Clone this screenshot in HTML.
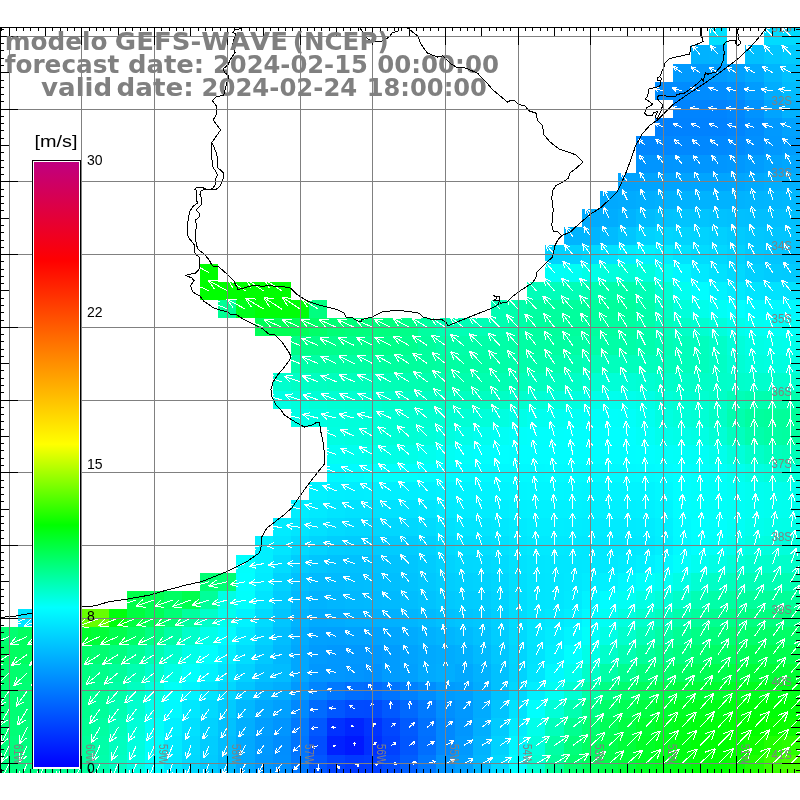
<!DOCTYPE html>
<html><head><meta charset="utf-8"><title>GEFS-WAVE wind forecast</title>
<style>html,body{margin:0;padding:0;background:#fff}svg{display:block}</style></head>
<body>
<svg width="800" height="800" viewBox="0 0 800 800">
<defs><filter id="ga" x="0" y="0" width="800" height="800" filterUnits="userSpaceOnUse"><feOffset dx="0" dy="0"/></filter></defs>
<rect x="0" y="0" width="800" height="800" fill="#fff"/>
<g shape-rendering="crispEdges">
<rect x="709" y="27" width="18" height="18" fill="#00e0ff"/>
<rect x="764" y="27" width="36" height="18" fill="#00dbff"/>
<rect x="691" y="45" width="18" height="19" fill="#00b2ff"/>
<rect x="709" y="45" width="18" height="19" fill="#00b3ff"/>
<rect x="745" y="45" width="19" height="19" fill="#00bfff"/>
<rect x="764" y="45" width="18" height="19" fill="#00c6ff"/>
<rect x="782" y="45" width="18" height="19" fill="#00cbff"/>
<rect x="673" y="64" width="36" height="18" fill="#009aff"/>
<rect x="709" y="64" width="18" height="18" fill="#009bff"/>
<rect x="727" y="64" width="18" height="18" fill="#00a0ff"/>
<rect x="745" y="64" width="19" height="18" fill="#00a9ff"/>
<rect x="764" y="64" width="18" height="18" fill="#00b6ff"/>
<rect x="782" y="64" width="18" height="18" fill="#00c1ff"/>
<rect x="655" y="82" width="54" height="18" fill="#008cff"/>
<rect x="709" y="82" width="18" height="18" fill="#008dff"/>
<rect x="727" y="82" width="18" height="18" fill="#0091ff"/>
<rect x="745" y="82" width="19" height="18" fill="#009cff"/>
<rect x="764" y="82" width="18" height="18" fill="#00adff"/>
<rect x="782" y="82" width="18" height="18" fill="#00bbff"/>
<rect x="673" y="100" width="54" height="18" fill="#0084ff"/>
<rect x="727" y="100" width="18" height="18" fill="#0088ff"/>
<rect x="745" y="100" width="19" height="18" fill="#0093ff"/>
<rect x="764" y="100" width="18" height="18" fill="#00a4ff"/>
<rect x="782" y="100" width="18" height="18" fill="#00b1ff"/>
<rect x="655" y="118" width="18" height="18" fill="#0081ff"/>
<rect x="673" y="118" width="54" height="18" fill="#0082ff"/>
<rect x="727" y="118" width="18" height="18" fill="#0085ff"/>
<rect x="745" y="118" width="19" height="18" fill="#008dff"/>
<rect x="764" y="118" width="18" height="18" fill="#0099ff"/>
<rect x="782" y="118" width="18" height="18" fill="#00a2ff"/>
<rect x="636" y="136" width="37" height="19" fill="#0087ff"/>
<rect x="673" y="136" width="36" height="19" fill="#0088ff"/>
<rect x="709" y="136" width="18" height="19" fill="#0089ff"/>
<rect x="727" y="136" width="18" height="19" fill="#008bff"/>
<rect x="745" y="136" width="19" height="19" fill="#0090ff"/>
<rect x="764" y="136" width="18" height="19" fill="#0098ff"/>
<rect x="782" y="136" width="18" height="19" fill="#009eff"/>
<rect x="636" y="155" width="37" height="18" fill="#0095ff"/>
<rect x="673" y="155" width="54" height="18" fill="#0096ff"/>
<rect x="727" y="155" width="18" height="18" fill="#0098ff"/>
<rect x="745" y="155" width="19" height="18" fill="#009dff"/>
<rect x="764" y="155" width="18" height="18" fill="#00a3ff"/>
<rect x="782" y="155" width="18" height="18" fill="#00a7ff"/>
<rect x="618" y="173" width="18" height="18" fill="#00a3ff"/>
<rect x="636" y="173" width="55" height="18" fill="#00a4ff"/>
<rect x="691" y="173" width="36" height="18" fill="#00a5ff"/>
<rect x="727" y="173" width="18" height="18" fill="#00a6ff"/>
<rect x="745" y="173" width="19" height="18" fill="#00aaff"/>
<rect x="764" y="173" width="18" height="18" fill="#00aeff"/>
<rect x="782" y="173" width="18" height="18" fill="#00b1ff"/>
<rect x="600" y="191" width="18" height="18" fill="#00a9ff"/>
<rect x="618" y="191" width="18" height="18" fill="#00abff"/>
<rect x="636" y="191" width="19" height="18" fill="#00aeff"/>
<rect x="655" y="191" width="18" height="18" fill="#00b1ff"/>
<rect x="673" y="191" width="18" height="18" fill="#00b2ff"/>
<rect x="691" y="191" width="54" height="18" fill="#00b3ff"/>
<rect x="745" y="191" width="19" height="18" fill="#00b5ff"/>
<rect x="764" y="191" width="18" height="18" fill="#00b6ff"/>
<rect x="782" y="191" width="18" height="18" fill="#00b8ff"/>
<rect x="582" y="209" width="18" height="18" fill="#00abff"/>
<rect x="600" y="209" width="18" height="18" fill="#00adff"/>
<rect x="618" y="209" width="18" height="18" fill="#00b3ff"/>
<rect x="636" y="209" width="19" height="18" fill="#00bcff"/>
<rect x="655" y="209" width="18" height="18" fill="#00c2ff"/>
<rect x="673" y="209" width="36" height="18" fill="#00c4ff"/>
<rect x="709" y="209" width="18" height="18" fill="#00c2ff"/>
<rect x="727" y="209" width="18" height="18" fill="#00c0ff"/>
<rect x="745" y="209" width="37" height="18" fill="#00bfff"/>
<rect x="782" y="209" width="18" height="18" fill="#00c0ff"/>
<rect x="564" y="227" width="18" height="18" fill="#00b4ff"/>
<rect x="582" y="227" width="18" height="18" fill="#00b5ff"/>
<rect x="600" y="227" width="18" height="18" fill="#00bbff"/>
<rect x="618" y="227" width="18" height="18" fill="#00c6ff"/>
<rect x="636" y="227" width="19" height="18" fill="#00d2ff"/>
<rect x="655" y="227" width="18" height="18" fill="#00d6ff"/>
<rect x="673" y="227" width="18" height="18" fill="#00d4ff"/>
<rect x="691" y="227" width="18" height="18" fill="#00d3ff"/>
<rect x="709" y="227" width="18" height="18" fill="#00d0ff"/>
<rect x="727" y="227" width="18" height="18" fill="#00cbff"/>
<rect x="745" y="227" width="19" height="18" fill="#00c7ff"/>
<rect x="764" y="227" width="36" height="18" fill="#00c5ff"/>
<rect x="545" y="245" width="37" height="19" fill="#00d2ff"/>
<rect x="582" y="245" width="18" height="19" fill="#00d9ff"/>
<rect x="600" y="245" width="18" height="19" fill="#00e2ff"/>
<rect x="618" y="245" width="18" height="19" fill="#00edff"/>
<rect x="636" y="245" width="19" height="19" fill="#00f2ff"/>
<rect x="655" y="245" width="18" height="19" fill="#00edff"/>
<rect x="673" y="245" width="18" height="19" fill="#00e3ff"/>
<rect x="691" y="245" width="18" height="19" fill="#00dcff"/>
<rect x="709" y="245" width="18" height="19" fill="#00d8ff"/>
<rect x="727" y="245" width="18" height="19" fill="#00d2ff"/>
<rect x="745" y="245" width="19" height="19" fill="#00c9ff"/>
<rect x="764" y="245" width="18" height="19" fill="#00c5ff"/>
<rect x="782" y="245" width="18" height="19" fill="#00c4ff"/>
<rect x="200" y="264" width="18" height="18" fill="#00ff00"/>
<rect x="545" y="264" width="19" height="18" fill="#00fff7"/>
<rect x="564" y="264" width="18" height="18" fill="#00fff4"/>
<rect x="582" y="264" width="18" height="18" fill="#00ffe8"/>
<rect x="600" y="264" width="18" height="18" fill="#00ffdd"/>
<rect x="618" y="264" width="18" height="18" fill="#00ffd7"/>
<rect x="636" y="264" width="19" height="18" fill="#00ffdd"/>
<rect x="655" y="264" width="18" height="18" fill="#00fff2"/>
<rect x="673" y="264" width="18" height="18" fill="#00f7ff"/>
<rect x="691" y="264" width="18" height="18" fill="#00e9ff"/>
<rect x="709" y="264" width="18" height="18" fill="#00e2ff"/>
<rect x="727" y="264" width="18" height="18" fill="#00daff"/>
<rect x="745" y="264" width="19" height="18" fill="#00d0ff"/>
<rect x="764" y="264" width="18" height="18" fill="#00ccff"/>
<rect x="782" y="264" width="18" height="18" fill="#00cbff"/>
<rect x="200" y="282" width="91" height="18" fill="#00ff00"/>
<rect x="527" y="282" width="18" height="18" fill="#00ffb9"/>
<rect x="545" y="282" width="19" height="18" fill="#00ffba"/>
<rect x="564" y="282" width="18" height="18" fill="#00ffb7"/>
<rect x="582" y="282" width="18" height="18" fill="#00ffb0"/>
<rect x="600" y="282" width="18" height="18" fill="#00ffaa"/>
<rect x="618" y="282" width="18" height="18" fill="#00ffa9"/>
<rect x="636" y="282" width="19" height="18" fill="#00ffb6"/>
<rect x="655" y="282" width="18" height="18" fill="#00ffd3"/>
<rect x="673" y="282" width="18" height="18" fill="#00fff0"/>
<rect x="691" y="282" width="18" height="18" fill="#00fdff"/>
<rect x="709" y="282" width="18" height="18" fill="#00f3ff"/>
<rect x="727" y="282" width="18" height="18" fill="#00ebff"/>
<rect x="745" y="282" width="19" height="18" fill="#00e5ff"/>
<rect x="764" y="282" width="18" height="18" fill="#00e3ff"/>
<rect x="782" y="282" width="18" height="18" fill="#00e2ff"/>
<rect x="218" y="300" width="18" height="18" fill="#00ff94"/>
<rect x="236" y="300" width="19" height="18" fill="#00ff1a"/>
<rect x="255" y="300" width="54" height="18" fill="#00ff08"/>
<rect x="309" y="300" width="18" height="18" fill="#00ff80"/>
<rect x="491" y="300" width="18" height="18" fill="#00ffb3"/>
<rect x="509" y="300" width="18" height="18" fill="#00ffab"/>
<rect x="527" y="300" width="18" height="18" fill="#00ffa2"/>
<rect x="545" y="300" width="19" height="18" fill="#00ff9e"/>
<rect x="564" y="300" width="54" height="18" fill="#00ff9d"/>
<rect x="618" y="300" width="18" height="18" fill="#00ff9e"/>
<rect x="636" y="300" width="19" height="18" fill="#00ffaa"/>
<rect x="655" y="300" width="18" height="18" fill="#00ffc4"/>
<rect x="673" y="300" width="18" height="18" fill="#00ffdb"/>
<rect x="691" y="300" width="18" height="18" fill="#00ffeb"/>
<rect x="709" y="300" width="18" height="18" fill="#00fff6"/>
<rect x="727" y="300" width="18" height="18" fill="#00ffff"/>
<rect x="745" y="300" width="19" height="18" fill="#00faff"/>
<rect x="764" y="300" width="36" height="18" fill="#00f9ff"/>
<rect x="255" y="318" width="18" height="18" fill="#00ff57"/>
<rect x="273" y="318" width="18" height="18" fill="#00ff54"/>
<rect x="291" y="318" width="18" height="18" fill="#00ff59"/>
<rect x="309" y="318" width="18" height="18" fill="#00ff68"/>
<rect x="327" y="318" width="18" height="18" fill="#00ff75"/>
<rect x="345" y="318" width="19" height="18" fill="#00ff7b"/>
<rect x="364" y="318" width="36" height="18" fill="#00ff7e"/>
<rect x="400" y="318" width="18" height="18" fill="#00ff89"/>
<rect x="418" y="318" width="18" height="18" fill="#00ffa1"/>
<rect x="436" y="318" width="19" height="18" fill="#00ffb2"/>
<rect x="455" y="318" width="36" height="18" fill="#00ffb6"/>
<rect x="491" y="318" width="18" height="18" fill="#00ffb1"/>
<rect x="509" y="318" width="18" height="18" fill="#00ffa9"/>
<rect x="527" y="318" width="18" height="18" fill="#00ffa0"/>
<rect x="545" y="318" width="19" height="18" fill="#00ff9c"/>
<rect x="564" y="318" width="18" height="18" fill="#00ff9d"/>
<rect x="582" y="318" width="18" height="18" fill="#00ff9f"/>
<rect x="600" y="318" width="18" height="18" fill="#00ffa0"/>
<rect x="618" y="318" width="18" height="18" fill="#00ffa1"/>
<rect x="636" y="318" width="19" height="18" fill="#00ffaa"/>
<rect x="655" y="318" width="18" height="18" fill="#00ffbc"/>
<rect x="673" y="318" width="18" height="18" fill="#00ffc8"/>
<rect x="691" y="318" width="18" height="18" fill="#00ffd1"/>
<rect x="709" y="318" width="18" height="18" fill="#00ffdc"/>
<rect x="727" y="318" width="18" height="18" fill="#00ffeb"/>
<rect x="745" y="318" width="19" height="18" fill="#00fff3"/>
<rect x="764" y="318" width="18" height="18" fill="#00fff6"/>
<rect x="782" y="318" width="18" height="18" fill="#00fff7"/>
<rect x="291" y="336" width="18" height="19" fill="#00ff87"/>
<rect x="309" y="336" width="18" height="19" fill="#00ff89"/>
<rect x="327" y="336" width="18" height="19" fill="#00ff8d"/>
<rect x="345" y="336" width="19" height="19" fill="#00ff8f"/>
<rect x="364" y="336" width="18" height="19" fill="#00ff8d"/>
<rect x="382" y="336" width="18" height="19" fill="#00ff8a"/>
<rect x="400" y="336" width="18" height="19" fill="#00ff8f"/>
<rect x="418" y="336" width="18" height="19" fill="#00ff9d"/>
<rect x="436" y="336" width="19" height="19" fill="#00ffa7"/>
<rect x="455" y="336" width="36" height="19" fill="#00ffa9"/>
<rect x="491" y="336" width="18" height="19" fill="#00ffa8"/>
<rect x="509" y="336" width="18" height="19" fill="#00ffa5"/>
<rect x="527" y="336" width="18" height="19" fill="#00ffa3"/>
<rect x="545" y="336" width="19" height="19" fill="#00ffa1"/>
<rect x="564" y="336" width="18" height="19" fill="#00ffa3"/>
<rect x="582" y="336" width="18" height="19" fill="#00ffa6"/>
<rect x="600" y="336" width="18" height="19" fill="#00ffa7"/>
<rect x="618" y="336" width="18" height="19" fill="#00ffa8"/>
<rect x="636" y="336" width="19" height="19" fill="#00ffad"/>
<rect x="655" y="336" width="18" height="19" fill="#00ffb5"/>
<rect x="673" y="336" width="18" height="19" fill="#00ffbb"/>
<rect x="691" y="336" width="18" height="19" fill="#00ffbe"/>
<rect x="709" y="336" width="18" height="19" fill="#00ffc8"/>
<rect x="727" y="336" width="18" height="19" fill="#00ffda"/>
<rect x="745" y="336" width="19" height="19" fill="#00ffe5"/>
<rect x="764" y="336" width="18" height="19" fill="#00ffe9"/>
<rect x="782" y="336" width="18" height="19" fill="#00ffeb"/>
<rect x="291" y="355" width="18" height="18" fill="#00ffa9"/>
<rect x="309" y="355" width="18" height="18" fill="#00ffa6"/>
<rect x="327" y="355" width="37" height="18" fill="#00ffa5"/>
<rect x="364" y="355" width="18" height="18" fill="#00ffa3"/>
<rect x="382" y="355" width="18" height="18" fill="#00ff9f"/>
<rect x="400" y="355" width="18" height="18" fill="#00ff9d"/>
<rect x="418" y="355" width="18" height="18" fill="#00ff9f"/>
<rect x="436" y="355" width="19" height="18" fill="#00ffa2"/>
<rect x="455" y="355" width="18" height="18" fill="#00ffa4"/>
<rect x="473" y="355" width="18" height="18" fill="#00ffa6"/>
<rect x="491" y="355" width="18" height="18" fill="#00ffa8"/>
<rect x="509" y="355" width="18" height="18" fill="#00ffab"/>
<rect x="527" y="355" width="18" height="18" fill="#00ffac"/>
<rect x="545" y="355" width="19" height="18" fill="#00ffad"/>
<rect x="564" y="355" width="18" height="18" fill="#00ffb1"/>
<rect x="582" y="355" width="18" height="18" fill="#00ffb8"/>
<rect x="600" y="355" width="55" height="18" fill="#00ffbd"/>
<rect x="655" y="355" width="18" height="18" fill="#00ffbc"/>
<rect x="673" y="355" width="18" height="18" fill="#00ffbb"/>
<rect x="691" y="355" width="18" height="18" fill="#00ffbd"/>
<rect x="709" y="355" width="18" height="18" fill="#00ffc5"/>
<rect x="727" y="355" width="18" height="18" fill="#00ffd4"/>
<rect x="745" y="355" width="19" height="18" fill="#00ffdd"/>
<rect x="764" y="355" width="18" height="18" fill="#00ffe0"/>
<rect x="782" y="355" width="18" height="18" fill="#00ffe1"/>
<rect x="273" y="373" width="18" height="18" fill="#00ffce"/>
<rect x="291" y="373" width="18" height="18" fill="#00ffc6"/>
<rect x="309" y="373" width="18" height="18" fill="#00ffc1"/>
<rect x="327" y="373" width="18" height="18" fill="#00ffbd"/>
<rect x="345" y="373" width="19" height="18" fill="#00ffbc"/>
<rect x="364" y="373" width="18" height="18" fill="#00ffbb"/>
<rect x="382" y="373" width="18" height="18" fill="#00ffb7"/>
<rect x="400" y="373" width="18" height="18" fill="#00ffb2"/>
<rect x="418" y="373" width="18" height="18" fill="#00ffaf"/>
<rect x="436" y="373" width="37" height="18" fill="#00ffae"/>
<rect x="473" y="373" width="18" height="18" fill="#00ffb0"/>
<rect x="491" y="373" width="18" height="18" fill="#00ffb3"/>
<rect x="509" y="373" width="18" height="18" fill="#00ffb9"/>
<rect x="527" y="373" width="18" height="18" fill="#00ffbe"/>
<rect x="545" y="373" width="19" height="18" fill="#00ffc1"/>
<rect x="564" y="373" width="18" height="18" fill="#00ffc7"/>
<rect x="582" y="373" width="18" height="18" fill="#00ffd1"/>
<rect x="600" y="373" width="36" height="18" fill="#00ffd7"/>
<rect x="636" y="373" width="19" height="18" fill="#00ffd3"/>
<rect x="655" y="373" width="18" height="18" fill="#00ffcc"/>
<rect x="673" y="373" width="18" height="18" fill="#00ffc9"/>
<rect x="691" y="373" width="18" height="18" fill="#00ffc8"/>
<rect x="709" y="373" width="18" height="18" fill="#00ffc9"/>
<rect x="727" y="373" width="18" height="18" fill="#00ffcb"/>
<rect x="745" y="373" width="55" height="18" fill="#00ffcd"/>
<rect x="273" y="391" width="18" height="18" fill="#00ffe4"/>
<rect x="291" y="391" width="18" height="18" fill="#00ffdc"/>
<rect x="309" y="391" width="18" height="18" fill="#00ffd6"/>
<rect x="327" y="391" width="18" height="18" fill="#00ffd3"/>
<rect x="345" y="391" width="19" height="18" fill="#00ffd1"/>
<rect x="364" y="391" width="18" height="18" fill="#00ffcf"/>
<rect x="382" y="391" width="18" height="18" fill="#00ffcb"/>
<rect x="400" y="391" width="18" height="18" fill="#00ffc7"/>
<rect x="418" y="391" width="18" height="18" fill="#00ffc4"/>
<rect x="436" y="391" width="37" height="18" fill="#00ffc1"/>
<rect x="473" y="391" width="18" height="18" fill="#00ffc2"/>
<rect x="491" y="391" width="18" height="18" fill="#00ffc6"/>
<rect x="509" y="391" width="18" height="18" fill="#00ffce"/>
<rect x="527" y="391" width="18" height="18" fill="#00ffd6"/>
<rect x="545" y="391" width="19" height="18" fill="#00ffda"/>
<rect x="564" y="391" width="18" height="18" fill="#00ffdf"/>
<rect x="582" y="391" width="18" height="18" fill="#00ffe8"/>
<rect x="600" y="391" width="18" height="18" fill="#00ffed"/>
<rect x="618" y="391" width="18" height="18" fill="#00ffec"/>
<rect x="636" y="391" width="19" height="18" fill="#00ffe6"/>
<rect x="655" y="391" width="18" height="18" fill="#00ffd9"/>
<rect x="673" y="391" width="18" height="18" fill="#00ffd3"/>
<rect x="691" y="391" width="18" height="18" fill="#00ffd0"/>
<rect x="709" y="391" width="18" height="18" fill="#00ffc8"/>
<rect x="727" y="391" width="18" height="18" fill="#00ffb8"/>
<rect x="745" y="391" width="19" height="18" fill="#00ffb0"/>
<rect x="764" y="391" width="36" height="18" fill="#00ffae"/>
<rect x="291" y="409" width="18" height="18" fill="#00ffe5"/>
<rect x="309" y="409" width="18" height="18" fill="#00ffe2"/>
<rect x="327" y="409" width="18" height="18" fill="#00ffde"/>
<rect x="345" y="409" width="19" height="18" fill="#00ffdb"/>
<rect x="364" y="409" width="18" height="18" fill="#00ffd8"/>
<rect x="382" y="409" width="18" height="18" fill="#00ffd3"/>
<rect x="400" y="409" width="36" height="18" fill="#00ffd0"/>
<rect x="436" y="409" width="19" height="18" fill="#00ffd2"/>
<rect x="455" y="409" width="18" height="18" fill="#00ffd5"/>
<rect x="473" y="409" width="18" height="18" fill="#00ffda"/>
<rect x="491" y="409" width="18" height="18" fill="#00ffe0"/>
<rect x="509" y="409" width="18" height="18" fill="#00ffe8"/>
<rect x="527" y="409" width="18" height="18" fill="#00ffef"/>
<rect x="545" y="409" width="19" height="18" fill="#00fff1"/>
<rect x="564" y="409" width="18" height="18" fill="#00fff4"/>
<rect x="582" y="409" width="18" height="18" fill="#00fff8"/>
<rect x="600" y="409" width="18" height="18" fill="#00fffa"/>
<rect x="618" y="409" width="18" height="18" fill="#00fff9"/>
<rect x="636" y="409" width="19" height="18" fill="#00fff0"/>
<rect x="655" y="409" width="18" height="18" fill="#00ffe1"/>
<rect x="673" y="409" width="18" height="18" fill="#00ffd9"/>
<rect x="691" y="409" width="18" height="18" fill="#00ffd5"/>
<rect x="709" y="409" width="18" height="18" fill="#00ffc7"/>
<rect x="727" y="409" width="18" height="18" fill="#00ffaf"/>
<rect x="745" y="409" width="19" height="18" fill="#00ff9f"/>
<rect x="764" y="409" width="18" height="18" fill="#00ff9b"/>
<rect x="782" y="409" width="18" height="18" fill="#00ff9a"/>
<rect x="327" y="427" width="18" height="18" fill="#00ffe2"/>
<rect x="345" y="427" width="19" height="18" fill="#00ffde"/>
<rect x="364" y="427" width="18" height="18" fill="#00ffda"/>
<rect x="382" y="427" width="18" height="18" fill="#00ffd6"/>
<rect x="400" y="427" width="18" height="18" fill="#00ffd5"/>
<rect x="418" y="427" width="18" height="18" fill="#00ffd9"/>
<rect x="436" y="427" width="19" height="18" fill="#00ffe0"/>
<rect x="455" y="427" width="18" height="18" fill="#00ffe7"/>
<rect x="473" y="427" width="18" height="18" fill="#00ffef"/>
<rect x="491" y="427" width="18" height="18" fill="#00fff5"/>
<rect x="509" y="427" width="18" height="18" fill="#00fffa"/>
<rect x="527" y="427" width="37" height="18" fill="#00fffc"/>
<rect x="564" y="427" width="18" height="18" fill="#00fffd"/>
<rect x="582" y="427" width="54" height="18" fill="#00fffe"/>
<rect x="636" y="427" width="19" height="18" fill="#00fff7"/>
<rect x="655" y="427" width="18" height="18" fill="#00ffec"/>
<rect x="673" y="427" width="18" height="18" fill="#00ffe8"/>
<rect x="691" y="427" width="18" height="18" fill="#00ffe4"/>
<rect x="709" y="427" width="18" height="18" fill="#00ffd6"/>
<rect x="727" y="427" width="18" height="18" fill="#00ffbf"/>
<rect x="745" y="427" width="19" height="18" fill="#00ffac"/>
<rect x="764" y="427" width="18" height="18" fill="#00ffa3"/>
<rect x="782" y="427" width="18" height="18" fill="#00ffa0"/>
<rect x="327" y="445" width="18" height="19" fill="#00fff3"/>
<rect x="345" y="445" width="19" height="19" fill="#00ffef"/>
<rect x="364" y="445" width="18" height="19" fill="#00ffe9"/>
<rect x="382" y="445" width="18" height="19" fill="#00ffe6"/>
<rect x="400" y="445" width="18" height="19" fill="#00ffe8"/>
<rect x="418" y="445" width="18" height="19" fill="#00ffee"/>
<rect x="436" y="445" width="19" height="19" fill="#00fff4"/>
<rect x="455" y="445" width="18" height="19" fill="#00fff9"/>
<rect x="473" y="445" width="18" height="19" fill="#00fffd"/>
<rect x="491" y="445" width="18" height="19" fill="#00ffff"/>
<rect x="509" y="445" width="127" height="19" fill="#00feff"/>
<rect x="636" y="445" width="19" height="19" fill="#00fffe"/>
<rect x="655" y="445" width="18" height="19" fill="#00fffa"/>
<rect x="673" y="445" width="18" height="19" fill="#00fff8"/>
<rect x="691" y="445" width="18" height="19" fill="#00fff6"/>
<rect x="709" y="445" width="18" height="19" fill="#00ffec"/>
<rect x="727" y="445" width="18" height="19" fill="#00ffdb"/>
<rect x="745" y="445" width="19" height="19" fill="#00ffca"/>
<rect x="764" y="445" width="18" height="19" fill="#00ffbe"/>
<rect x="782" y="445" width="18" height="19" fill="#00ffb9"/>
<rect x="327" y="464" width="18" height="18" fill="#00faff"/>
<rect x="345" y="464" width="19" height="18" fill="#00fcff"/>
<rect x="364" y="464" width="18" height="18" fill="#00fffe"/>
<rect x="382" y="464" width="18" height="18" fill="#00fffd"/>
<rect x="400" y="464" width="18" height="18" fill="#00fffe"/>
<rect x="418" y="464" width="18" height="18" fill="#00fdff"/>
<rect x="436" y="464" width="19" height="18" fill="#00fbff"/>
<rect x="455" y="464" width="90" height="18" fill="#00faff"/>
<rect x="545" y="464" width="19" height="18" fill="#00fbff"/>
<rect x="564" y="464" width="72" height="18" fill="#00faff"/>
<rect x="636" y="464" width="19" height="18" fill="#00fbff"/>
<rect x="655" y="464" width="18" height="18" fill="#00fdff"/>
<rect x="673" y="464" width="18" height="18" fill="#00ffff"/>
<rect x="691" y="464" width="18" height="18" fill="#00fffc"/>
<rect x="709" y="464" width="18" height="18" fill="#00fff8"/>
<rect x="727" y="464" width="18" height="18" fill="#00ffef"/>
<rect x="745" y="464" width="19" height="18" fill="#00ffe3"/>
<rect x="764" y="464" width="18" height="18" fill="#00ffdb"/>
<rect x="782" y="464" width="18" height="18" fill="#00ffd8"/>
<rect x="309" y="482" width="18" height="18" fill="#00f2ff"/>
<rect x="327" y="482" width="18" height="18" fill="#00efff"/>
<rect x="345" y="482" width="19" height="18" fill="#00eeff"/>
<rect x="364" y="482" width="54" height="18" fill="#00efff"/>
<rect x="418" y="482" width="18" height="18" fill="#00f0ff"/>
<rect x="436" y="482" width="19" height="18" fill="#00f2ff"/>
<rect x="455" y="482" width="36" height="18" fill="#00f4ff"/>
<rect x="491" y="482" width="18" height="18" fill="#00f5ff"/>
<rect x="509" y="482" width="18" height="18" fill="#00f6ff"/>
<rect x="527" y="482" width="37" height="18" fill="#00f7ff"/>
<rect x="564" y="482" width="18" height="18" fill="#00f6ff"/>
<rect x="582" y="482" width="73" height="18" fill="#00f5ff"/>
<rect x="655" y="482" width="18" height="18" fill="#00f9ff"/>
<rect x="673" y="482" width="18" height="18" fill="#00ffff"/>
<rect x="691" y="482" width="18" height="18" fill="#00fffb"/>
<rect x="709" y="482" width="18" height="18" fill="#00fff9"/>
<rect x="727" y="482" width="18" height="18" fill="#00fff5"/>
<rect x="745" y="482" width="19" height="18" fill="#00fff0"/>
<rect x="764" y="482" width="18" height="18" fill="#00ffed"/>
<rect x="782" y="482" width="18" height="18" fill="#00ffeb"/>
<rect x="291" y="500" width="18" height="18" fill="#00eeff"/>
<rect x="309" y="500" width="18" height="18" fill="#00eaff"/>
<rect x="327" y="500" width="18" height="18" fill="#00e5ff"/>
<rect x="345" y="500" width="73" height="18" fill="#00e2ff"/>
<rect x="418" y="500" width="18" height="18" fill="#00e5ff"/>
<rect x="436" y="500" width="19" height="18" fill="#00eaff"/>
<rect x="455" y="500" width="18" height="18" fill="#00ecff"/>
<rect x="473" y="500" width="18" height="18" fill="#00edff"/>
<rect x="491" y="500" width="18" height="18" fill="#00eeff"/>
<rect x="509" y="500" width="18" height="18" fill="#00f1ff"/>
<rect x="527" y="500" width="55" height="18" fill="#00f2ff"/>
<rect x="582" y="500" width="18" height="18" fill="#00f1ff"/>
<rect x="600" y="500" width="36" height="18" fill="#00f0ff"/>
<rect x="636" y="500" width="19" height="18" fill="#00f1ff"/>
<rect x="655" y="500" width="18" height="18" fill="#00f5ff"/>
<rect x="673" y="500" width="18" height="18" fill="#00feff"/>
<rect x="691" y="500" width="18" height="18" fill="#00fffb"/>
<rect x="709" y="500" width="18" height="18" fill="#00fff9"/>
<rect x="727" y="500" width="18" height="18" fill="#00fff6"/>
<rect x="745" y="500" width="19" height="18" fill="#00fff2"/>
<rect x="764" y="500" width="18" height="18" fill="#00ffef"/>
<rect x="782" y="500" width="18" height="18" fill="#00ffee"/>
<rect x="273" y="518" width="18" height="18" fill="#00ecff"/>
<rect x="291" y="518" width="18" height="18" fill="#00e6ff"/>
<rect x="309" y="518" width="18" height="18" fill="#00e1ff"/>
<rect x="327" y="518" width="18" height="18" fill="#00dbff"/>
<rect x="345" y="518" width="19" height="18" fill="#00d8ff"/>
<rect x="364" y="518" width="36" height="18" fill="#00d7ff"/>
<rect x="400" y="518" width="18" height="18" fill="#00d8ff"/>
<rect x="418" y="518" width="18" height="18" fill="#00dbff"/>
<rect x="436" y="518" width="19" height="18" fill="#00e1ff"/>
<rect x="455" y="518" width="36" height="18" fill="#00e5ff"/>
<rect x="491" y="518" width="18" height="18" fill="#00e8ff"/>
<rect x="509" y="518" width="18" height="18" fill="#00ebff"/>
<rect x="527" y="518" width="37" height="18" fill="#00eeff"/>
<rect x="564" y="518" width="18" height="18" fill="#00edff"/>
<rect x="582" y="518" width="18" height="18" fill="#00ecff"/>
<rect x="600" y="518" width="36" height="18" fill="#00ebff"/>
<rect x="636" y="518" width="19" height="18" fill="#00ecff"/>
<rect x="655" y="518" width="18" height="18" fill="#00f1ff"/>
<rect x="673" y="518" width="18" height="18" fill="#00fbff"/>
<rect x="691" y="518" width="18" height="18" fill="#00fffe"/>
<rect x="709" y="518" width="18" height="18" fill="#00fffc"/>
<rect x="727" y="518" width="18" height="18" fill="#00fff6"/>
<rect x="745" y="518" width="19" height="18" fill="#00ffed"/>
<rect x="764" y="518" width="18" height="18" fill="#00ffe8"/>
<rect x="782" y="518" width="18" height="18" fill="#00ffe7"/>
<rect x="255" y="536" width="18" height="19" fill="#00efff"/>
<rect x="273" y="536" width="18" height="19" fill="#00e6ff"/>
<rect x="291" y="536" width="18" height="19" fill="#00dbff"/>
<rect x="309" y="536" width="18" height="19" fill="#00d4ff"/>
<rect x="327" y="536" width="18" height="19" fill="#00ceff"/>
<rect x="345" y="536" width="55" height="19" fill="#00ccff"/>
<rect x="400" y="536" width="18" height="19" fill="#00cdff"/>
<rect x="418" y="536" width="18" height="19" fill="#00d2ff"/>
<rect x="436" y="536" width="19" height="19" fill="#00daff"/>
<rect x="455" y="536" width="18" height="19" fill="#00deff"/>
<rect x="473" y="536" width="18" height="19" fill="#00dfff"/>
<rect x="491" y="536" width="18" height="19" fill="#00e2ff"/>
<rect x="509" y="536" width="18" height="19" fill="#00e7ff"/>
<rect x="527" y="536" width="37" height="19" fill="#00eaff"/>
<rect x="564" y="536" width="18" height="19" fill="#00e9ff"/>
<rect x="582" y="536" width="54" height="19" fill="#00e8ff"/>
<rect x="636" y="536" width="19" height="19" fill="#00e9ff"/>
<rect x="655" y="536" width="18" height="19" fill="#00efff"/>
<rect x="673" y="536" width="18" height="19" fill="#00faff"/>
<rect x="691" y="536" width="18" height="19" fill="#00fffd"/>
<rect x="709" y="536" width="18" height="19" fill="#00fff8"/>
<rect x="727" y="536" width="18" height="19" fill="#00ffee"/>
<rect x="745" y="536" width="19" height="19" fill="#00ffe2"/>
<rect x="764" y="536" width="18" height="19" fill="#00ffdd"/>
<rect x="782" y="536" width="18" height="19" fill="#00ffdc"/>
<rect x="236" y="555" width="19" height="18" fill="#00fffd"/>
<rect x="255" y="555" width="18" height="18" fill="#00efff"/>
<rect x="273" y="555" width="18" height="18" fill="#00ddff"/>
<rect x="291" y="555" width="18" height="18" fill="#00cdff"/>
<rect x="309" y="555" width="18" height="18" fill="#00c6ff"/>
<rect x="327" y="555" width="18" height="18" fill="#00c2ff"/>
<rect x="345" y="555" width="19" height="18" fill="#00c1ff"/>
<rect x="364" y="555" width="18" height="18" fill="#00c2ff"/>
<rect x="382" y="555" width="18" height="18" fill="#00c3ff"/>
<rect x="400" y="555" width="18" height="18" fill="#00c6ff"/>
<rect x="418" y="555" width="18" height="18" fill="#00ccff"/>
<rect x="436" y="555" width="19" height="18" fill="#00d3ff"/>
<rect x="455" y="555" width="18" height="18" fill="#00d8ff"/>
<rect x="473" y="555" width="18" height="18" fill="#00d9ff"/>
<rect x="491" y="555" width="18" height="18" fill="#00dcff"/>
<rect x="509" y="555" width="18" height="18" fill="#00e3ff"/>
<rect x="527" y="555" width="18" height="18" fill="#00e6ff"/>
<rect x="545" y="555" width="37" height="18" fill="#00e7ff"/>
<rect x="582" y="555" width="18" height="18" fill="#00e8ff"/>
<rect x="600" y="555" width="18" height="18" fill="#00e9ff"/>
<rect x="618" y="555" width="18" height="18" fill="#00ecff"/>
<rect x="636" y="555" width="19" height="18" fill="#00f0ff"/>
<rect x="655" y="555" width="18" height="18" fill="#00f7ff"/>
<rect x="673" y="555" width="18" height="18" fill="#00fffb"/>
<rect x="691" y="555" width="18" height="18" fill="#00fff0"/>
<rect x="709" y="555" width="18" height="18" fill="#00ffe5"/>
<rect x="727" y="555" width="18" height="18" fill="#00ffd8"/>
<rect x="745" y="555" width="19" height="18" fill="#00ffce"/>
<rect x="764" y="555" width="18" height="18" fill="#00ffcb"/>
<rect x="782" y="555" width="18" height="18" fill="#00ffca"/>
<rect x="200" y="573" width="36" height="18" fill="#00ff73"/>
<rect x="236" y="573" width="19" height="18" fill="#00ffff"/>
<rect x="255" y="573" width="18" height="18" fill="#00ecff"/>
<rect x="273" y="573" width="18" height="18" fill="#00d3ff"/>
<rect x="291" y="573" width="18" height="18" fill="#00c1ff"/>
<rect x="309" y="573" width="36" height="18" fill="#00bbff"/>
<rect x="345" y="573" width="19" height="18" fill="#00bdff"/>
<rect x="364" y="573" width="18" height="18" fill="#00beff"/>
<rect x="382" y="573" width="18" height="18" fill="#00bfff"/>
<rect x="400" y="573" width="18" height="18" fill="#00c3ff"/>
<rect x="418" y="573" width="18" height="18" fill="#00c8ff"/>
<rect x="436" y="573" width="19" height="18" fill="#00ceff"/>
<rect x="455" y="573" width="18" height="18" fill="#00d1ff"/>
<rect x="473" y="573" width="18" height="18" fill="#00d3ff"/>
<rect x="491" y="573" width="18" height="18" fill="#00d7ff"/>
<rect x="509" y="573" width="18" height="18" fill="#00e0ff"/>
<rect x="527" y="573" width="18" height="18" fill="#00e5ff"/>
<rect x="545" y="573" width="19" height="18" fill="#00e6ff"/>
<rect x="564" y="573" width="18" height="18" fill="#00e8ff"/>
<rect x="582" y="573" width="18" height="18" fill="#00ecff"/>
<rect x="600" y="573" width="18" height="18" fill="#00f1ff"/>
<rect x="618" y="573" width="18" height="18" fill="#00f8ff"/>
<rect x="636" y="573" width="19" height="18" fill="#00fffb"/>
<rect x="655" y="573" width="18" height="18" fill="#00fff3"/>
<rect x="673" y="573" width="18" height="18" fill="#00ffe5"/>
<rect x="691" y="573" width="18" height="18" fill="#00ffd2"/>
<rect x="709" y="573" width="18" height="18" fill="#00ffc5"/>
<rect x="727" y="573" width="18" height="18" fill="#00ffbc"/>
<rect x="745" y="573" width="19" height="18" fill="#00ffb6"/>
<rect x="764" y="573" width="18" height="18" fill="#00ffb3"/>
<rect x="782" y="573" width="18" height="18" fill="#00ffb2"/>
<rect x="127" y="591" width="18" height="18" fill="#00ff49"/>
<rect x="145" y="591" width="19" height="18" fill="#00ff52"/>
<rect x="164" y="591" width="18" height="18" fill="#00ff62"/>
<rect x="182" y="591" width="18" height="18" fill="#00ff4d"/>
<rect x="200" y="591" width="18" height="18" fill="#00ff99"/>
<rect x="218" y="591" width="18" height="18" fill="#00ffe5"/>
<rect x="236" y="591" width="19" height="18" fill="#00fffc"/>
<rect x="255" y="591" width="18" height="18" fill="#00e5ff"/>
<rect x="273" y="591" width="18" height="18" fill="#00ccff"/>
<rect x="291" y="591" width="18" height="18" fill="#00baff"/>
<rect x="309" y="591" width="18" height="18" fill="#00b3ff"/>
<rect x="327" y="591" width="18" height="18" fill="#00b6ff"/>
<rect x="345" y="591" width="19" height="18" fill="#00b8ff"/>
<rect x="364" y="591" width="18" height="18" fill="#00b9ff"/>
<rect x="382" y="591" width="18" height="18" fill="#00baff"/>
<rect x="400" y="591" width="18" height="18" fill="#00beff"/>
<rect x="418" y="591" width="18" height="18" fill="#00c3ff"/>
<rect x="436" y="591" width="19" height="18" fill="#00c9ff"/>
<rect x="455" y="591" width="18" height="18" fill="#00ccff"/>
<rect x="473" y="591" width="18" height="18" fill="#00cdff"/>
<rect x="491" y="591" width="18" height="18" fill="#00d3ff"/>
<rect x="509" y="591" width="18" height="18" fill="#00deff"/>
<rect x="527" y="591" width="18" height="18" fill="#00e5ff"/>
<rect x="545" y="591" width="19" height="18" fill="#00e6ff"/>
<rect x="564" y="591" width="18" height="18" fill="#00eaff"/>
<rect x="582" y="591" width="18" height="18" fill="#00f3ff"/>
<rect x="600" y="591" width="18" height="18" fill="#00fdff"/>
<rect x="618" y="591" width="18" height="18" fill="#00fff4"/>
<rect x="636" y="591" width="19" height="18" fill="#00ffe5"/>
<rect x="655" y="591" width="18" height="18" fill="#00ffd9"/>
<rect x="673" y="591" width="18" height="18" fill="#00ffc8"/>
<rect x="691" y="591" width="18" height="18" fill="#00ffb4"/>
<rect x="709" y="591" width="18" height="18" fill="#00ffa8"/>
<rect x="727" y="591" width="18" height="18" fill="#00ffa1"/>
<rect x="745" y="591" width="19" height="18" fill="#00ff9c"/>
<rect x="764" y="591" width="18" height="18" fill="#00ff99"/>
<rect x="782" y="591" width="18" height="18" fill="#00ff98"/>
<rect x="18" y="609" width="18" height="18" fill="#00e6ff"/>
<rect x="36" y="609" width="19" height="18" fill="#33ff00"/>
<rect x="55" y="609" width="18" height="18" fill="#4cff00"/>
<rect x="73" y="609" width="36" height="18" fill="#66ff00"/>
<rect x="109" y="609" width="18" height="18" fill="#00ff0d"/>
<rect x="127" y="609" width="18" height="18" fill="#00ff40"/>
<rect x="145" y="609" width="19" height="18" fill="#00ff57"/>
<rect x="164" y="609" width="18" height="18" fill="#00ff75"/>
<rect x="182" y="609" width="18" height="18" fill="#00ff9e"/>
<rect x="200" y="609" width="18" height="18" fill="#00ffca"/>
<rect x="218" y="609" width="18" height="18" fill="#00ffef"/>
<rect x="236" y="609" width="19" height="18" fill="#00f3ff"/>
<rect x="255" y="609" width="18" height="18" fill="#00dbff"/>
<rect x="273" y="609" width="18" height="18" fill="#00c6ff"/>
<rect x="291" y="609" width="18" height="18" fill="#00b4ff"/>
<rect x="309" y="609" width="18" height="18" fill="#00abff"/>
<rect x="327" y="609" width="18" height="18" fill="#00acff"/>
<rect x="345" y="609" width="19" height="18" fill="#00afff"/>
<rect x="364" y="609" width="18" height="18" fill="#00b0ff"/>
<rect x="382" y="609" width="18" height="18" fill="#00b1ff"/>
<rect x="400" y="609" width="18" height="18" fill="#00b6ff"/>
<rect x="418" y="609" width="18" height="18" fill="#00bbff"/>
<rect x="436" y="609" width="19" height="18" fill="#00c1ff"/>
<rect x="455" y="609" width="18" height="18" fill="#00c5ff"/>
<rect x="473" y="609" width="18" height="18" fill="#00c8ff"/>
<rect x="491" y="609" width="18" height="18" fill="#00d0ff"/>
<rect x="509" y="609" width="18" height="18" fill="#00ddff"/>
<rect x="527" y="609" width="18" height="18" fill="#00e5ff"/>
<rect x="545" y="609" width="19" height="18" fill="#00e9ff"/>
<rect x="564" y="609" width="18" height="18" fill="#00efff"/>
<rect x="582" y="609" width="18" height="18" fill="#00faff"/>
<rect x="600" y="609" width="18" height="18" fill="#00fff5"/>
<rect x="618" y="609" width="18" height="18" fill="#00ffe0"/>
<rect x="636" y="609" width="19" height="18" fill="#00ffce"/>
<rect x="655" y="609" width="18" height="18" fill="#00ffbf"/>
<rect x="673" y="609" width="18" height="18" fill="#00ffac"/>
<rect x="691" y="609" width="18" height="18" fill="#00ff9c"/>
<rect x="709" y="609" width="18" height="18" fill="#00ff91"/>
<rect x="727" y="609" width="18" height="18" fill="#00ff88"/>
<rect x="745" y="609" width="19" height="18" fill="#00ff82"/>
<rect x="764" y="609" width="18" height="18" fill="#00ff7f"/>
<rect x="782" y="609" width="18" height="18" fill="#00ff7e"/>
<rect x="0" y="627" width="18" height="18" fill="#00ff70"/>
<rect x="18" y="627" width="18" height="18" fill="#00ff5f"/>
<rect x="36" y="627" width="19" height="18" fill="#00ff3e"/>
<rect x="55" y="627" width="36" height="18" fill="#00ff2d"/>
<rect x="91" y="627" width="18" height="18" fill="#00ff38"/>
<rect x="109" y="627" width="18" height="18" fill="#00ff4e"/>
<rect x="127" y="627" width="18" height="18" fill="#00ff67"/>
<rect x="145" y="627" width="19" height="18" fill="#00ff83"/>
<rect x="164" y="627" width="18" height="18" fill="#00ffa5"/>
<rect x="182" y="627" width="18" height="18" fill="#00ffca"/>
<rect x="200" y="627" width="18" height="18" fill="#00ffe9"/>
<rect x="218" y="627" width="18" height="18" fill="#00fdff"/>
<rect x="236" y="627" width="19" height="18" fill="#00e8ff"/>
<rect x="255" y="627" width="18" height="18" fill="#00d2ff"/>
<rect x="273" y="627" width="18" height="18" fill="#00beff"/>
<rect x="291" y="627" width="18" height="18" fill="#00acff"/>
<rect x="309" y="627" width="18" height="18" fill="#00a1ff"/>
<rect x="327" y="627" width="18" height="18" fill="#00a0ff"/>
<rect x="345" y="627" width="37" height="18" fill="#00a2ff"/>
<rect x="382" y="627" width="18" height="18" fill="#00a5ff"/>
<rect x="400" y="627" width="18" height="18" fill="#00abff"/>
<rect x="418" y="627" width="18" height="18" fill="#00b1ff"/>
<rect x="436" y="627" width="19" height="18" fill="#00b6ff"/>
<rect x="455" y="627" width="18" height="18" fill="#00bbff"/>
<rect x="473" y="627" width="18" height="18" fill="#00c2ff"/>
<rect x="491" y="627" width="18" height="18" fill="#00cdff"/>
<rect x="509" y="627" width="18" height="18" fill="#00daff"/>
<rect x="527" y="627" width="18" height="18" fill="#00e5ff"/>
<rect x="545" y="627" width="19" height="18" fill="#00ecff"/>
<rect x="564" y="627" width="18" height="18" fill="#00f5ff"/>
<rect x="582" y="627" width="18" height="18" fill="#00fffa"/>
<rect x="600" y="627" width="18" height="18" fill="#00ffe6"/>
<rect x="618" y="627" width="18" height="18" fill="#00ffcd"/>
<rect x="636" y="627" width="19" height="18" fill="#00ffb7"/>
<rect x="655" y="627" width="18" height="18" fill="#00ffa5"/>
<rect x="673" y="627" width="18" height="18" fill="#00ff94"/>
<rect x="691" y="627" width="18" height="18" fill="#00ff86"/>
<rect x="709" y="627" width="18" height="18" fill="#00ff7b"/>
<rect x="727" y="627" width="18" height="18" fill="#00ff72"/>
<rect x="745" y="627" width="19" height="18" fill="#00ff6b"/>
<rect x="764" y="627" width="18" height="18" fill="#00ff67"/>
<rect x="782" y="627" width="18" height="18" fill="#00ff65"/>
<rect x="0" y="645" width="18" height="19" fill="#00ff61"/>
<rect x="18" y="645" width="18" height="19" fill="#00ff60"/>
<rect x="36" y="645" width="19" height="19" fill="#00ff5f"/>
<rect x="55" y="645" width="18" height="19" fill="#00ff62"/>
<rect x="73" y="645" width="18" height="19" fill="#00ff68"/>
<rect x="91" y="645" width="18" height="19" fill="#00ff71"/>
<rect x="109" y="645" width="18" height="19" fill="#00ff80"/>
<rect x="127" y="645" width="18" height="19" fill="#00ff96"/>
<rect x="145" y="645" width="19" height="19" fill="#00ffb1"/>
<rect x="164" y="645" width="18" height="19" fill="#00ffcd"/>
<rect x="182" y="645" width="18" height="19" fill="#00ffe8"/>
<rect x="200" y="645" width="18" height="19" fill="#00fffd"/>
<rect x="218" y="645" width="18" height="19" fill="#00f0ff"/>
<rect x="236" y="645" width="19" height="19" fill="#00ddff"/>
<rect x="255" y="645" width="18" height="19" fill="#00c9ff"/>
<rect x="273" y="645" width="18" height="19" fill="#00b8ff"/>
<rect x="291" y="645" width="18" height="19" fill="#00a7ff"/>
<rect x="309" y="645" width="18" height="19" fill="#009bff"/>
<rect x="327" y="645" width="55" height="19" fill="#0098ff"/>
<rect x="382" y="645" width="18" height="19" fill="#009cff"/>
<rect x="400" y="645" width="18" height="19" fill="#00a3ff"/>
<rect x="418" y="645" width="18" height="19" fill="#00a9ff"/>
<rect x="436" y="645" width="19" height="19" fill="#00acff"/>
<rect x="455" y="645" width="18" height="19" fill="#00b0ff"/>
<rect x="473" y="645" width="18" height="19" fill="#00baff"/>
<rect x="491" y="645" width="18" height="19" fill="#00c7ff"/>
<rect x="509" y="645" width="18" height="19" fill="#00d5ff"/>
<rect x="527" y="645" width="18" height="19" fill="#00e3ff"/>
<rect x="545" y="645" width="19" height="19" fill="#00f0ff"/>
<rect x="564" y="645" width="18" height="19" fill="#00ffff"/>
<rect x="582" y="645" width="18" height="19" fill="#00ffe7"/>
<rect x="600" y="645" width="18" height="19" fill="#00ffcb"/>
<rect x="618" y="645" width="18" height="19" fill="#00ffb2"/>
<rect x="636" y="645" width="19" height="19" fill="#00ff9b"/>
<rect x="655" y="645" width="18" height="19" fill="#00ff8b"/>
<rect x="673" y="645" width="18" height="19" fill="#00ff7f"/>
<rect x="691" y="645" width="18" height="19" fill="#00ff6f"/>
<rect x="709" y="645" width="18" height="19" fill="#00ff64"/>
<rect x="727" y="645" width="18" height="19" fill="#00ff5c"/>
<rect x="745" y="645" width="19" height="19" fill="#00ff53"/>
<rect x="764" y="645" width="18" height="19" fill="#00ff4e"/>
<rect x="782" y="645" width="18" height="19" fill="#00ff4d"/>
<rect x="0" y="664" width="18" height="18" fill="#00ff6d"/>
<rect x="18" y="664" width="18" height="18" fill="#00ff6f"/>
<rect x="36" y="664" width="19" height="18" fill="#00ff74"/>
<rect x="55" y="664" width="18" height="18" fill="#00ff7a"/>
<rect x="73" y="664" width="18" height="18" fill="#00ff81"/>
<rect x="91" y="664" width="18" height="18" fill="#00ff8a"/>
<rect x="109" y="664" width="18" height="18" fill="#00ff9a"/>
<rect x="127" y="664" width="18" height="18" fill="#00ffb2"/>
<rect x="145" y="664" width="19" height="18" fill="#00ffcc"/>
<rect x="164" y="664" width="18" height="18" fill="#00ffe6"/>
<rect x="182" y="664" width="18" height="18" fill="#00fffb"/>
<rect x="200" y="664" width="18" height="18" fill="#00f3ff"/>
<rect x="218" y="664" width="18" height="18" fill="#00e3ff"/>
<rect x="236" y="664" width="19" height="18" fill="#00d1ff"/>
<rect x="255" y="664" width="18" height="18" fill="#00c0ff"/>
<rect x="273" y="664" width="18" height="18" fill="#00bcff"/>
<rect x="291" y="664" width="18" height="18" fill="#00a7ff"/>
<rect x="309" y="664" width="36" height="18" fill="#0097ff"/>
<rect x="345" y="664" width="19" height="18" fill="#0095ff"/>
<rect x="364" y="664" width="18" height="18" fill="#0092ff"/>
<rect x="382" y="664" width="18" height="18" fill="#009cff"/>
<rect x="400" y="664" width="18" height="18" fill="#00a0ff"/>
<rect x="418" y="664" width="18" height="18" fill="#00aaff"/>
<rect x="436" y="664" width="19" height="18" fill="#00aeff"/>
<rect x="455" y="664" width="18" height="18" fill="#00a8ff"/>
<rect x="473" y="664" width="18" height="18" fill="#00b2ff"/>
<rect x="491" y="664" width="18" height="18" fill="#00c1ff"/>
<rect x="509" y="664" width="18" height="18" fill="#00d3ff"/>
<rect x="527" y="664" width="18" height="18" fill="#00e5ff"/>
<rect x="545" y="664" width="19" height="18" fill="#00f9ff"/>
<rect x="564" y="664" width="18" height="18" fill="#00ffed"/>
<rect x="582" y="664" width="18" height="18" fill="#00ffc9"/>
<rect x="600" y="664" width="18" height="18" fill="#00ffa7"/>
<rect x="618" y="664" width="18" height="18" fill="#00ff90"/>
<rect x="636" y="664" width="19" height="18" fill="#00ff7b"/>
<rect x="655" y="664" width="18" height="18" fill="#00ff6e"/>
<rect x="673" y="664" width="18" height="18" fill="#00ff62"/>
<rect x="691" y="664" width="18" height="18" fill="#00ff54"/>
<rect x="709" y="664" width="18" height="18" fill="#00ff4b"/>
<rect x="727" y="664" width="18" height="18" fill="#00ff42"/>
<rect x="745" y="664" width="19" height="18" fill="#00ff38"/>
<rect x="764" y="664" width="18" height="18" fill="#00ff34"/>
<rect x="782" y="664" width="18" height="18" fill="#00ff33"/>
<rect x="0" y="682" width="18" height="18" fill="#00ff72"/>
<rect x="18" y="682" width="18" height="18" fill="#00ff74"/>
<rect x="36" y="682" width="19" height="18" fill="#00ff7a"/>
<rect x="55" y="682" width="18" height="18" fill="#00ff81"/>
<rect x="73" y="682" width="18" height="18" fill="#00ff89"/>
<rect x="91" y="682" width="18" height="18" fill="#00ff94"/>
<rect x="109" y="682" width="18" height="18" fill="#00ffa7"/>
<rect x="127" y="682" width="18" height="18" fill="#00ffc1"/>
<rect x="145" y="682" width="19" height="18" fill="#00ffde"/>
<rect x="164" y="682" width="18" height="18" fill="#00fff7"/>
<rect x="182" y="682" width="18" height="18" fill="#00f4ff"/>
<rect x="200" y="682" width="18" height="18" fill="#00e6ff"/>
<rect x="218" y="682" width="18" height="18" fill="#00d7ff"/>
<rect x="236" y="682" width="19" height="18" fill="#00c5ff"/>
<rect x="255" y="682" width="18" height="18" fill="#00b5ff"/>
<rect x="273" y="682" width="18" height="18" fill="#00aeff"/>
<rect x="291" y="682" width="18" height="18" fill="#0099ff"/>
<rect x="309" y="682" width="18" height="18" fill="#0085ff"/>
<rect x="327" y="682" width="18" height="18" fill="#0078ff"/>
<rect x="345" y="682" width="19" height="18" fill="#006eff"/>
<rect x="364" y="682" width="18" height="18" fill="#006bff"/>
<rect x="382" y="682" width="18" height="18" fill="#0074ff"/>
<rect x="400" y="682" width="18" height="18" fill="#0081ff"/>
<rect x="418" y="682" width="18" height="18" fill="#008dff"/>
<rect x="436" y="682" width="19" height="18" fill="#009bff"/>
<rect x="455" y="682" width="18" height="18" fill="#009fff"/>
<rect x="473" y="682" width="18" height="18" fill="#00adff"/>
<rect x="491" y="682" width="18" height="18" fill="#00c1ff"/>
<rect x="509" y="682" width="18" height="18" fill="#00d8ff"/>
<rect x="527" y="682" width="18" height="18" fill="#00efff"/>
<rect x="545" y="682" width="19" height="18" fill="#00fff4"/>
<rect x="564" y="682" width="18" height="18" fill="#00ffd2"/>
<rect x="582" y="682" width="18" height="18" fill="#00ffa7"/>
<rect x="600" y="682" width="18" height="18" fill="#00ff84"/>
<rect x="618" y="682" width="18" height="18" fill="#00ff6e"/>
<rect x="636" y="682" width="19" height="18" fill="#00ff5b"/>
<rect x="655" y="682" width="18" height="18" fill="#00ff4d"/>
<rect x="673" y="682" width="18" height="18" fill="#00ff40"/>
<rect x="691" y="682" width="18" height="18" fill="#00ff37"/>
<rect x="709" y="682" width="18" height="18" fill="#00ff2f"/>
<rect x="727" y="682" width="18" height="18" fill="#00ff25"/>
<rect x="745" y="682" width="19" height="18" fill="#00ff1d"/>
<rect x="764" y="682" width="18" height="18" fill="#00ff1b"/>
<rect x="782" y="682" width="18" height="18" fill="#00ff1a"/>
<rect x="0" y="700" width="18" height="18" fill="#00ff74"/>
<rect x="18" y="700" width="18" height="18" fill="#00ff76"/>
<rect x="36" y="700" width="19" height="18" fill="#00ff7c"/>
<rect x="55" y="700" width="18" height="18" fill="#00ff85"/>
<rect x="73" y="700" width="18" height="18" fill="#00ff8e"/>
<rect x="91" y="700" width="18" height="18" fill="#00ff9b"/>
<rect x="109" y="700" width="18" height="18" fill="#00ffb1"/>
<rect x="127" y="700" width="18" height="18" fill="#00ffce"/>
<rect x="145" y="700" width="19" height="18" fill="#00ffec"/>
<rect x="164" y="700" width="18" height="18" fill="#00f9ff"/>
<rect x="182" y="700" width="18" height="18" fill="#00e8ff"/>
<rect x="200" y="700" width="18" height="18" fill="#00daff"/>
<rect x="218" y="700" width="18" height="18" fill="#00cbff"/>
<rect x="236" y="700" width="19" height="18" fill="#00b8ff"/>
<rect x="255" y="700" width="18" height="18" fill="#00a8ff"/>
<rect x="273" y="700" width="18" height="18" fill="#00a0ff"/>
<rect x="291" y="700" width="18" height="18" fill="#0089ff"/>
<rect x="309" y="700" width="18" height="18" fill="#006bff"/>
<rect x="327" y="700" width="18" height="18" fill="#0057ff"/>
<rect x="345" y="700" width="19" height="18" fill="#004bff"/>
<rect x="364" y="700" width="18" height="18" fill="#004aff"/>
<rect x="382" y="700" width="18" height="18" fill="#0059ff"/>
<rect x="400" y="700" width="18" height="18" fill="#0069ff"/>
<rect x="418" y="700" width="18" height="18" fill="#007aff"/>
<rect x="436" y="700" width="19" height="18" fill="#008fff"/>
<rect x="455" y="700" width="18" height="18" fill="#0098ff"/>
<rect x="473" y="700" width="18" height="18" fill="#00abff"/>
<rect x="491" y="700" width="18" height="18" fill="#00c4ff"/>
<rect x="509" y="700" width="18" height="18" fill="#00e2ff"/>
<rect x="527" y="700" width="18" height="18" fill="#00fffd"/>
<rect x="545" y="700" width="19" height="18" fill="#00ffd8"/>
<rect x="564" y="700" width="18" height="18" fill="#00ffb0"/>
<rect x="582" y="700" width="18" height="18" fill="#00ff88"/>
<rect x="600" y="700" width="18" height="18" fill="#00ff69"/>
<rect x="618" y="700" width="18" height="18" fill="#00ff55"/>
<rect x="636" y="700" width="19" height="18" fill="#00ff41"/>
<rect x="655" y="700" width="18" height="18" fill="#00ff32"/>
<rect x="673" y="700" width="18" height="18" fill="#00ff26"/>
<rect x="691" y="700" width="18" height="18" fill="#00ff1e"/>
<rect x="709" y="700" width="18" height="18" fill="#00ff18"/>
<rect x="727" y="700" width="18" height="18" fill="#00ff0e"/>
<rect x="745" y="700" width="19" height="18" fill="#00ff09"/>
<rect x="764" y="700" width="36" height="18" fill="#00ff07"/>
<rect x="0" y="718" width="18" height="18" fill="#00ff77"/>
<rect x="18" y="718" width="18" height="18" fill="#00ff79"/>
<rect x="36" y="718" width="19" height="18" fill="#00ff80"/>
<rect x="55" y="718" width="18" height="18" fill="#00ff89"/>
<rect x="73" y="718" width="18" height="18" fill="#00ff93"/>
<rect x="91" y="718" width="18" height="18" fill="#00ffa2"/>
<rect x="109" y="718" width="18" height="18" fill="#00ffb9"/>
<rect x="127" y="718" width="18" height="18" fill="#00ffd8"/>
<rect x="145" y="718" width="19" height="18" fill="#00fff7"/>
<rect x="164" y="718" width="18" height="18" fill="#00f0ff"/>
<rect x="182" y="718" width="18" height="18" fill="#00e0ff"/>
<rect x="200" y="718" width="18" height="18" fill="#00d2ff"/>
<rect x="218" y="718" width="18" height="18" fill="#00c2ff"/>
<rect x="236" y="718" width="19" height="18" fill="#00afff"/>
<rect x="255" y="718" width="18" height="18" fill="#009eff"/>
<rect x="273" y="718" width="18" height="18" fill="#0095ff"/>
<rect x="291" y="718" width="18" height="18" fill="#007aff"/>
<rect x="309" y="718" width="18" height="18" fill="#0058ff"/>
<rect x="327" y="718" width="18" height="18" fill="#0031ff"/>
<rect x="345" y="718" width="19" height="18" fill="#0025ff"/>
<rect x="364" y="718" width="18" height="18" fill="#0034ff"/>
<rect x="382" y="718" width="18" height="18" fill="#0047ff"/>
<rect x="400" y="718" width="18" height="18" fill="#005aff"/>
<rect x="418" y="718" width="18" height="18" fill="#0071ff"/>
<rect x="436" y="718" width="19" height="18" fill="#0088ff"/>
<rect x="455" y="718" width="18" height="18" fill="#0096ff"/>
<rect x="473" y="718" width="18" height="18" fill="#00aeff"/>
<rect x="491" y="718" width="18" height="18" fill="#00cbff"/>
<rect x="509" y="718" width="18" height="18" fill="#00ecff"/>
<rect x="527" y="718" width="18" height="18" fill="#00ffea"/>
<rect x="545" y="718" width="19" height="18" fill="#00ffbb"/>
<rect x="564" y="718" width="18" height="18" fill="#00ff90"/>
<rect x="582" y="718" width="18" height="18" fill="#00ff71"/>
<rect x="600" y="718" width="18" height="18" fill="#00ff58"/>
<rect x="618" y="718" width="18" height="18" fill="#00ff44"/>
<rect x="636" y="718" width="19" height="18" fill="#00ff31"/>
<rect x="655" y="718" width="18" height="18" fill="#00ff23"/>
<rect x="673" y="718" width="18" height="18" fill="#00ff18"/>
<rect x="691" y="718" width="18" height="18" fill="#00ff10"/>
<rect x="709" y="718" width="18" height="18" fill="#00ff0b"/>
<rect x="727" y="718" width="18" height="18" fill="#00ff04"/>
<rect x="745" y="718" width="19" height="18" fill="#02ff00"/>
<rect x="764" y="718" width="18" height="18" fill="#08ff00"/>
<rect x="782" y="718" width="18" height="18" fill="#0bff00"/>
<rect x="0" y="736" width="18" height="19" fill="#00ff7c"/>
<rect x="18" y="736" width="18" height="19" fill="#00ff7f"/>
<rect x="36" y="736" width="19" height="19" fill="#00ff86"/>
<rect x="55" y="736" width="18" height="19" fill="#00ff8f"/>
<rect x="73" y="736" width="18" height="19" fill="#00ff99"/>
<rect x="91" y="736" width="18" height="19" fill="#00ffa8"/>
<rect x="109" y="736" width="18" height="19" fill="#00ffbf"/>
<rect x="127" y="736" width="18" height="19" fill="#00ffde"/>
<rect x="145" y="736" width="19" height="19" fill="#00fffc"/>
<rect x="164" y="736" width="18" height="19" fill="#00ebff"/>
<rect x="182" y="736" width="18" height="19" fill="#00dbff"/>
<rect x="200" y="736" width="18" height="19" fill="#00cdff"/>
<rect x="218" y="736" width="18" height="19" fill="#00bdff"/>
<rect x="236" y="736" width="19" height="19" fill="#00a9ff"/>
<rect x="255" y="736" width="18" height="19" fill="#0099ff"/>
<rect x="273" y="736" width="18" height="19" fill="#008eff"/>
<rect x="291" y="736" width="18" height="19" fill="#0075ff"/>
<rect x="309" y="736" width="18" height="19" fill="#004eff"/>
<rect x="327" y="736" width="18" height="19" fill="#0021ff"/>
<rect x="345" y="736" width="19" height="19" fill="#0018ff"/>
<rect x="364" y="736" width="18" height="19" fill="#002fff"/>
<rect x="382" y="736" width="18" height="19" fill="#0041ff"/>
<rect x="400" y="736" width="18" height="19" fill="#0056ff"/>
<rect x="418" y="736" width="18" height="19" fill="#006eff"/>
<rect x="436" y="736" width="19" height="19" fill="#0088ff"/>
<rect x="455" y="736" width="18" height="19" fill="#0099ff"/>
<rect x="473" y="736" width="18" height="19" fill="#00b3ff"/>
<rect x="491" y="736" width="18" height="19" fill="#00d2ff"/>
<rect x="509" y="736" width="18" height="19" fill="#00f6ff"/>
<rect x="527" y="736" width="18" height="19" fill="#00ffdc"/>
<rect x="545" y="736" width="19" height="19" fill="#00ffa5"/>
<rect x="564" y="736" width="18" height="19" fill="#00ff7b"/>
<rect x="582" y="736" width="18" height="19" fill="#00ff62"/>
<rect x="600" y="736" width="18" height="19" fill="#00ff4d"/>
<rect x="618" y="736" width="18" height="19" fill="#00ff3b"/>
<rect x="636" y="736" width="19" height="19" fill="#00ff28"/>
<rect x="655" y="736" width="18" height="19" fill="#00ff1c"/>
<rect x="673" y="736" width="18" height="19" fill="#00ff13"/>
<rect x="691" y="736" width="18" height="19" fill="#00ff09"/>
<rect x="709" y="736" width="18" height="19" fill="#00ff03"/>
<rect x="727" y="736" width="18" height="19" fill="#02ff00"/>
<rect x="745" y="736" width="19" height="19" fill="#0fff00"/>
<rect x="764" y="736" width="18" height="19" fill="#20ff00"/>
<rect x="782" y="736" width="18" height="19" fill="#28ff00"/>
<rect x="0" y="755" width="18" height="18" fill="#00ff7f"/>
<rect x="18" y="755" width="18" height="18" fill="#00ff82"/>
<rect x="36" y="755" width="19" height="18" fill="#00ff89"/>
<rect x="55" y="755" width="18" height="18" fill="#00ff92"/>
<rect x="73" y="755" width="18" height="18" fill="#00ff9c"/>
<rect x="91" y="755" width="18" height="18" fill="#00ffab"/>
<rect x="109" y="755" width="18" height="18" fill="#00ffc3"/>
<rect x="127" y="755" width="18" height="18" fill="#00ffe2"/>
<rect x="145" y="755" width="19" height="18" fill="#00ffff"/>
<rect x="164" y="755" width="18" height="18" fill="#00e9ff"/>
<rect x="182" y="755" width="18" height="18" fill="#00d9ff"/>
<rect x="200" y="755" width="18" height="18" fill="#00cbff"/>
<rect x="218" y="755" width="18" height="18" fill="#00bbff"/>
<rect x="236" y="755" width="19" height="18" fill="#00a8ff"/>
<rect x="255" y="755" width="18" height="18" fill="#0097ff"/>
<rect x="273" y="755" width="18" height="18" fill="#008fff"/>
<rect x="291" y="755" width="18" height="18" fill="#0078ff"/>
<rect x="309" y="755" width="18" height="18" fill="#0057ff"/>
<rect x="327" y="755" width="18" height="18" fill="#0042ff"/>
<rect x="345" y="755" width="19" height="18" fill="#0039ff"/>
<rect x="364" y="755" width="18" height="18" fill="#003cff"/>
<rect x="382" y="755" width="18" height="18" fill="#004bff"/>
<rect x="400" y="755" width="18" height="18" fill="#005eff"/>
<rect x="418" y="755" width="18" height="18" fill="#0077ff"/>
<rect x="436" y="755" width="19" height="18" fill="#0093ff"/>
<rect x="455" y="755" width="18" height="18" fill="#009eff"/>
<rect x="473" y="755" width="18" height="18" fill="#00b7ff"/>
<rect x="491" y="755" width="18" height="18" fill="#00d8ff"/>
<rect x="509" y="755" width="18" height="18" fill="#00fdff"/>
<rect x="527" y="755" width="18" height="18" fill="#00ffd2"/>
<rect x="545" y="755" width="19" height="18" fill="#00ff9a"/>
<rect x="564" y="755" width="18" height="18" fill="#00ff70"/>
<rect x="582" y="755" width="18" height="18" fill="#00ff5c"/>
<rect x="600" y="755" width="18" height="18" fill="#00ff49"/>
<rect x="618" y="755" width="18" height="18" fill="#00ff37"/>
<rect x="636" y="755" width="19" height="18" fill="#00ff25"/>
<rect x="655" y="755" width="18" height="18" fill="#00ff1a"/>
<rect x="673" y="755" width="18" height="18" fill="#00ff13"/>
<rect x="691" y="755" width="18" height="18" fill="#00ff07"/>
<rect x="709" y="755" width="18" height="18" fill="#00ff01"/>
<rect x="727" y="755" width="18" height="18" fill="#07ff00"/>
<rect x="745" y="755" width="19" height="18" fill="#1dff00"/>
<rect x="764" y="755" width="18" height="18" fill="#39ff00"/>
<rect x="782" y="755" width="18" height="18" fill="#47ff00"/>
</g>
<path d="M718.2 36.4L709.1 25.6M709.1 25.6L715.5 28.6M709.1 25.6L711.0 32.4M772.7 36.4L763.2 26.4M763.2 26.4L769.6 28.9M763.2 26.4L765.4 32.9M790.9 36.4L781.1 26.6M781.1 26.6L787.6 28.9M781.1 26.6L783.5 33.1M700.0 54.5L692.3 45.4M692.3 45.4L697.7 47.9M692.3 45.4L693.9 51.2M718.2 54.5L710.3 45.5M710.3 45.5L715.8 47.9M710.3 45.5L711.9 51.2M754.5 54.5L746.0 45.3M746.0 45.3L751.8 47.7M746.0 45.3L747.9 51.3M772.7 54.5L763.8 45.3M763.8 45.3L769.8 47.6M763.8 45.3L765.9 51.4M790.9 54.5L781.6 45.3M781.6 45.3L787.8 47.5M781.6 45.3L783.9 51.4M681.8 72.7L672.9 66.5M672.9 66.5L678.3 67.5M672.9 66.5L675.7 71.2M700.0 72.7L690.9 66.8M690.9 66.8L696.3 67.6M690.9 66.8L693.8 71.4M718.2 72.7L708.9 67.0M708.9 67.0L714.3 67.6M708.9 67.0L711.9 71.6M736.4 72.7L726.7 67.2M726.7 67.2L732.3 67.7M726.7 67.2L729.9 71.7M754.5 72.7L744.5 66.9M744.5 66.9L750.3 67.4M744.5 66.9L747.8 71.7M772.7 72.7L762.2 66.6M762.2 66.6L768.2 67.2M762.2 66.6L765.7 71.6M790.9 72.7L779.9 66.4M779.9 66.4L786.3 67.0M779.9 66.4L783.6 71.6M663.6 90.9L653.8 88.3M653.8 88.3L658.8 87.4M653.8 88.3L657.7 91.5M681.8 90.9L672.1 88.0M672.1 88.0L677.1 87.3M672.1 88.0L675.9 91.4M700.0 90.9L690.3 87.7M690.3 87.7L695.4 87.1M690.3 87.7L694.0 91.2M718.2 90.9L708.6 87.4M708.6 87.4L713.7 87.0M708.6 87.4L712.2 91.0M736.4 90.9L726.3 88.2M726.3 88.2L731.4 87.3M726.3 88.2L730.3 91.6M754.5 90.9L743.8 89.0M743.8 89.0L749.1 87.6M743.8 89.0L748.3 92.1M772.7 90.9L761.1 89.1M761.1 89.1L766.8 87.4M761.1 89.1L766.0 92.4M790.9 90.9L778.6 89.2M778.6 89.2L784.6 87.4M778.6 89.2L783.8 92.6M681.8 109.1L672.2 107.7M672.2 107.7L676.8 106.3M672.2 107.7L676.3 110.4M700.0 109.1L690.3 107.8M690.3 107.8L695.0 106.4M690.3 107.8L694.5 110.4M718.2 109.1L708.5 107.9M708.5 107.9L713.1 106.4M708.5 107.9L712.6 110.5M736.4 109.1L726.5 108.0M726.5 108.0L731.2 106.4M726.5 108.0L730.7 110.6M754.5 109.1L744.1 108.0M744.1 108.0L749.1 106.3M744.1 108.0L748.6 110.7M772.7 109.1L761.5 108.0M761.5 108.0L766.8 106.1M761.5 108.0L766.3 110.9M790.9 109.1L779.0 108.0M779.0 108.0L784.6 106.0M779.0 108.0L784.2 111.0M663.6 127.3L654.9 123.2M654.9 123.2L659.7 123.2M654.9 123.2L658.0 126.9M681.8 127.3L673.0 123.5M673.0 123.5L677.8 123.3M673.0 123.5L676.2 127.1M700.0 127.3L691.0 123.7M691.0 123.7L695.9 123.4M691.0 123.7L694.3 127.2M718.2 127.3L709.1 124.0M709.1 124.0L713.9 123.5M709.1 124.0L712.5 127.4M736.4 127.3L727.0 124.3M727.0 124.3L731.9 123.7M727.0 124.3L730.6 127.6M754.5 127.3L744.7 124.6M744.7 124.6L749.7 123.7M744.7 124.6L748.6 127.9M772.7 127.3L762.4 124.0M762.4 124.0L767.8 123.3M762.4 124.0L766.4 127.7M790.9 127.3L780.3 123.4M780.3 123.4L785.9 122.9M780.3 123.4L784.3 127.4M645.5 145.5L637.9 139.1M637.9 139.1L642.7 140.4M637.9 139.1L640.0 143.6M663.6 145.5L655.9 139.3M655.9 139.3L660.7 140.4M655.9 139.3L658.1 143.7M681.8 145.5L673.8 139.5M673.8 139.5L678.7 140.5M673.8 139.5L676.2 143.9M700.0 145.5L691.8 139.7M691.8 139.7L696.7 140.6M691.8 139.7L694.3 144.1M718.2 145.5L710.0 139.7M710.0 139.7L714.9 140.6M710.0 139.7L712.5 144.0M736.4 145.5L728.1 139.7M728.1 139.7L733.1 140.5M728.1 139.7L730.6 144.0M754.5 145.5L746.1 139.5M746.1 139.5L751.2 140.4M746.1 139.5L748.7 144.0M772.7 145.5L764.2 138.9M764.2 138.9L769.5 140.1M764.2 138.9L766.7 143.7M790.9 145.5L782.5 138.4M782.5 138.4L787.8 139.8M782.5 138.4L784.8 143.4M645.5 163.6L639.4 154.9M639.4 154.9L644.0 157.6M639.4 154.9L640.3 160.2M663.6 163.6L657.3 155.1M657.3 155.1L662.0 157.6M657.3 155.1L658.4 160.3M681.8 163.6L675.2 155.3M675.2 155.3L680.0 157.7M675.2 155.3L676.5 160.5M700.0 163.6L693.2 155.5M693.2 155.5L698.0 157.7M693.2 155.5L694.5 160.6M718.2 163.6L711.6 155.3M711.6 155.3L716.3 157.7M711.6 155.3L712.8 160.5M736.4 163.6L729.9 155.0M729.9 155.0L734.7 157.6M729.9 155.0L731.0 160.3M754.5 163.6L748.3 154.7M748.3 154.7L753.0 157.4M748.3 154.7L749.2 160.1M772.7 163.6L766.7 154.1M766.7 154.1L771.4 157.2M766.7 154.1L767.4 159.7M790.9 163.6L785.2 153.7M785.2 153.7L789.9 157.0M785.2 153.7L785.7 159.4M627.3 181.8L621.6 172.0M621.6 172.0L626.3 175.3M621.6 172.0L622.1 177.7M645.5 181.8L639.9 172.0M639.9 172.0L644.5 175.3M639.9 172.0L640.3 177.6M663.6 181.8L658.1 171.9M658.1 171.9L662.7 175.2M658.1 171.9L658.5 177.6M681.8 181.8L676.4 171.8M676.4 171.8L681.0 175.2M676.4 171.8L676.7 177.5M700.0 181.8L694.7 171.8M694.7 171.8L699.2 175.2M694.7 171.8L695.0 177.5M718.2 181.8L713.2 171.6M713.2 171.6L717.6 175.2M713.2 171.6L713.3 177.3M736.4 181.8L731.7 171.4M731.7 171.4L736.0 175.1M731.7 171.4L731.6 177.1M754.5 181.8L750.2 171.1M750.2 171.1L754.4 175.0M750.2 171.1L749.9 176.9M772.7 181.8L768.5 170.8M768.5 170.8L772.7 174.9M768.5 170.8L768.1 176.7M790.9 181.8L786.8 170.6M786.8 170.6L791.0 174.8M786.8 170.6L786.3 176.5M609.1 200.0L603.7 189.8M603.7 189.8L608.3 193.3M603.7 189.8L604.0 195.6M627.3 200.0L622.1 189.6M622.1 189.6L626.6 193.2M622.1 189.6L622.2 195.4M645.5 200.0L640.5 189.3M640.5 189.3L645.0 193.1M640.5 189.3L640.5 195.2M663.6 200.0L658.9 189.0M658.9 189.0L663.4 193.0M658.9 189.0L658.7 195.0M681.8 200.0L677.4 188.8M677.4 188.8L681.8 193.0M677.4 188.8L677.0 194.8M700.0 200.0L695.9 188.7M695.9 188.7L700.1 193.0M695.9 188.7L695.4 194.7M718.2 200.0L714.4 188.6M714.4 188.6L718.5 193.0M714.4 188.6L713.7 194.6M736.4 200.0L732.9 188.5M732.9 188.5L736.9 193.0M732.9 188.5L732.0 194.4M754.5 200.0L751.4 188.3M751.4 188.3L755.3 192.9M751.4 188.3L750.4 194.3M772.7 200.0L769.6 188.2M769.6 188.2L773.5 192.9M769.6 188.2L768.5 194.2M790.9 200.0L787.7 188.2M787.7 188.2L791.7 192.9M787.7 188.2L786.7 194.2M590.9 218.2L585.4 207.9M585.4 207.9L590.1 211.4M585.4 207.9L585.7 213.7M609.1 218.2L603.9 207.6M603.9 207.6L608.5 211.3M603.9 207.6L604.0 213.5M627.3 218.2L622.4 207.2M622.4 207.2L626.9 211.1M622.4 207.2L622.3 213.2M645.5 218.2L640.8 206.6M640.8 206.6L645.3 210.9M640.8 206.6L640.5 212.9M663.6 218.2L659.3 206.3M659.3 206.3L663.8 210.7M659.3 206.3L658.7 212.6M681.8 218.2L677.7 206.1M677.7 206.1L682.1 210.7M677.7 206.1L677.0 212.4M700.0 218.2L696.2 206.0M696.2 206.0L700.5 210.7M696.2 206.0L695.3 212.3M718.2 218.2L714.6 206.0M714.6 206.0L718.8 210.7M714.6 206.0L713.7 212.3M736.4 218.2L733.1 206.0M733.1 206.0L737.2 210.8M733.1 206.0L732.0 212.2M754.5 218.2L751.3 206.0M751.3 206.0L755.3 210.8M751.3 206.0L750.2 212.2M772.7 218.2L769.5 206.0M769.5 206.0L773.5 210.8M769.5 206.0L768.4 212.2M790.9 218.2L787.6 206.0M787.6 206.0L791.7 210.8M787.6 206.0L786.5 212.2M572.7 236.4L565.6 226.6M565.6 226.6L570.9 229.5M565.6 226.6L566.8 232.5M590.9 236.4L583.8 226.6M583.8 226.6L589.1 229.5M583.8 226.6L584.9 232.5M609.1 236.4L602.3 226.0M602.3 226.0L607.5 229.3M602.3 226.0L603.2 232.2M627.3 236.4L620.6 225.3M620.6 225.3L626.0 228.9M620.6 225.3L621.3 231.7M645.5 236.4L639.0 224.6M639.0 224.6L644.4 228.6M639.0 224.6L639.5 231.3M663.6 236.4L657.7 224.1M657.7 224.1L663.0 228.4M657.7 224.1L657.8 230.9M681.8 236.4L676.1 224.1M676.1 224.1L681.3 228.4M676.1 224.1L676.1 230.8M700.0 236.4L694.6 224.0M694.6 224.0L699.7 228.5M694.6 224.0L694.5 230.7M718.2 236.4L713.1 224.0M713.1 224.0L718.0 228.5M713.1 224.0L712.8 230.7M736.4 236.4L731.7 224.1M731.7 224.1L736.4 228.7M731.7 224.1L731.2 230.7M754.5 236.4L749.7 224.4M749.7 224.4L754.4 228.8M749.7 224.4L749.4 230.8M772.7 236.4L767.7 224.5M767.7 224.5L772.5 228.8M767.7 224.5L767.5 231.0M790.9 236.4L785.7 224.6M785.7 224.6L790.5 228.8M785.7 224.6L785.6 231.1M554.5 254.5L545.7 244.4M545.7 244.4L551.9 247.1M545.7 244.4L547.6 250.9M572.7 254.5L564.2 244.2M564.2 244.2L570.2 247.1M564.2 244.2L565.9 250.7M590.9 254.5L582.4 243.7M582.4 243.7L588.6 246.8M582.4 243.7L584.0 250.4M609.1 254.5L600.8 243.1M600.8 243.1L607.0 246.5M600.8 243.1L602.1 250.0M627.3 254.5L619.2 242.4M619.2 242.4L625.4 246.2M619.2 242.4L620.3 249.6M645.5 254.5L637.8 241.9M637.8 241.9L643.9 246.0M637.8 241.9L638.6 249.2M663.6 254.5L656.6 241.8M656.6 241.8L662.5 246.1M656.6 241.8L657.1 249.1M681.8 254.5L675.1 242.0M675.1 242.0L680.8 246.3M675.1 242.0L675.5 249.1M700.0 254.5L693.6 242.2M693.6 242.2L699.1 246.5M693.6 242.2L693.9 249.2M718.2 254.5L712.0 242.3M712.0 242.3L717.4 246.6M712.0 242.3L712.2 249.2M736.4 254.5L730.5 242.5M730.5 242.5L735.7 246.7M730.5 242.5L730.6 249.2M754.5 254.5L748.6 242.9M748.6 242.9L753.8 246.9M748.6 242.9L748.9 249.4M772.7 254.5L766.7 243.2M766.7 243.2L771.8 247.1M766.7 243.2L767.0 249.6M790.9 254.5L784.7 243.3M784.7 243.3L789.9 247.1M784.7 243.3L785.1 249.7M209.1 272.7L190.0 262.2M190.0 262.2L200.9 262.9M190.0 262.2L196.4 271.0M554.5 272.7L544.3 261.0M544.3 261.0L551.4 264.2M544.3 261.0L546.5 268.5M572.7 272.7L562.6 260.8M562.6 260.8L569.7 264.1M562.6 260.8L564.7 268.4M590.9 272.7L580.7 260.5M580.7 260.5L587.9 263.9M580.7 260.5L582.7 268.2M609.1 272.7L599.1 259.9M599.1 259.9L606.3 263.6M599.1 259.9L600.9 267.8M627.3 272.7L617.7 259.5M617.7 259.5L624.8 263.5M617.7 259.5L619.2 267.5M645.5 272.7L636.4 259.3M636.4 259.3L643.3 263.5M636.4 259.3L637.7 267.3M663.6 272.7L655.3 259.4M655.3 259.4L661.9 263.7M655.3 259.4L656.3 267.2M681.8 272.7L673.9 259.9M673.9 259.9L680.2 264.1M673.9 259.9L674.8 267.4M700.0 272.7L692.5 260.4M692.5 260.4L698.5 264.4M692.5 260.4L693.3 267.6M718.2 272.7L710.9 260.7M710.9 260.7L716.7 264.6M710.9 260.7L711.6 267.7M736.4 272.7L729.3 260.9M729.3 260.9L735.0 264.8M729.3 260.9L730.0 267.8M754.5 272.7L747.5 261.4M747.5 261.4L753.1 265.0M747.5 261.4L748.3 268.0M772.7 272.7L765.6 261.7M765.6 261.7L771.1 265.2M765.6 261.7L766.5 268.2M790.9 272.7L783.6 261.8M783.6 261.8L789.2 265.2M783.6 261.8L784.6 268.3M209.1 290.9L189.2 282.0M189.2 282.0L200.1 281.9M189.2 282.0L196.3 290.3M227.3 290.9L208.2 280.3M208.2 280.3L219.1 281.1M208.2 280.3L214.6 289.2M245.5 290.9L227.4 278.7M227.4 278.7L238.1 280.4M227.4 278.7L233.0 288.1M263.6 290.9L245.6 278.7M245.6 278.7L256.3 280.4M245.6 278.7L251.2 288.1M281.8 290.9L263.7 278.7M263.7 278.7L274.5 280.4M263.7 278.7L269.4 288.1M536.4 290.9L525.1 278.0M525.1 278.0L533.0 281.5M525.1 278.0L527.5 286.2M554.5 290.9L543.3 278.0M543.3 278.0L551.1 281.5M543.3 278.0L545.7 286.2M572.7 290.9L561.5 277.9M561.5 277.9L569.3 281.4M561.5 277.9L563.8 286.2M590.9 290.9L579.5 277.8M579.5 277.8L587.5 281.3M579.5 277.8L581.9 286.2M609.1 290.9L598.0 277.4M598.0 277.4L605.9 281.2M598.0 277.4L600.2 285.8M627.3 290.9L616.6 277.0M616.6 277.0L624.4 281.1M616.6 277.0L618.5 285.6M645.5 290.9L635.4 276.9M635.4 276.9L642.9 281.1M635.4 276.9L637.0 285.4M663.6 290.9L654.4 277.3M654.4 277.3L661.5 281.5M654.4 277.3L655.7 285.4M681.8 290.9L672.9 277.9M672.9 277.9L679.7 281.9M672.9 277.9L674.2 285.7M700.0 290.9L691.2 278.4M691.2 278.4L697.9 282.2M691.2 278.4L692.6 285.9M718.2 290.9L709.5 278.8M709.5 278.8L716.0 282.5M709.5 278.8L710.9 286.1M736.4 290.9L727.8 279.2M727.8 279.2L734.2 282.7M727.8 279.2L729.2 286.3M754.5 290.9L745.8 279.6M745.8 279.6L752.2 282.9M745.8 279.6L747.4 286.6M772.7 290.9L763.8 280.0M763.8 280.0L770.1 283.0M763.8 280.0L765.5 286.8M790.9 290.9L781.6 280.2M781.6 280.2L788.1 283.1M781.6 280.2L783.6 287.0M227.3 309.1L210.8 301.7M210.8 301.7L219.8 301.6M210.8 301.7L216.7 308.6M245.5 309.1L226.7 299.3M226.7 299.3L237.3 299.8M226.7 299.3L233.1 307.7M263.6 309.1L245.1 298.0M245.1 298.0L255.9 299.1M245.1 298.0L251.2 306.9M281.8 309.1L263.6 297.5M263.6 297.5L274.3 298.9M263.6 297.5L269.4 306.6M300.0 309.1L282.1 297.0M282.1 297.0L292.8 298.7M282.1 297.0L287.7 306.3M318.2 309.1L302.3 299.4M302.3 299.4L311.6 300.4M302.3 299.4L307.5 307.1M500.0 309.1L488.0 296.7M488.0 296.7L496.1 299.8M488.0 296.7L490.8 304.8M518.2 309.1L506.2 296.4M506.2 296.4L514.3 299.6M506.2 296.4L508.9 304.7M536.4 309.1L524.4 296.0M524.4 296.0L532.6 299.4M524.4 296.0L527.1 304.5M554.5 309.1L542.7 295.8M542.7 295.8L550.9 299.3M542.7 295.8L545.3 304.3M572.7 309.1L561.0 295.6M561.0 295.6L569.2 299.3M561.0 295.6L563.5 304.2M590.9 309.1L579.7 295.2M579.7 295.2L587.7 299.1M579.7 295.2L581.8 303.9M609.1 309.1L598.4 294.8M598.4 294.8L606.2 299.0M598.4 294.8L600.2 303.6M627.3 309.1L617.1 294.5M617.1 294.5L624.8 299.0M617.1 294.5L618.6 303.3M645.5 309.1L635.9 294.4M635.9 294.4L643.3 299.0M635.9 294.4L637.1 303.1M663.6 309.1L655.0 294.6M655.0 294.6L661.9 299.4M655.0 294.6L655.8 303.0M681.8 309.1L673.6 295.1M673.6 295.1L680.3 299.7M673.6 295.1L674.3 303.2M700.0 309.1L692.1 295.4M692.1 295.4L698.6 299.9M692.1 295.4L692.8 303.3M718.2 309.1L710.5 295.5M710.5 295.5L716.9 300.0M710.5 295.5L711.1 303.3M736.4 309.1L728.9 295.7M728.9 295.7L735.1 300.2M728.9 295.7L729.5 303.3M754.5 309.1L747.0 295.9M747.0 295.9L753.2 300.3M747.0 295.9L747.7 303.5M772.7 309.1L765.1 296.1M765.1 296.1L771.3 300.4M765.1 296.1L765.8 303.6M790.9 309.1L783.1 296.2M783.1 296.2L789.4 300.4M783.1 296.2L783.9 303.7M263.6 327.3L245.7 319.3M245.7 319.3L255.5 319.1M245.7 319.3L252.2 326.7M281.8 327.3L263.9 319.3M263.9 319.3L273.7 319.1M263.9 319.3L270.3 326.7M300.0 327.3L282.1 319.3M282.1 319.3L291.9 319.2M282.1 319.3L288.6 326.7M318.2 327.3L300.7 319.5M300.7 319.5L310.3 319.3M300.7 319.5L307.0 326.7M336.4 327.3L319.1 319.6M319.1 319.6L328.6 319.4M319.1 319.6L325.3 326.7M354.5 327.3L337.5 319.7M337.5 319.7L346.8 319.5M337.5 319.7L343.6 326.7M372.7 327.3L355.7 319.7M355.7 319.7L365.0 319.5M355.7 319.7L361.8 326.7M390.9 327.3L374.2 319.1M374.2 319.1L383.5 319.3M374.2 319.1L380.0 326.3M409.1 327.3L393.0 318.5M393.0 318.5L402.2 319.1M393.0 318.5L398.4 325.9M427.3 327.3L412.1 318.1M412.1 318.1L420.9 319.0M412.1 318.1L417.0 325.4M445.5 327.3L431.1 317.6M431.1 317.6L439.7 319.0M431.1 317.6L435.6 325.0M463.6 327.3L450.0 316.8M450.0 316.8L458.4 318.7M450.0 316.8L454.0 324.5M481.8 327.3L468.8 316.1M468.8 316.1L477.0 318.4M468.8 316.1L472.3 323.9M500.0 327.3L487.5 315.2M487.5 315.2L495.7 318.1M487.5 315.2L490.6 323.3M518.2 327.3L506.2 314.5M506.2 314.5L514.3 317.8M506.2 314.5L508.9 322.8M536.4 327.3L524.8 313.8M524.8 313.8L532.9 317.5M524.8 313.8L527.2 322.4M554.5 327.3L543.6 313.2M543.6 313.2L551.5 317.3M543.6 313.2L545.6 321.9M572.7 327.3L562.0 313.0M562.0 313.0L569.9 317.2M562.0 313.0L563.8 321.8M590.9 327.3L580.5 312.9M580.5 312.9L588.2 317.2M580.5 312.9L582.2 321.6M609.1 327.3L599.2 312.5M599.2 312.5L606.8 317.1M599.2 312.5L600.6 321.3M627.3 327.3L618.0 312.2M618.0 312.2L625.4 317.1M618.0 312.2L619.0 321.0M645.5 327.3L636.9 312.0M636.9 312.0L644.0 317.1M636.9 312.0L637.6 320.7M663.6 327.3L655.9 312.1M655.9 312.1L662.6 317.3M655.9 312.1L656.2 320.6M681.8 327.3L674.5 312.2M674.5 312.2L681.0 317.5M674.5 312.2L674.7 320.6M700.0 327.3L693.2 312.2M693.2 312.2L699.4 317.6M693.2 312.2L693.1 320.5M718.2 327.3L711.8 312.3M711.8 312.3L717.8 317.8M711.8 312.3L711.5 320.5M736.4 327.3L730.4 312.6M730.4 312.6L736.2 318.0M730.4 312.6L730.0 320.5M754.5 327.3L748.8 312.7M748.8 312.7L754.5 318.1M748.8 312.7L748.3 320.5M772.7 327.3L767.1 312.8M767.1 312.8L772.7 318.1M767.1 312.8L766.6 320.5M790.9 327.3L785.3 312.7M785.3 312.7L790.9 318.1M785.3 312.7L784.8 320.5M300.0 345.5L283.1 338.3M283.1 338.3L292.3 337.9M283.1 338.3L289.2 345.1M318.2 345.5L301.4 338.1M301.4 338.1L310.6 337.9M301.4 338.1L307.4 345.0M336.4 345.5L319.8 337.9M319.8 337.9L328.9 337.8M319.8 337.9L325.7 344.8M354.5 345.5L338.1 337.7M338.1 337.7L347.2 337.7M338.1 337.7L343.9 344.7M372.7 345.5L356.4 337.4M356.4 337.4L365.5 337.6M356.4 337.4L362.1 344.5M390.9 345.5L374.6 337.1M374.6 337.1L383.7 337.5M374.6 337.1L380.2 344.4M409.1 345.5L393.3 336.4M393.3 336.4L402.4 337.2M393.3 336.4L398.6 343.8M427.3 345.5L412.3 335.7M412.3 335.7L421.1 337.0M412.3 335.7L417.0 343.3M445.5 345.5L431.2 335.1M431.2 335.1L439.9 336.8M431.2 335.1L435.5 342.8M463.6 345.5L450.1 334.4M450.1 334.4L458.6 336.5M450.1 334.4L453.9 342.2M481.8 345.5L468.9 333.6M468.9 333.6L477.3 336.2M468.9 333.6L472.3 341.7M500.0 345.5L487.8 332.8M487.8 332.8L496.0 336.0M487.8 332.8L490.7 341.1M518.2 345.5L506.5 332.2M506.5 332.2L514.6 335.8M506.5 332.2L509.0 340.7M536.4 345.5L525.3 331.6M525.3 331.6L533.2 335.6M525.3 331.6L527.4 340.2M554.5 345.5L544.1 331.1M544.1 331.1L551.9 335.4M544.1 331.1L545.8 339.8M572.7 345.5L562.6 331.0M562.6 331.0L570.2 335.4M562.6 331.0L564.1 339.7M590.9 345.5L581.1 330.9M581.1 330.9L588.6 335.4M581.1 330.9L582.4 339.6M609.1 345.5L599.9 330.5M599.9 330.5L607.2 335.3M599.9 330.5L600.9 339.2M627.3 345.5L618.8 330.1M618.8 330.1L625.9 335.3M618.8 330.1L619.4 338.9M645.5 345.5L637.7 329.9M637.7 329.9L644.5 335.3M637.7 329.9L637.9 338.6M663.6 345.5L656.6 329.7M656.6 329.7L663.1 335.4M656.6 329.7L656.5 338.3M681.8 345.5L675.4 329.6M675.4 329.6L681.7 335.4M675.4 329.6L675.0 338.1M700.0 345.5L694.2 329.5M694.2 329.5L700.2 335.5M694.2 329.5L693.4 337.9M718.2 345.5L713.0 329.5M713.0 329.5L718.7 335.7M713.0 329.5L712.0 337.8M736.4 345.5L731.9 329.8M731.9 329.8L737.2 335.9M731.9 329.8L730.6 337.8M754.5 345.5L750.6 329.9M750.6 329.9L755.7 336.1M750.6 329.9L749.1 337.8M772.7 345.5L769.2 329.9M769.2 329.9L774.1 336.2M769.2 329.9L767.5 337.7M790.9 345.5L787.9 329.9M787.9 329.9L792.5 336.3M787.9 329.9L786.0 337.6M300.0 363.6L283.7 357.1M283.7 357.1L292.5 356.6M283.7 357.1L289.7 363.5M318.2 363.6L302.0 356.7M302.0 356.7L310.8 356.4M302.0 356.7L307.9 363.2M336.4 363.6L320.4 356.2M320.4 356.2L329.2 356.2M320.4 356.2L326.1 363.0M354.5 363.6L338.7 355.8M338.7 355.8L347.5 356.0M338.7 355.8L344.2 362.7M372.7 363.6L357.1 355.4M357.1 355.4L365.9 355.8M357.1 355.4L362.4 362.5M390.9 363.6L375.4 355.0M375.4 355.0L384.2 355.6M375.4 355.0L380.6 362.2M409.1 363.6L394.0 354.1M394.0 354.1L402.9 355.2M394.0 354.1L398.8 361.6M427.3 363.6L412.8 353.3M412.8 353.3L421.6 354.9M412.8 353.3L417.2 361.0M445.5 363.6L431.7 352.5M431.7 352.5L440.3 354.6M431.7 352.5L435.6 360.5M463.6 363.6L450.6 351.7M450.6 351.7L459.0 354.4M450.6 351.7L454.0 359.9M481.8 363.6L469.5 351.1M469.5 351.1L477.8 354.2M469.5 351.1L472.4 359.4M500.0 363.6L488.5 350.4M488.5 350.4L496.5 354.0M488.5 350.4L490.9 358.8M518.2 363.6L507.3 350.0M507.3 350.0L515.1 353.9M507.3 350.0L509.3 358.5M536.4 363.6L526.0 349.6M526.0 349.6L533.7 353.8M526.0 349.6L527.7 358.1M554.5 363.6L544.8 349.2M544.8 349.2L552.3 353.7M544.8 349.2L546.2 357.8M572.7 363.6L563.4 349.0M563.4 349.0L570.7 353.7M563.4 349.0L564.5 357.6M590.9 363.6L582.1 348.9M582.1 348.9L589.2 353.7M582.1 348.9L583.0 357.5M609.1 363.6L601.0 348.7M601.0 348.7L607.8 353.7M601.0 348.7L601.5 357.2M627.3 363.6L619.8 348.3M619.8 348.3L626.4 353.7M619.8 348.3L620.0 356.8M645.5 363.6L638.7 348.0M638.7 348.0L645.0 353.7M638.7 348.0L638.4 356.5M663.6 363.6L657.5 347.7M657.5 347.7L663.7 353.6M657.5 347.7L656.9 356.2M681.8 363.6L676.3 347.5M676.3 347.5L682.2 353.6M676.3 347.5L675.4 356.0M700.0 363.6L695.0 347.3M695.0 347.3L700.7 353.7M695.0 347.3L693.8 355.8M718.2 363.6L713.8 347.4M713.8 347.4L719.2 353.8M713.8 347.4L712.4 355.7M736.4 363.6L732.7 347.6M732.7 347.6L737.7 354.1M732.7 347.6L731.0 355.7M754.5 363.6L751.3 347.8M751.3 347.8L756.1 354.3M751.3 347.8L749.4 355.6M772.7 363.6L769.8 347.8M769.8 347.8L774.5 354.3M769.8 347.8L767.8 355.6M790.9 363.6L788.4 347.7M788.4 347.7L792.9 354.4M788.4 347.7L786.2 355.5M281.8 381.8L266.1 376.7M266.1 376.7L274.3 375.7M266.1 376.7L272.1 382.3M300.0 381.8L284.2 376.2M284.2 376.2L292.5 375.4M284.2 376.2L290.2 382.1M318.2 381.8L302.4 375.8M302.4 375.8L310.8 375.2M302.4 375.8L308.3 381.8M336.4 381.8L320.6 375.3M320.6 375.3L329.1 374.9M320.6 375.3L326.4 381.6M354.5 381.8L339.0 374.9M339.0 374.9L347.5 374.7M339.0 374.9L344.6 381.3M372.7 381.8L357.3 374.5M357.3 374.5L365.9 374.5M357.3 374.5L362.7 381.1M390.9 381.8L375.6 374.0M375.6 374.0L384.2 374.3M375.6 374.0L380.9 380.8M409.1 381.8L394.4 372.7M394.4 372.7L403.0 373.7M394.4 372.7L399.1 379.9M427.3 381.8L413.4 371.4M413.4 371.4L421.9 373.2M413.4 371.4L417.5 379.0M445.5 381.8L432.5 370.2M432.5 370.2L440.8 372.7M432.5 370.2L435.9 378.2M463.6 381.8L451.5 369.4M451.5 369.4L459.6 372.4M451.5 369.4L454.4 377.6M481.8 381.8L470.5 368.7M470.5 368.7L478.4 372.2M470.5 368.7L472.8 377.0M500.0 381.8L489.6 368.0M489.6 368.0L497.2 372.1M489.6 368.0L491.4 376.5M518.2 381.8L508.4 367.7M508.4 367.7L515.8 372.1M508.4 367.7L509.9 376.2M536.4 381.8L527.3 367.5M527.3 367.5L534.4 372.0M527.3 367.5L528.4 375.9M554.5 381.8L546.1 367.2M546.1 367.2L553.0 372.0M546.1 367.2L546.8 375.6M572.7 381.8L564.6 367.2M564.6 367.2L571.4 372.1M564.6 367.2L565.2 375.5M590.9 381.8L583.2 367.2M583.2 367.2L589.8 372.2M583.2 367.2L583.6 375.5M609.1 381.8L602.0 367.0M602.0 367.0L608.4 372.3M602.0 367.0L602.1 375.2M627.3 381.8L620.9 366.8M620.9 366.8L627.0 372.2M620.9 366.8L620.6 374.9M645.5 381.8L639.7 366.4M639.7 366.4L645.6 372.2M639.7 366.4L639.0 374.6M663.6 381.8L658.5 366.0M658.5 366.0L664.2 372.1M658.5 366.0L657.5 374.3M681.8 381.8L677.2 365.7M677.2 365.7L682.7 372.1M677.2 365.7L675.9 374.0M700.0 381.8L696.0 365.6M696.0 365.6L701.2 372.1M696.0 365.6L694.4 373.8M718.2 381.8L714.7 365.5M714.7 365.5L719.7 372.1M714.7 365.5L712.8 373.6M736.4 381.8L733.5 365.4M733.5 365.4L738.2 372.2M733.5 365.4L731.3 373.5M754.5 381.8L751.9 365.4M751.9 365.4L756.6 372.3M751.9 365.4L749.7 373.4M772.7 381.8L770.4 365.4M770.4 365.4L774.9 372.3M770.4 365.4L768.0 373.3M790.9 381.8L788.9 365.3M788.9 365.3L793.3 372.4M788.9 365.3L786.3 373.2M281.8 400.0L266.5 395.3M266.5 395.3L274.4 394.2M266.5 395.3L272.4 400.7M300.0 400.0L284.6 394.8M284.6 394.8L292.7 393.9M284.6 394.8L290.5 400.4M318.2 400.0L302.8 394.4M302.8 394.4L310.9 393.7M302.8 394.4L308.6 400.2M336.4 400.0L321.0 394.0M321.0 394.0L329.3 393.5M321.0 394.0L326.7 399.9M354.5 400.0L339.3 393.5M339.3 393.5L347.6 393.3M339.3 393.5L344.9 399.7M372.7 400.0L357.7 393.1M357.7 393.1L365.9 393.1M357.7 393.1L363.0 399.4M390.9 400.0L375.9 392.7M375.9 392.7L384.3 392.8M375.9 392.7L381.2 399.2M409.1 400.0L394.9 391.1M394.9 391.1L403.2 392.1M394.9 391.1L399.4 398.1M427.3 400.0L414.0 389.6M414.0 389.6L422.2 391.5M414.0 389.6L417.8 397.1M445.5 400.0L433.3 388.3M433.3 388.3L441.3 391.0M433.3 388.3L436.3 396.1M463.6 400.0L452.3 387.4M452.3 387.4L460.1 390.7M452.3 387.4L454.8 395.5M481.8 400.0L471.4 386.7M471.4 386.7L478.9 390.5M471.4 386.7L473.3 394.9M500.0 400.0L490.6 386.1M490.6 386.1L497.8 390.4M490.6 386.1L491.9 394.4M518.2 400.0L509.6 385.8M509.6 385.8L516.5 390.4M509.6 385.8L510.5 394.1M536.4 400.0L528.5 385.6M528.5 385.6L535.1 390.5M528.5 385.6L529.0 393.8M554.5 400.0L547.4 385.4M547.4 385.4L553.7 390.5M547.4 385.4L547.6 393.5M572.7 400.0L565.6 385.5M565.6 385.5L571.9 390.6M565.6 385.5L565.8 393.6M590.9 400.0L583.9 385.7M583.9 385.7L590.1 390.7M583.9 385.7L584.1 393.6M609.1 400.0L603.0 385.4M603.0 385.4L608.9 390.7M603.0 385.4L602.7 393.3M627.3 400.0L622.1 385.0M622.1 385.0L627.6 390.7M622.1 385.0L621.3 392.9M645.5 400.0L641.2 384.6M641.2 384.6L646.4 390.7M641.2 384.6L639.9 392.5M663.6 400.0L660.2 384.1M660.2 384.1L665.2 390.6M660.2 384.1L658.4 392.0M681.8 400.0L679.0 383.8M679.0 383.8L683.7 390.5M679.0 383.8L676.8 391.7M700.0 400.0L697.7 383.6M697.7 383.6L702.2 390.6M697.7 383.6L695.3 391.5M718.2 400.0L716.4 383.3M716.4 383.3L720.7 390.5M716.4 383.3L713.7 391.3M736.4 400.0L735.2 382.9M735.2 382.9L739.3 390.4M735.2 382.9L732.1 390.9M754.5 400.0L753.5 382.7M753.5 382.7L757.7 390.3M753.5 382.7L750.3 390.7M772.7 400.0L771.9 382.6M771.9 382.6L776.0 390.3M771.9 382.6L768.6 390.7M790.9 400.0L790.3 382.6M790.3 382.6L794.3 390.4M790.3 382.6L786.9 390.6M300.0 418.2L284.5 414.3M284.5 414.3L292.3 412.8M284.5 414.3L290.7 419.3M318.2 418.2L302.6 414.2M302.6 414.2L310.5 412.7M302.6 414.2L308.8 419.3M336.4 418.2L320.7 414.0M320.7 414.0L328.7 412.6M320.7 414.0L326.9 419.2M354.5 418.2L338.9 413.8M338.9 413.8L346.9 412.5M338.9 413.8L345.1 419.1M372.7 418.2L357.0 413.7M357.0 413.7L365.1 412.4M357.0 413.7L363.2 419.0M390.9 418.2L376.1 411.0M376.1 411.0L384.3 411.1M376.1 411.0L381.3 417.4M409.1 418.2L395.2 409.3M395.2 409.3L403.4 410.4M395.2 409.3L399.6 416.2M427.3 418.2L414.5 407.7M414.5 407.7L422.5 409.7M414.5 407.7L418.1 415.2M445.5 418.2L434.0 406.3M434.0 406.3L441.7 409.3M434.0 406.3L436.7 414.1M463.6 418.2L453.2 405.5M453.2 405.5L460.6 409.1M453.2 405.5L455.2 413.5M481.8 418.2L472.4 404.9M472.4 404.9L479.5 408.9M472.4 404.9L473.9 412.9M500.0 418.2L491.7 404.3M491.7 404.3L498.4 408.9M491.7 404.3L492.5 412.4M518.2 418.2L510.5 404.2M510.5 404.2L517.0 408.9M510.5 404.2L511.1 412.2M536.4 418.2L529.4 404.1M529.4 404.1L535.5 409.0M529.4 404.1L529.6 411.9M554.5 418.2L548.2 403.8M548.2 403.8L554.1 409.0M548.2 403.8L548.0 411.7M572.7 418.2L566.5 403.8M566.5 403.8L572.3 409.0M566.5 403.8L566.3 411.7M590.9 418.2L584.8 403.9M584.8 403.9L590.6 409.1M584.8 403.9L584.6 411.6M609.1 418.2L603.8 403.6M603.8 403.6L609.3 409.1M603.8 403.6L603.1 411.3M627.3 418.2L622.7 403.4M622.7 403.4L627.9 409.1M622.7 403.4L621.7 411.0M645.5 418.2L641.7 402.9M641.7 402.9L646.6 409.0M641.7 402.9L640.2 410.6M663.6 418.2L660.6 402.4M660.6 402.4L665.3 408.9M660.6 402.4L658.6 410.2M681.8 418.2L679.3 402.1M679.3 402.1L683.8 408.8M679.3 402.1L677.0 409.9M700.0 418.2L698.0 401.9M698.0 401.9L702.3 408.9M698.0 401.9L695.5 409.7M718.2 418.2L716.7 401.5M716.7 401.5L720.9 408.7M716.7 401.5L713.9 409.4M736.4 418.2L735.5 400.8M735.5 400.8L739.5 408.5M735.5 400.8L732.2 408.9M754.5 418.2L753.7 400.4M753.7 400.4L757.8 408.3M753.7 400.4L750.3 408.7M772.7 418.2L772.0 400.3M772.0 400.3L776.1 408.3M772.0 400.3L768.6 408.6M790.9 418.2L790.3 400.3M790.3 400.3L794.3 408.3M790.3 400.3L786.8 408.5M336.4 436.4L321.4 430.6M321.4 430.6L329.4 430.0M321.4 430.6L326.9 436.4M354.5 436.4L340.0 429.3M340.0 429.3L348.1 429.4M340.0 429.3L345.1 435.6M372.7 436.4L358.8 428.0M358.8 428.0L366.9 428.8M358.8 428.0L363.3 434.7M390.9 436.4L377.6 426.7M377.6 426.7L385.7 428.3M377.6 426.7L381.6 433.9M409.1 436.4L396.7 425.6M396.7 425.6L404.6 427.9M396.7 425.6L400.0 433.1M427.3 436.4L415.9 424.6M415.9 424.6L423.6 427.6M415.9 424.6L418.6 432.3M445.5 436.4L435.3 423.8M435.3 423.8L442.6 427.4M435.3 423.8L437.3 431.7M463.6 436.4L454.5 423.3M454.5 423.3L461.4 427.3M454.5 423.3L455.9 431.1M481.8 436.4L473.8 422.8M473.8 422.8L480.3 427.3M473.8 422.8L474.6 430.6M500.0 436.4L493.1 422.4M493.1 422.4L499.2 427.3M493.1 422.4L493.3 430.2M518.2 436.4L512.4 422.0M512.4 422.0L518.0 427.3M512.4 422.0L512.0 429.7M536.4 436.4L531.3 421.8M531.3 421.8L536.6 427.3M531.3 421.8L530.5 429.5M554.5 436.4L550.1 421.6M550.1 421.6L555.2 427.4M550.1 421.6L549.0 429.2M572.7 436.4L569.0 421.4M569.0 421.4L573.8 427.4M569.0 421.4L567.5 429.0M590.9 436.4L588.5 421.2M588.5 421.2L592.8 427.5M588.5 421.2L586.4 428.6M609.1 436.4L607.1 421.1M607.1 421.1L611.2 427.6M607.1 421.1L604.8 428.5M627.3 436.4L625.7 421.1M625.7 421.1L629.6 427.7M625.7 421.1L623.2 428.3M645.5 436.4L644.2 420.9M644.2 420.9L648.1 427.6M644.2 420.9L641.5 428.1M663.6 436.4L662.8 420.6M662.8 420.6L666.5 427.6M662.8 420.6L659.8 427.9M681.8 436.4L681.1 420.5M681.1 420.5L684.8 427.5M681.1 420.5L678.0 427.8M700.0 436.4L699.3 420.4M699.3 420.4L703.0 427.5M699.3 420.4L696.2 427.8M718.2 436.4L717.5 420.0M717.5 420.0L721.3 427.3M717.5 420.0L714.4 427.5M736.4 436.4L735.8 419.4M735.8 419.4L739.6 427.0M735.8 419.4L732.5 427.2M754.5 436.4L753.9 418.9M753.9 418.9L757.9 426.7M753.9 418.9L750.5 427.0M772.7 436.4L772.1 418.7M772.1 418.7L776.1 426.6M772.1 418.7L768.7 426.8M790.9 436.4L790.3 418.6M790.3 418.6L794.3 426.5M790.3 418.6L786.8 426.8M336.4 454.5L321.6 449.4M321.6 449.4L329.3 448.6M321.6 449.4L327.2 454.9M354.5 454.5L340.1 448.1M340.1 448.1L348.0 448.0M340.1 448.1L345.3 454.1M372.7 454.5L358.8 446.8M358.8 446.8L366.7 447.4M358.8 446.8L363.5 453.3M390.9 454.5L377.8 445.4M377.8 445.4L385.7 446.8M377.8 445.4L381.8 452.3M409.1 454.5L397.0 444.2M397.0 444.2L404.7 446.3M397.0 444.2L400.3 451.4M427.3 454.5L416.4 443.1M416.4 443.1L423.7 446.0M416.4 443.1L418.9 450.6M445.5 454.5L435.8 442.2M435.8 442.2L442.8 445.8M435.8 442.2L437.6 449.8M463.6 454.5L455.2 441.5M455.2 441.5L461.8 445.6M455.2 441.5L456.3 449.2M481.8 454.5L474.7 440.9M474.7 440.9L480.8 445.6M474.7 440.9L475.0 448.6M500.0 454.5L494.2 440.3M494.2 440.3L499.8 445.5M494.2 440.3L493.8 448.0M518.2 454.5L513.7 439.9M513.7 439.9L518.8 445.6M513.7 439.9L512.6 447.5M536.4 454.5L532.5 439.7M532.5 439.7L537.4 445.6M532.5 439.7L531.1 447.3M554.5 454.5L551.3 439.6M551.3 439.6L555.9 445.7M551.3 439.6L549.6 447.1M572.7 454.5L570.1 439.5M570.1 439.5L574.5 445.7M570.1 439.5L568.1 446.9M590.9 454.5L588.7 439.4M588.7 439.4L592.9 445.8M588.7 439.4L586.5 446.7M609.1 454.5L607.3 439.3M607.3 439.3L611.3 445.9M607.3 439.3L604.9 446.6M627.3 454.5L625.9 439.3M625.9 439.3L629.7 445.9M625.9 439.3L623.3 446.5M645.5 454.5L644.5 439.2M644.5 439.2L648.2 445.9M644.5 439.2L641.7 446.3M663.6 454.5L663.1 439.1M663.1 439.1L666.6 446.0M663.1 439.1L660.1 446.2M681.8 454.5L681.3 439.0M681.3 439.0L684.8 446.0M681.3 439.0L678.3 446.2M700.0 454.5L699.5 439.0M699.5 439.0L703.0 445.9M699.5 439.0L696.5 446.1M718.2 454.5L717.7 438.7M717.7 438.7L721.3 445.8M717.7 438.7L714.6 446.0M736.4 454.5L736.0 438.3M736.0 438.3L739.6 445.6M736.0 438.3L732.7 445.7M754.5 454.5L754.2 437.9M754.2 437.9L757.9 445.3M754.2 437.9L750.8 445.5M772.7 454.5L772.4 437.6M772.4 437.6L776.1 445.2M772.4 437.6L769.0 445.3M790.9 454.5L790.6 437.4M790.6 437.4L794.4 445.1M790.6 437.4L787.1 445.2M336.4 472.7L322.3 467.1M322.3 467.1L329.9 466.7M322.3 467.1L327.5 472.6M354.5 472.7L340.8 466.0M340.8 466.0L348.5 466.2M340.8 466.0L345.6 472.0M372.7 472.7L359.4 465.0M359.4 465.0L367.1 465.7M359.4 465.0L363.8 471.3M390.9 472.7L378.4 463.7M378.4 463.7L386.0 465.2M378.4 463.7L382.2 470.4M409.1 472.7L397.6 462.5M397.6 462.5L404.9 464.7M397.6 462.5L400.6 469.6M427.3 472.7L416.9 461.5M416.9 461.5L424.0 464.4M416.9 461.5L419.2 468.8M445.5 472.7L436.3 460.6M436.3 460.6L443.0 464.2M436.3 460.6L437.9 468.0M463.6 472.7L455.8 459.8M455.8 459.8L462.1 464.0M455.8 459.8L456.6 467.3M481.8 472.7L475.3 459.1M475.3 459.1L481.1 463.9M475.3 459.1L475.4 466.6M500.0 472.7L494.9 458.5M494.9 458.5L500.2 463.9M494.9 458.5L494.2 466.0M518.2 472.7L514.5 458.0M514.5 458.0L519.3 463.9M514.5 458.0L513.1 465.5M536.4 472.7L533.2 457.9M533.2 457.9L537.8 463.9M533.2 457.9L531.5 465.3M554.5 472.7L551.9 457.8M551.9 457.8L556.3 464.0M551.9 457.8L549.9 465.1M572.7 472.7L570.6 457.7M570.6 457.7L574.7 464.1M570.6 457.7L568.4 465.0M590.9 472.7L589.2 457.7M589.2 457.7L593.1 464.1M589.2 457.7L586.8 464.9M609.1 472.7L607.7 457.6M607.7 457.6L611.5 464.2M607.7 457.6L605.2 464.8M627.3 472.7L626.3 457.6M626.3 457.6L629.9 464.2M626.3 457.6L623.5 464.7M645.5 472.7L644.8 457.6M644.8 457.6L648.3 464.3M644.8 457.6L641.9 464.6M663.6 472.7L663.4 457.5M663.4 457.5L666.7 464.3M663.4 457.5L660.3 464.4M681.8 472.7L681.6 457.4M681.6 457.4L684.9 464.3M681.6 457.4L678.4 464.4M700.0 472.7L699.8 457.3M699.8 457.3L703.2 464.3M699.8 457.3L696.6 464.3M718.2 472.7L718.0 457.2M718.0 457.2L721.4 464.2M718.0 457.2L714.8 464.3M736.4 472.7L736.2 457.0M736.2 457.0L739.6 464.1M736.2 457.0L733.0 464.1M754.5 472.7L754.5 456.7M754.5 456.7L757.9 463.9M754.5 456.7L751.1 464.0M772.7 472.7L772.7 456.5M772.7 456.5L776.1 463.8M772.7 456.5L769.3 463.8M790.9 472.7L790.9 456.4M790.9 456.4L794.4 463.8M790.9 456.4L787.5 463.8M318.2 490.9L304.2 486.1M304.2 486.1L311.5 485.3M304.2 486.1L309.5 491.2M336.4 490.9L322.8 485.2M322.8 485.2L330.2 484.9M322.8 485.2L327.8 490.6M354.5 490.9L341.5 484.3M341.5 484.3L348.8 484.5M341.5 484.3L346.0 490.0M372.7 490.9L360.1 483.3M360.1 483.3L367.4 484.1M360.1 483.3L364.2 489.4M390.9 490.9L379.1 482.1M379.1 482.1L386.3 483.6M379.1 482.1L382.6 488.6M409.1 490.9L398.3 481.0M398.3 481.0L405.3 483.2M398.3 481.0L401.1 487.8M427.3 490.9L417.5 479.9M417.5 479.9L424.2 482.8M417.5 479.9L419.6 487.0M445.5 490.9L436.7 478.9M436.7 478.9L443.2 482.5M436.7 478.9L438.2 486.2M463.6 490.9L456.2 478.0M456.2 478.0L462.3 482.3M456.2 478.0L456.8 485.4M481.8 490.9L475.8 477.3M475.8 477.3L481.4 482.2M475.8 477.3L475.6 484.7M500.0 490.9L495.4 476.7M495.4 476.7L500.5 482.2M495.4 476.7L494.5 484.1M518.2 490.9L515.1 476.3M515.1 476.3L519.6 482.2M515.1 476.3L513.4 483.6M536.4 490.9L533.7 476.1M533.7 476.1L538.0 482.3M533.7 476.1L531.8 483.4M554.5 490.9L552.3 476.1M552.3 476.1L556.4 482.3M552.3 476.1L550.2 483.3M572.7 490.9L570.9 476.0M570.9 476.0L574.9 482.4M570.9 476.0L568.6 483.2M590.9 490.9L589.5 476.0M589.5 476.0L593.3 482.5M589.5 476.0L587.0 483.1M609.1 490.9L608.0 476.0M608.0 476.0L611.6 482.5M608.0 476.0L605.3 483.0M627.3 490.9L626.5 476.0M626.5 476.0L630.0 482.6M626.5 476.0L623.7 482.9M645.5 490.9L645.1 476.0M645.1 476.0L648.4 482.7M645.1 476.0L642.1 482.8M663.6 490.9L663.6 475.8M663.6 475.8L666.8 482.7M663.6 475.8L660.4 482.7M681.8 490.9L681.8 475.6M681.8 475.6L685.1 482.5M681.8 475.6L678.6 482.5M700.0 490.9L700.0 475.5M700.0 475.5L703.3 482.5M700.0 475.5L696.7 482.5M718.2 490.9L718.2 475.4M718.2 475.4L721.5 482.4M718.2 475.4L714.9 482.4M736.4 490.9L736.4 475.3M736.4 475.3L739.7 482.4M736.4 475.3L733.1 482.4M754.5 490.9L754.5 475.2M754.5 475.2L757.9 482.3M754.5 475.2L751.2 482.3M772.7 490.9L772.7 475.1M772.7 475.1L776.1 482.3M772.7 475.1L769.4 482.3M790.9 490.9L790.9 475.1M790.9 475.1L794.3 482.2M790.9 475.1L787.6 482.2M300.0 509.1L285.8 505.5M285.8 505.5L293.0 504.2M285.8 505.5L291.5 510.2M318.2 509.1L304.4 504.5M304.4 504.5L311.6 503.7M304.4 504.5L309.7 509.5M336.4 509.1L323.2 503.5M323.2 503.5L330.4 503.3M323.2 503.5L328.0 508.8M354.5 509.1L342.0 502.6M342.0 502.6L349.1 502.9M342.0 502.6L346.3 508.2M372.7 509.1L360.7 501.6M360.7 501.6L367.8 502.5M360.7 501.6L364.6 507.5M390.9 509.1L379.8 500.4M379.8 500.4L386.7 502.0M379.8 500.4L383.0 506.7M409.1 509.1L398.9 499.3M398.9 499.3L405.6 501.6M398.9 499.3L401.4 505.9M427.3 509.1L418.1 498.2M418.1 498.2L424.6 501.2M418.1 498.2L420.0 505.1M445.5 509.1L437.4 497.1M437.4 497.1L443.6 500.8M437.4 497.1L438.5 504.2M463.6 509.1L456.9 496.2M456.9 496.2L462.7 500.6M456.9 496.2L457.2 503.4M481.8 509.1L476.6 495.5M476.6 495.5L481.8 500.5M476.6 495.5L476.1 502.7M500.0 509.1L496.3 494.9M496.3 494.9L501.0 500.6M496.3 494.9L495.0 502.1M518.2 509.1L516.1 494.5M516.1 494.5L520.1 500.7M516.1 494.5L514.0 501.5M536.4 509.1L534.7 494.4M534.7 494.4L538.6 500.7M534.7 494.4L532.4 501.4M554.5 509.1L553.3 494.3M553.3 494.3L557.0 500.8M553.3 494.3L550.8 501.3M572.7 509.1L572.0 494.3M572.0 494.3L575.4 500.8M572.0 494.3L569.2 501.2M590.9 509.1L590.4 494.3M590.4 494.3L593.7 500.9M590.4 494.3L587.5 501.1M609.1 509.1L608.8 494.3M608.8 494.3L612.1 501.0M608.8 494.3L605.8 501.1M627.3 509.1L627.3 494.3M627.3 494.3L630.4 501.0M627.3 494.3L624.2 501.0M645.5 509.1L645.7 494.3M645.7 494.3L648.7 501.1M645.7 494.3L642.5 501.0M663.6 509.1L664.2 494.1M664.2 494.1L667.1 501.0M664.2 494.1L660.8 500.8M681.8 509.1L682.5 493.8M682.5 493.8L685.4 500.9M682.5 493.8L678.9 500.6M700.0 509.1L700.8 493.7M700.8 493.7L703.7 500.8M700.8 493.7L697.2 500.5M718.2 509.1L719.1 493.6M719.1 493.6L721.9 500.8M719.1 493.6L715.4 500.4M736.4 509.1L737.4 493.6M737.4 493.6L740.2 500.8M737.4 493.6L733.6 500.4M754.5 509.1L755.7 493.4M755.7 493.4L758.5 500.8M755.7 493.4L751.9 500.3M772.7 509.1L774.0 493.4M774.0 493.4L776.7 500.8M774.0 493.4L770.1 500.2M790.9 509.1L792.3 493.4M792.3 493.4L795.0 500.8M792.3 493.4L788.3 500.2M281.8 527.3L267.3 526.3M267.3 526.3L274.1 523.7M267.3 526.3L273.7 529.8M300.0 527.3L285.8 525.3M285.8 525.3L292.7 523.2M285.8 525.3L291.8 529.2M318.2 527.3L304.4 524.3M304.4 524.3L311.3 522.8M304.4 524.3L310.0 528.6M336.4 527.3L323.1 523.5M323.1 523.5L329.9 522.4M323.1 523.5L328.3 528.0M354.5 527.3L342.1 521.6M342.1 521.6L348.9 521.5M342.1 521.6L346.5 526.8M372.7 527.3L361.3 519.8M361.3 519.8L368.0 520.8M361.3 519.8L364.9 525.6M390.9 527.3L380.3 518.7M380.3 518.7L386.9 520.3M380.3 518.7L383.3 524.8M409.1 527.3L399.4 517.6M399.4 517.6L405.8 519.9M399.4 517.6L401.7 524.0M427.3 527.3L418.6 516.5M418.6 516.5L424.8 519.6M418.6 516.5L420.2 523.2M445.5 527.3L437.8 515.4M437.8 515.4L443.8 519.2M437.8 515.4L438.8 522.4M463.6 527.3L457.3 514.5M457.3 514.5L462.9 519.0M457.3 514.5L457.5 521.6M481.8 527.3L477.1 513.8M477.1 513.8L482.1 518.9M477.1 513.8L476.4 520.9M500.0 527.3L496.8 513.3M496.8 513.3L501.2 518.9M496.8 513.3L495.3 520.3M518.2 527.3L516.7 512.8M516.7 512.8L520.4 519.0M516.7 512.8L514.3 519.7M536.4 527.3L535.3 512.7M535.3 512.7L538.8 519.1M535.3 512.7L532.7 519.5M554.5 527.3L553.9 512.7M553.9 512.7L557.3 519.1M553.9 512.7L551.1 519.4M572.7 527.3L572.5 512.7M572.5 512.7L575.7 519.2M572.5 512.7L569.5 519.3M590.9 527.3L591.0 512.7M591.0 512.7L594.0 519.3M591.0 512.7L587.9 519.3M609.1 527.3L609.4 512.7M609.4 512.7L612.4 519.4M609.4 512.7L606.2 519.3M627.3 527.3L627.9 512.8M627.9 512.8L630.7 519.5M627.9 512.8L624.6 519.2M645.5 527.3L646.4 512.7M646.4 512.7L649.1 519.5M646.4 512.7L642.9 519.1M663.6 527.3L664.9 512.5M664.9 512.5L667.5 519.5M664.9 512.5L661.2 518.9M681.8 527.3L683.3 512.2M683.3 512.2L685.8 519.3M683.3 512.2L679.5 518.7M700.0 527.3L701.7 512.0M701.7 512.0L704.2 519.3M701.7 512.0L697.7 518.5M718.2 527.3L720.1 512.0M720.1 512.0L722.5 519.3M720.1 512.0L716.0 518.5M736.4 527.3L738.5 511.8M738.5 511.8L740.8 519.3M738.5 511.8L734.3 518.4M754.5 527.3L756.9 511.6M756.9 511.6L759.1 519.2M756.9 511.6L752.5 518.2M772.7 527.3L775.3 511.5M775.3 511.5L777.5 519.2M775.3 511.5L770.8 518.1M790.9 527.3L793.7 511.6M793.7 511.6L795.7 519.3M793.7 511.6L789.1 518.1M263.6 545.5L249.0 547.0M249.0 547.0L255.3 543.2M249.0 547.0L256.0 549.4M281.8 545.5L267.5 546.0M267.5 546.0L273.9 542.7M267.5 546.0L274.1 548.7M300.0 545.5L286.2 545.0M286.2 545.0L292.5 542.3M286.2 545.0L292.3 548.1M318.2 545.5L304.8 543.6M304.8 543.6L311.3 541.6M304.8 543.6L310.5 547.3M336.4 545.5L323.5 542.2M323.5 542.2L330.0 541.0M323.5 542.2L328.6 546.4M354.5 545.5L342.5 540.1M342.5 540.1L349.1 540.0M342.5 540.1L346.8 545.1M372.7 545.5L361.8 538.1M361.8 538.1L368.3 539.1M361.8 538.1L365.2 543.7M390.9 545.5L380.8 537.0M380.8 537.0L387.2 538.7M380.8 537.0L383.6 543.0M409.1 545.5L399.9 535.9M399.9 535.9L406.1 538.3M399.9 535.9L402.1 542.2M427.3 545.5L419.0 534.9M419.0 534.9L425.0 537.9M419.0 534.9L420.5 541.4M445.5 545.5L438.2 533.8M438.2 533.8L443.9 537.5M438.2 533.8L439.0 540.6M463.6 545.5L457.7 532.8M457.7 532.8L463.0 537.3M457.7 532.8L457.7 539.8M481.8 545.5L477.4 532.2M477.4 532.2L482.2 537.3M477.4 532.2L476.6 539.1M500.0 545.5L497.1 531.6M497.1 531.6L501.3 537.3M497.1 531.6L495.5 538.5M518.2 545.5L516.9 531.2M516.9 531.2L520.5 537.4M516.9 531.2L514.5 537.9M536.4 545.5L535.5 531.0M535.5 531.0L539.0 537.4M535.5 531.0L532.9 537.7M554.5 545.5L554.1 531.0M554.1 531.0L557.4 537.5M554.1 531.0L551.3 537.6M572.7 545.5L572.7 531.0M572.7 531.0L575.8 537.6M572.7 531.0L569.7 537.6M590.9 545.5L592.2 531.1M592.2 531.1L594.6 537.9M592.2 531.1L588.6 537.3M609.1 545.5L610.5 531.1M610.5 531.1L612.9 537.9M610.5 531.1L606.9 537.3M627.3 545.5L628.9 531.2M628.9 531.2L631.2 538.0M628.9 531.2L625.1 537.3M645.5 545.5L647.3 531.1M647.3 531.1L649.5 538.0M647.3 531.1L643.4 537.2M663.6 545.5L665.7 530.9M665.7 530.9L667.8 537.9M665.7 530.9L661.7 537.1M681.8 545.5L684.2 530.5M684.2 530.5L686.3 537.8M684.2 530.5L680.0 536.8M700.0 545.5L702.7 530.3M702.7 530.3L704.7 537.7M702.7 530.3L698.3 536.6M718.2 545.5L721.1 530.2M721.1 530.2L723.0 537.7M721.1 530.2L716.6 536.5M736.4 545.5L739.6 530.0M739.6 530.0L741.4 537.7M739.6 530.0L734.9 536.3M754.5 545.5L758.2 529.8M758.2 529.8L759.8 537.6M758.2 529.8L753.2 536.1M772.7 545.5L776.7 529.7M776.7 529.7L778.2 537.7M776.7 529.7L771.5 536.0M790.9 545.5L795.1 529.8M795.1 529.8L796.5 537.8M795.1 529.8L789.9 536.0M245.5 563.6L230.6 567.9M230.6 567.9L236.5 562.8M230.6 567.9L238.2 569.1M263.6 563.6L249.2 566.4M249.2 566.4L255.2 562.1M249.2 566.4L256.3 568.2M281.8 563.6L268.0 565.1M268.0 565.1L273.9 561.5M268.0 565.1L274.6 567.4M300.0 563.6L286.8 563.6M286.8 563.6L292.8 560.8M286.8 563.6L292.8 566.4M318.2 563.6L305.4 562.3M305.4 562.3L311.5 560.2M305.4 562.3L310.9 565.6M336.4 563.6L323.9 560.9M323.9 560.9L330.2 559.5M323.9 560.9L329.0 564.8M354.5 563.6L342.6 559.5M342.6 559.5L348.9 558.8M342.6 559.5L347.1 563.9M372.7 563.6L361.9 556.9M361.9 556.9L368.3 557.7M361.9 556.9L365.4 562.2M390.9 563.6L381.0 555.6M381.0 555.6L387.2 557.1M381.0 555.6L383.8 561.3M409.1 563.6L400.1 554.4M400.1 554.4L406.2 556.7M400.1 554.4L402.2 560.5M427.3 563.6L419.4 553.1M419.4 553.1L425.2 556.2M419.4 553.1L420.7 559.6M445.5 563.6L438.7 551.9M438.7 551.9L444.2 555.8M438.7 551.9L439.3 558.7M463.6 563.6L458.2 551.1M458.2 551.1L463.3 555.6M458.2 551.1L458.0 557.9M481.8 563.6L477.9 550.5M477.9 550.5L482.5 555.6M477.9 550.5L476.9 557.3M500.0 563.6L497.6 550.0M497.6 550.0L501.6 555.7M497.6 550.0L495.8 556.7M518.2 563.6L517.4 549.5M517.4 549.5L520.8 555.7M517.4 549.5L514.8 556.1M536.4 563.6L535.9 549.3M535.9 549.3L539.2 555.7M535.9 549.3L533.1 555.9M554.5 563.6L554.5 549.3M554.5 549.3L557.5 555.8M554.5 549.3L551.5 555.8M572.7 563.6L573.0 549.3M573.0 549.3L575.9 555.8M573.0 549.3L569.8 555.7M590.9 563.6L592.9 549.4M592.9 549.4L595.0 556.3M592.9 549.4L589.0 555.4M609.1 563.6L611.4 549.4M611.4 549.4L613.4 556.3M611.4 549.4L607.3 555.4M627.3 563.6L629.9 549.3M629.9 549.3L631.7 556.4M629.9 549.3L625.7 555.3M645.5 563.6L648.5 549.2M648.5 549.2L650.1 556.4M648.5 549.2L644.0 555.1M663.6 563.6L667.0 549.0M667.0 549.0L668.6 556.4M667.0 549.0L662.4 554.9M681.8 563.6L685.6 548.7M685.6 548.7L687.0 556.2M685.6 548.7L680.7 554.7M700.0 563.6L704.1 548.4M704.1 548.4L705.4 556.2M704.1 548.4L699.0 554.5M718.2 563.6L722.6 548.3M722.6 548.3L723.8 556.2M722.6 548.3L717.3 554.3M736.4 563.6L741.1 548.0M741.1 548.0L742.3 556.1M741.1 548.0L735.7 554.1M754.5 563.6L759.7 547.9M759.7 547.9L760.7 556.1M759.7 547.9L754.0 553.9M772.7 563.6L778.2 547.9M778.2 547.9L779.0 556.2M778.2 547.9L772.4 553.9M790.9 563.6L796.6 548.0M796.6 548.0L797.3 556.3M796.6 548.0L790.7 553.9M209.1 581.8L190.8 586.7M190.8 586.7L198.1 580.6M190.8 586.7L200.1 588.3M227.3 581.8L208.8 585.9M208.8 585.9L216.3 580.2M208.8 585.9L218.0 588.0M245.5 581.8L230.3 584.5M230.3 584.5L236.6 580.1M230.3 584.5L237.7 586.5M263.6 581.8L249.1 583.1M249.1 583.1L255.4 579.4M249.1 583.1L256.0 585.6M281.8 581.8L268.3 581.8M268.3 581.8L274.4 579.0M268.3 581.8L274.4 584.7M300.0 581.8L287.4 580.7M287.4 580.7L293.3 578.5M287.4 580.7L292.9 583.9M318.2 581.8L306.2 578.6M306.2 578.6L312.3 577.5M306.2 578.6L311.0 582.6M336.4 581.8L324.7 577.6M324.7 577.6L330.9 577.0M324.7 577.6L329.1 582.0M354.5 581.8L343.2 576.5M343.2 576.5L349.5 576.5M343.2 576.5L347.2 581.3M372.7 581.8L362.9 574.1M362.9 574.1L369.0 575.5M362.9 574.1L365.7 579.7M390.9 581.8L381.8 573.1M381.8 573.1L387.8 575.1M381.8 573.1L384.1 578.9M409.1 581.8L400.9 572.0M400.9 572.0L406.7 574.7M400.9 572.0L402.5 578.2M427.3 581.8L420.6 570.7M420.6 570.7L426.0 574.3M420.6 570.7L421.3 577.1M445.5 581.8L440.5 569.5M440.5 569.5L445.3 574.0M440.5 569.5L440.1 576.1M463.6 581.8L460.8 568.7M460.8 568.7L464.9 574.1M460.8 568.7L459.3 575.2M481.8 581.8L481.3 568.4M481.3 568.4L484.4 574.4M481.3 568.4L478.7 574.6M500.0 581.8L499.8 568.2M499.8 568.2L502.8 574.3M499.8 568.2L497.0 574.4M518.2 581.8L518.2 567.8M518.2 567.8L521.2 574.1M518.2 567.8L515.2 574.1M536.4 581.8L537.2 567.6M537.2 567.6L539.8 574.2M537.2 567.6L533.8 573.9M554.5 581.8L556.2 567.6M556.2 567.6L558.5 574.4M556.2 567.6L552.5 573.7M572.7 581.8L575.2 567.7M575.2 567.7L577.1 574.6M575.2 567.7L571.1 573.5M590.9 581.8L594.4 567.7M594.4 567.7L595.8 574.8M594.4 567.7L589.9 573.3M609.1 581.8L613.0 567.6M613.0 567.6L614.2 574.9M613.0 567.6L608.2 573.2M627.3 581.8L631.6 567.4M631.6 567.4L632.7 574.8M631.6 567.4L626.6 573.0M645.5 581.8L650.2 567.1M650.2 567.1L651.1 574.8M650.2 567.1L644.9 572.8M663.6 581.8L668.7 567.0M668.7 567.0L669.6 574.8M668.7 567.0L663.3 572.6M681.8 581.8L687.4 566.8M687.4 566.8L688.0 574.8M687.4 566.8L681.7 572.4M700.0 581.8L706.0 566.5M706.0 566.5L706.5 574.7M706.0 566.5L700.1 572.2M718.2 581.8L724.7 566.3M724.7 566.3L725.0 574.7M724.7 566.3L718.5 572.0M736.4 581.8L743.3 566.2M743.3 566.2L743.4 574.8M743.3 566.2L736.9 571.8M754.5 581.8L761.8 566.2M761.8 566.2L761.8 574.8M761.8 566.2L755.2 571.8M772.7 581.8L780.3 566.3M780.3 566.3L780.1 574.9M780.3 566.3L773.6 571.7M790.9 581.8L798.8 566.4M798.8 566.4L798.5 575.1M798.8 566.4L791.9 571.7M136.4 600.0L117.3 605.8M117.3 605.8L124.7 599.2M117.3 605.8L127.2 607.2M154.5 600.0L135.8 606.1M135.8 606.1L143.0 599.4M135.8 606.1L145.6 607.3M172.7 600.0L154.5 606.3M154.5 606.3L161.4 599.6M154.5 606.3L164.1 607.3M190.9 600.0L172.2 606.8M172.2 606.8L179.3 599.8M172.2 606.8L182.1 607.7M209.1 600.0L192.0 605.4M192.0 605.4L198.6 599.3M192.0 605.4L200.9 606.6M227.3 600.0L211.8 604.1M211.8 604.1L217.9 599.0M211.8 604.1L219.7 605.5M245.5 600.0L230.3 603.1M230.3 603.1L236.5 598.5M230.3 603.1L237.8 604.9M263.6 600.0L249.5 602.0M249.5 602.0L255.5 598.1M249.5 602.0L256.3 604.1M281.8 600.0L268.7 600.7M268.7 600.7L274.5 597.6M268.7 600.7L274.8 603.2M300.0 600.0L287.7 599.6M287.7 599.6L293.3 597.2M287.7 599.6L293.2 602.4M318.2 600.0L306.3 597.9M306.3 597.9L312.1 596.4M306.3 597.9L311.3 601.4M336.4 600.0L324.8 596.2M324.8 596.2L330.8 595.5M324.8 596.2L329.2 600.4M354.5 600.0L343.4 594.8M343.4 594.8L349.6 594.8M343.4 594.8L347.4 599.5M372.7 600.0L362.7 592.9M362.7 592.9L368.7 594.0M362.7 592.9L365.7 598.3M390.9 600.0L381.8 591.6M381.8 591.6L387.7 593.5M381.8 591.6L384.2 597.4M409.1 600.0L401.0 590.4M401.0 590.4L406.7 593.0M401.0 590.4L402.7 596.4M427.3 600.0L420.9 588.9M420.9 588.9L426.1 592.6M420.9 588.9L421.4 595.3M445.5 600.0L441.0 587.8M441.0 587.8L445.6 592.4M441.0 587.8L440.4 594.2M463.6 600.0L461.2 587.1M461.2 587.1L465.1 592.4M461.2 587.1L459.6 593.4M481.8 600.0L481.6 586.8M481.6 586.8L484.5 592.7M481.6 586.8L478.9 592.8M500.0 600.0L500.1 586.5M500.1 586.5L502.9 592.6M500.1 586.5L497.2 592.6M518.2 600.0L518.7 586.0M518.7 586.0L521.4 592.5M518.7 586.0L515.5 592.3M536.4 600.0L537.9 585.8M537.9 585.8L540.2 592.6M537.9 585.8L534.2 591.9M554.5 600.0L557.0 585.9M557.0 585.9L558.9 592.8M557.0 585.9L552.9 591.8M572.7 600.0L576.2 585.9M576.2 585.9L577.6 593.0M576.2 585.9L571.7 591.6M590.9 600.0L595.5 585.9M595.5 585.9L596.4 593.2M595.5 585.9L590.4 591.3M609.1 600.0L614.2 585.6M614.2 585.6L614.9 593.2M614.2 585.6L608.8 591.1M627.3 600.0L632.9 585.4M632.9 585.4L633.4 593.2M632.9 585.4L627.3 590.8M645.5 600.0L651.6 585.2M651.6 585.2L651.9 593.2M651.6 585.2L645.7 590.6M663.6 600.0L670.3 585.1M670.3 585.1L670.4 593.3M670.3 585.1L664.1 590.5M681.8 600.0L689.0 584.9M689.0 584.9L688.9 593.2M689.0 584.9L682.5 590.2M700.0 600.0L707.7 584.6M707.7 584.6L707.5 593.2M707.7 584.6L700.9 589.9M718.2 600.0L726.4 584.5M726.4 584.5L725.9 593.2M726.4 584.5L719.4 589.8M736.4 600.0L745.0 584.5M745.0 584.5L744.3 593.3M745.0 584.5L737.8 589.7M754.5 600.0L763.5 584.5M763.5 584.5L762.7 593.4M763.5 584.5L756.2 589.7M772.7 600.0L782.0 584.6M782.0 584.6L781.0 593.5M782.0 584.6L774.5 589.6M790.9 600.0L800.4 584.8M800.4 584.8L799.3 593.7M800.4 584.8L792.9 589.7M27.3 618.2L13.9 623.1M13.9 623.1L18.9 618.0M13.9 623.1L21.0 623.7M45.5 618.2L23.9 626.0M23.9 626.0L32.0 617.9M23.9 626.0L35.3 627.0M63.6 618.2L41.5 626.2M41.5 626.2L49.9 617.9M41.5 626.2L53.3 627.2M81.8 618.2L59.2 626.4M59.2 626.4L67.7 617.9M59.2 626.4L71.2 627.5M100.0 618.2L77.4 626.4M77.4 626.4L85.9 617.9M77.4 626.4L89.4 627.5M118.2 618.2L98.1 625.9M98.1 625.9L105.6 618.2M98.1 625.9L108.8 626.6M136.4 618.2L117.7 625.7M117.7 625.7L124.5 618.4M117.7 625.7L127.7 626.3M154.5 618.2L136.5 625.8M136.5 625.8L143.1 618.6M136.5 625.8L146.3 626.2M172.7 618.2L155.5 625.8M155.5 625.8L161.7 618.7M155.5 625.8L164.9 626.0M190.9 618.2L174.8 625.7M174.8 625.7L180.5 618.9M174.8 625.7L183.7 625.7M209.1 618.2L193.7 624.6M193.7 624.6L199.3 618.4M193.7 624.6L202.0 624.9M227.3 618.2L212.5 623.6M212.5 623.6L218.0 618.0M212.5 623.6L220.3 624.3M245.5 618.2L231.1 622.0M231.1 622.0L236.8 617.3M231.1 622.0L238.4 623.3M263.6 618.2L250.0 620.6M250.0 620.6L255.7 616.6M250.0 620.6L256.7 622.4M281.8 618.2L269.0 619.3M269.0 619.3L274.6 616.1M269.0 619.3L275.0 621.5M300.0 618.2L287.9 617.8M287.9 617.8L293.5 615.4M287.9 617.8L293.3 620.5M318.2 618.2L306.7 616.6M306.7 616.6L312.2 614.9M306.7 616.6L311.5 619.7M336.4 618.2L325.0 615.1M325.0 615.1L330.8 614.1M325.0 615.1L329.5 618.9M354.5 618.2L343.8 613.2M343.8 613.2L349.7 613.2M343.8 613.2L347.6 617.7M372.7 618.2L363.0 611.4M363.0 611.4L368.8 612.4M363.0 611.4L366.0 616.5M390.9 618.2L382.1 610.1M382.1 610.1L387.8 611.9M382.1 610.1L384.4 615.6M409.1 618.2L401.3 608.9M401.3 608.9L406.8 611.4M401.3 608.9L402.9 614.7M427.3 618.2L421.3 607.3M421.3 607.3L426.3 611.0M421.3 607.3L421.7 613.5M445.5 618.2L441.5 606.1M441.5 606.1L445.9 610.8M441.5 606.1L440.8 612.4M463.6 618.2L461.6 605.5M461.6 605.5L465.2 610.8M461.6 605.5L459.9 611.7M481.8 618.2L481.8 605.2M481.8 605.2L484.6 611.1M481.8 605.2L479.1 611.1M500.0 618.2L500.6 604.8M500.6 604.8L503.1 611.0M500.6 604.8L497.5 610.8M518.2 618.2L519.4 604.3M519.4 604.3L521.8 610.9M519.4 604.3L515.9 610.3M536.4 618.2L538.7 604.1M538.7 604.1L540.6 611.0M538.7 604.1L534.7 610.0M554.5 618.2L558.0 604.2M558.0 604.2L559.4 611.2M558.0 604.2L553.4 609.8M572.7 618.2L577.3 604.2M577.3 604.2L578.2 611.5M577.3 604.2L572.3 609.6M590.9 618.2L597.1 604.4M597.1 604.4L597.2 611.9M597.1 604.4L591.4 609.3M609.1 618.2L615.7 604.1M615.7 604.1L615.7 611.9M615.7 604.1L609.7 609.1M627.3 618.2L634.5 603.7M634.5 603.7L634.3 611.8M634.5 603.7L628.2 608.8M645.5 618.2L653.2 603.5M653.2 603.5L652.8 611.8M653.2 603.5L646.6 608.5M663.6 618.2L671.9 603.3M671.9 603.3L671.3 611.8M671.9 603.3L665.0 608.3M681.8 618.2L690.6 603.1M690.6 603.1L689.8 611.8M690.6 603.1L683.4 608.1M700.0 618.2L709.3 603.0M709.3 603.0L708.3 611.8M709.3 603.0L701.9 607.9M718.2 618.2L728.0 602.9M728.0 602.9L726.8 611.9M728.0 602.9L720.3 607.8M736.4 618.2L746.6 603.0M746.6 603.0L745.2 612.0M746.6 603.0L738.8 607.7M754.5 618.2L765.2 603.0M765.2 603.0L763.6 612.1M765.2 603.0L757.1 607.6M772.7 618.2L783.7 603.1M783.7 603.1L781.9 612.3M783.7 603.1L775.5 607.7M790.9 618.2L802.1 603.3M802.1 603.3L800.2 612.4M802.1 603.3L793.9 607.7M9.1 636.4L-8.1 644.4M-8.1 644.4L-2.0 637.1M-8.1 644.4L1.4 644.4M27.3 636.4L9.7 644.6M9.7 644.6L15.9 637.1M9.7 644.6L19.4 644.6M45.5 636.4L27.1 644.9M27.1 644.9L33.6 637.2M27.1 644.9L37.2 644.9M63.6 636.4L44.9 645.1M44.9 645.1L51.5 637.2M44.9 645.1L55.2 645.1M81.8 636.4L63.1 645.1M63.1 645.1L69.7 637.2M63.1 645.1L73.4 645.1M100.0 636.4L81.5 645.0M81.5 645.0L88.1 637.2M81.5 645.0L91.7 645.0M118.2 636.4L100.2 644.7M100.2 644.7L106.6 637.1M100.2 644.7L110.1 644.7M136.4 636.4L119.0 644.5M119.0 644.5L125.1 637.1M119.0 644.5L128.6 644.5M154.5 636.4L137.8 644.2M137.8 644.2L143.7 637.1M137.8 644.2L147.0 644.2M172.7 636.4L157.1 644.5M157.1 644.5L162.5 637.5M157.1 644.5L165.9 644.1M190.9 636.4L176.5 644.7M176.5 644.7L181.2 637.9M176.5 644.7L184.8 644.0M209.1 636.4L195.0 643.7M195.0 643.7L199.8 637.4M195.0 643.7L202.9 643.4M227.3 636.4L213.4 642.8M213.4 642.8L218.3 637.0M213.4 642.8L221.1 642.8M245.5 636.4L231.9 641.3M231.9 641.3L237.0 636.2M231.9 641.3L239.1 641.9M263.6 636.4L250.6 639.8M250.6 639.8L255.8 635.5M250.6 639.8L257.3 641.0M281.8 636.4L269.4 638.0M269.4 638.0L274.7 634.6M269.4 638.0L275.4 639.9M300.0 636.4L288.3 636.4M288.3 636.4L293.6 633.9M288.3 636.4L293.6 638.8M318.2 636.4L307.2 634.4M307.2 634.4L312.6 633.0M307.2 634.4L311.7 637.6M336.4 636.4L325.9 632.5M325.9 632.5L331.4 632.1M325.9 632.5L329.8 636.5M354.5 636.4L344.8 630.8M344.8 630.8L350.4 631.2M344.8 630.8L348.0 635.3M372.7 636.4L363.9 629.4M363.9 629.4L369.3 630.7M363.9 629.4L366.4 634.4M390.9 636.4L383.1 628.1M383.1 628.1L388.4 630.2M383.1 628.1L384.9 633.5M409.1 636.4L402.4 626.8M402.4 626.8L407.5 629.7M402.4 626.8L403.4 632.6M427.3 636.4L422.5 625.4M422.5 625.4L427.0 629.4M422.5 625.4L422.4 631.4M445.5 636.4L442.9 624.4M442.9 624.4L446.6 629.3M442.9 624.4L441.6 630.4M463.6 636.4L462.8 624.0M462.8 624.0L465.8 629.4M462.8 624.0L460.5 629.8M481.8 636.4L482.7 623.7M482.7 623.7L485.0 629.6M482.7 623.7L479.6 629.2M500.0 636.4L501.8 623.3M501.8 623.3L503.8 629.6M501.8 623.3L498.2 628.8M518.2 636.4L521.0 622.9M521.0 622.9L522.6 629.6M521.0 622.9L516.9 628.4M536.4 636.4L540.4 622.7M540.4 622.7L541.4 629.7M540.4 622.7L535.7 628.0M554.5 636.4L559.7 622.7M559.7 622.7L560.2 630.0M559.7 622.7L554.5 627.8M572.7 636.4L579.0 622.8M579.0 622.8L579.0 630.3M579.0 622.8L573.3 627.6M590.9 636.4L597.0 622.1M597.0 622.1L597.2 629.9M597.0 622.1L591.2 627.3M609.1 636.4L615.7 621.8M615.7 621.8L615.8 629.8M615.7 621.8L609.6 627.0M627.3 636.4L634.4 621.4M634.4 621.4L634.4 629.7M634.4 621.4L628.0 626.6M645.5 636.4L653.2 621.0M653.2 621.0L652.9 629.6M653.2 621.0L646.4 626.3M663.6 636.4L671.9 620.8M671.9 620.8L671.5 629.6M671.9 620.8L664.9 626.1M681.8 636.4L690.6 620.6M690.6 620.6L690.0 629.6M690.6 620.6L683.3 625.9M700.0 636.4L709.3 620.5M709.3 620.5L708.5 629.7M709.3 620.5L701.8 625.7M718.2 636.4L728.0 620.5M728.0 620.5L726.9 629.7M728.0 620.5L720.2 625.6M736.4 636.4L746.7 620.5M746.7 620.5L745.4 629.9M746.7 620.5L738.6 625.5M754.5 636.4L765.3 620.6M765.3 620.6L763.8 630.0M765.3 620.6L757.1 625.5M772.7 636.4L783.9 620.8M783.9 620.8L782.1 630.2M783.9 620.8L775.6 625.5M790.9 636.4L802.5 621.0M802.5 621.0L800.5 630.4M802.5 621.0L794.0 625.5M9.1 654.5L-6.8 665.6M-6.8 665.6L-1.9 657.3M-6.8 665.6L2.8 664.0M27.3 654.5L11.3 665.5M11.3 665.5L16.2 657.2M11.3 665.5L20.8 663.9M45.5 654.5L29.3 665.3M29.3 665.3L34.4 657.0M29.3 665.3L38.9 663.9M63.6 654.5L47.5 665.1M47.5 665.1L52.6 656.9M47.5 665.1L57.0 663.7M81.8 654.5L65.7 664.9M65.7 664.9L70.8 656.8M65.7 664.9L75.2 663.6M100.0 654.5L83.9 664.6M83.9 664.6L89.1 656.6M83.9 664.6L93.3 663.4M118.2 654.5L102.4 664.4M102.4 664.4L107.5 656.6M102.4 664.4L111.7 663.2M136.4 654.5L121.1 664.1M121.1 664.1L126.0 656.5M121.1 664.1L130.0 663.0M154.5 654.5L139.8 663.7M139.8 663.7L144.6 656.5M139.8 663.7L148.4 662.7M172.7 654.5L158.9 663.7M158.9 663.7L163.2 656.6M158.9 663.7L167.1 662.5M190.9 654.5L177.9 663.7M177.9 663.7L181.8 656.8M177.9 663.7L185.7 662.3M209.1 654.5L196.1 662.8M196.1 662.8L200.2 656.3M196.1 662.8L203.7 661.8M227.3 654.5L214.5 661.9M214.5 661.9L218.7 655.9M214.5 661.9L221.9 661.3M245.5 654.5L232.8 660.4M232.8 660.4L237.3 655.1M232.8 660.4L239.8 660.4M263.6 654.5L251.4 659.0M251.4 659.0L256.0 654.4M251.4 659.0L257.9 659.6M281.8 654.5L269.8 657.2M269.8 657.2L274.7 653.5M269.8 657.2L275.8 658.5M300.0 654.5L288.6 655.5M288.6 655.5L293.5 652.7M288.6 655.5L294.0 657.5M318.2 654.5L307.3 653.6M307.3 653.6L312.5 651.7M307.3 653.6L312.1 656.3M336.4 654.5L326.3 650.9M326.3 650.9L331.6 650.4M326.3 650.9L330.1 654.7M354.5 654.5L345.8 648.4M345.8 648.4L351.0 649.3M345.8 648.4L348.4 653.0M372.7 654.5L365.1 646.9M365.1 646.9L370.2 648.8M365.1 646.9L367.0 652.0M390.9 654.5L384.2 645.9M384.2 645.9L389.1 648.4M384.2 645.9L385.4 651.2M409.1 654.5L403.5 644.8M403.5 644.8L408.1 648.0M403.5 644.8L403.9 650.4M427.3 654.5L423.8 643.5M423.8 643.5L427.7 647.8M423.8 643.5L423.0 649.3M445.5 654.5L444.4 642.9M444.4 642.9L447.4 647.9M444.4 642.9L442.4 648.4M463.6 654.5L464.2 642.6M464.2 642.6L466.4 648.1M464.2 642.6L461.4 647.9M481.8 654.5L484.0 642.4M484.0 642.4L485.6 648.3M484.0 642.4L480.4 647.4M500.0 654.5L503.6 642.1M503.6 642.1L504.6 648.5M503.6 642.1L499.3 647.0M518.2 654.5L523.3 642.0M523.3 642.0L523.6 648.7M523.3 642.0L518.3 646.6M536.4 654.5L542.4 641.8M542.4 641.8L542.4 648.8M542.4 641.8L537.0 646.3M554.5 654.5L561.6 641.6M561.6 641.6L561.1 649.0M561.6 641.6L555.7 646.0M572.7 654.5L580.9 641.5M580.9 641.5L579.9 649.1M580.9 641.5L574.4 645.7M590.9 654.5L598.2 640.3M598.2 640.3L597.9 648.3M598.2 640.3L591.9 645.2M609.1 654.5L616.9 639.8M616.9 639.8L616.5 648.1M616.9 639.8L610.3 644.8M627.3 654.5L635.7 639.4M635.7 639.4L635.1 648.0M635.7 639.4L628.7 644.5M645.5 654.5L654.4 639.1M654.4 639.1L653.6 648.0M654.4 639.1L647.1 644.2M663.6 654.5L673.1 638.9M673.1 638.9L672.1 648.0M673.1 638.9L665.5 644.0M681.8 654.5L691.7 638.8M691.7 638.8L690.5 648.0M691.7 638.8L683.9 643.8M700.0 654.5L710.3 638.6M710.3 638.6L709.0 648.0M710.3 638.6L702.3 643.7M718.2 654.5L729.0 638.6M729.0 638.6L727.4 648.1M729.0 638.6L720.7 643.5M736.4 654.5L747.5 638.6M747.5 638.6L745.8 648.2M747.5 638.6L739.1 643.5M754.5 654.5L766.2 638.7M766.2 638.7L764.3 648.3M766.2 638.7L757.6 643.4M772.7 654.5L784.8 638.8M784.8 638.8L782.7 648.5M784.8 638.8L776.0 643.4M790.9 654.5L803.4 639.1M803.4 639.1L801.0 648.7M803.4 639.1L794.5 643.5M9.1 672.7L-4.4 686.2M-4.4 686.2L-1.1 677.2M-4.4 686.2L4.6 682.9M27.3 672.7L13.6 685.9M13.6 685.9L17.0 677.1M13.6 685.9L22.6 682.8M45.5 672.7L31.6 685.6M31.6 685.6L35.2 676.9M31.6 685.6L40.6 682.7M63.6 672.7L49.7 685.3M49.7 685.3L53.4 676.6M49.7 685.3L58.7 682.5M81.8 672.7L67.8 684.9M67.8 684.9L71.6 676.4M67.8 684.9L76.7 682.3M100.0 672.7L86.0 684.5M86.0 684.5L89.8 676.2M86.0 684.5L94.8 682.1M118.2 672.7L104.3 684.1M104.3 684.1L108.2 676.0M104.3 684.1L113.0 681.9M136.4 672.7L122.8 683.5M122.8 683.5L126.7 675.8M122.8 683.5L131.3 681.5M154.5 672.7L141.4 683.0M141.4 683.0L145.2 675.6M141.4 683.0L149.5 681.1M172.7 672.7L160.3 682.8M160.3 682.8L163.8 675.6M160.3 682.8L168.1 680.9M190.9 672.7L179.1 682.7M179.1 682.7L182.3 675.7M179.1 682.7L186.5 680.7M209.1 672.7L197.3 681.8M197.3 681.8L200.7 675.2M197.3 681.8L204.6 680.2M227.3 672.7L215.7 680.9M215.7 680.9L219.2 674.7M215.7 680.9L222.6 679.6M245.5 672.7L233.9 679.4M233.9 679.4L237.7 673.9M233.9 679.4L240.5 678.8M263.6 672.7L252.2 678.1M252.2 678.1L256.2 673.2M252.2 678.1L258.5 678.1M281.8 672.7L270.1 677.0M270.1 677.0L274.5 672.6M270.1 677.0L276.3 677.5M300.0 672.7L288.7 674.7M288.7 674.7L293.4 671.4M288.7 674.7L294.2 676.2M318.2 672.7L307.5 672.7M307.5 672.7L312.3 670.5M307.5 672.7L312.3 675.0M336.4 672.7L326.0 670.0M326.0 670.0L331.3 669.0M326.0 670.0L330.1 673.4M354.5 672.7L346.4 665.9M346.4 665.9L351.5 667.3M346.4 665.9L348.7 670.7M372.7 672.7L366.0 664.7M366.0 664.7L370.7 666.9M366.0 664.7L367.4 669.8M390.9 672.7L385.0 663.5M385.0 663.5L389.6 666.5M385.0 663.5L385.8 668.9M409.1 672.7L404.4 662.7M404.4 662.7L408.7 666.2M404.4 662.7L404.4 668.2M427.3 672.7L424.8 661.4M424.8 661.4L428.3 666.0M424.8 661.4L423.5 667.1M445.5 672.7L445.5 660.9M445.5 660.9L448.0 666.3M445.5 660.9L443.0 666.3M463.6 672.7L465.4 661.4M465.4 661.4L467.0 666.9M465.4 661.4L462.2 666.1M481.8 672.7L485.5 661.3M485.5 661.3L486.3 667.3M485.5 661.3L481.4 665.7M500.0 672.7L505.2 661.1M505.2 661.1L505.3 667.5M505.2 661.1L500.4 665.3M518.2 672.7L524.9 661.0M524.9 661.0L524.3 667.8M524.9 661.0L519.4 664.9M536.4 672.7L544.2 660.8M544.2 660.8L543.2 667.9M544.2 660.8L538.1 664.6M554.5 672.7L563.6 660.6M563.6 660.6L562.0 668.0M563.6 660.6L556.9 664.2M572.7 672.7L582.9 660.6M582.9 660.6L580.8 668.3M582.9 660.6L575.7 664.0M590.9 672.7L599.5 658.4M599.5 658.4L598.6 666.7M599.5 658.4L592.6 663.1M609.1 672.7L618.4 657.8M618.4 657.8L617.3 666.5M618.4 657.8L611.0 662.6M627.3 672.7L637.2 657.5M637.2 657.5L635.9 666.5M637.2 657.5L629.5 662.3M645.5 672.7L655.9 657.2M655.9 657.2L654.4 666.5M655.9 657.2L647.9 662.0M663.6 672.7L674.5 657.1M674.5 657.1L672.9 666.5M674.5 657.1L666.3 661.9M681.8 672.7L693.1 657.1M693.1 657.1L691.3 666.5M693.1 657.1L684.7 661.8M700.0 672.7L711.7 656.9M711.7 656.9L709.7 666.6M711.7 656.9L703.1 661.6M718.2 672.7L730.2 656.9M730.2 656.9L728.1 666.6M730.2 656.9L721.4 661.5M736.4 672.7L748.8 656.9M748.8 656.9L746.5 666.7M748.8 656.9L739.8 661.4M754.5 672.7L767.4 656.9M767.4 656.9L764.9 666.8M767.4 656.9L758.2 661.4M772.7 672.7L785.9 657.0M785.9 657.0L783.2 666.9M785.9 657.0L776.6 661.4M790.9 672.7L804.4 657.3M804.4 657.3L801.5 667.1M804.4 657.3L795.0 661.4M9.1 690.9L-1.8 706.4M-1.8 706.4L-0.1 697.1M-1.8 706.4L6.4 701.7M27.3 690.9L16.2 706.2M16.2 706.2L18.0 696.9M16.2 706.2L24.4 701.6M45.5 690.9L34.2 705.9M34.2 705.9L36.1 696.7M34.2 705.9L42.5 701.5M63.6 690.9L52.2 705.5M52.2 705.5L54.3 696.5M52.2 705.5L60.5 701.3M81.8 690.9L70.3 705.2M70.3 705.2L72.5 696.3M70.3 705.2L78.5 701.1M100.0 690.9L88.4 704.7M88.4 704.7L90.7 696.0M88.4 704.7L96.6 700.9M118.2 690.9L106.5 704.0M106.5 704.0L109.0 695.6M106.5 704.0L114.6 700.6M136.4 690.9L124.8 703.2M124.8 703.2L127.4 695.2M124.8 703.2L132.6 700.1M154.5 690.9L143.1 702.4M143.1 702.4L145.9 694.8M143.1 702.4L150.7 699.6M172.7 690.9L161.7 701.9M161.7 701.9L164.4 694.6M161.7 701.9L169.0 699.2M190.9 690.9L180.4 701.4M180.4 701.4L182.9 694.4M180.4 701.4L187.4 698.9M209.1 690.9L199.0 701.0M199.0 701.0L201.4 694.3M199.0 701.0L205.7 698.6M227.3 690.9L217.6 700.6M217.6 700.6L220.0 694.1M217.6 700.6L224.0 698.2M245.5 690.9L235.6 699.2M235.6 699.2L238.3 693.3M235.6 699.2L241.8 697.5M263.6 690.9L253.7 697.9M253.7 697.9L256.7 692.6M253.7 697.9L259.7 696.8M281.8 690.9L271.6 696.8M271.6 696.8L275.0 692.0M271.6 696.8L277.5 696.3M300.0 690.9L289.6 693.7M289.6 693.7L293.7 690.2M289.6 693.7L294.9 694.6M318.2 690.9L308.4 691.8M308.4 691.8L312.7 689.3M308.4 691.8L313.0 693.4M336.4 690.9L327.4 689.3M327.4 689.3L331.8 688.1M327.4 689.3L331.1 691.9M354.5 690.9L347.1 686.6M347.1 686.6L351.4 687.0M347.1 686.6L349.6 690.1M372.7 690.9L368.5 683.6M368.5 683.6L372.0 686.0M368.5 683.6L368.9 687.8M390.9 690.9L388.6 682.3M388.6 682.3L391.5 685.7M388.6 682.3L387.8 686.7M409.1 690.9L408.3 681.3M408.3 681.3L410.7 685.5M408.3 681.3L406.6 685.9M427.3 690.9L428.2 680.8M428.2 680.8L429.9 685.5M428.2 680.8L425.6 685.2M445.5 690.9L448.3 680.4M448.3 680.4L449.2 685.7M448.3 680.4L444.8 684.5M463.6 690.9L468.3 680.9M468.3 680.9L468.3 686.4M468.3 680.9L464.1 684.4M481.8 690.9L488.6 681.3M488.6 681.3L487.5 687.1M488.6 681.3L483.5 684.2M500.0 690.9L507.7 680.9M507.7 680.9L506.3 687.0M507.7 680.9L502.1 683.8M518.2 690.9L527.0 680.4M527.0 680.4L525.2 687.0M527.0 680.4L520.8 683.3M536.4 690.9L546.1 679.9M546.1 679.9L544.0 687.0M546.1 679.9L539.4 682.8M554.5 690.9L565.3 679.5M565.3 679.5L562.8 687.0M565.3 679.5L558.0 682.4M572.7 690.9L584.4 679.2M584.4 679.2L581.6 687.0M584.4 679.2L576.6 682.1M590.9 690.9L601.0 676.5M601.0 676.5L599.5 685.2M601.0 676.5L593.4 680.9M609.1 690.9L619.9 675.9M619.9 675.9L618.2 685.0M619.9 675.9L611.8 680.4M627.3 690.9L638.6 675.6M638.6 675.6L636.7 684.9M638.6 675.6L630.2 680.2M645.5 690.9L657.3 675.4M657.3 675.4L655.2 684.9M657.3 675.4L648.6 679.9M663.6 690.9L675.9 675.3M675.9 675.3L673.6 684.9M675.9 675.3L667.0 679.8M681.8 690.9L694.4 675.1M694.4 675.1L692.0 684.9M694.4 675.1L685.3 679.6M700.0 690.9L712.9 675.0M712.9 675.0L710.4 684.9M712.9 675.0L703.7 679.5M718.2 690.9L731.3 675.0M731.3 675.0L728.7 685.0M731.3 675.0L722.0 679.4M736.4 690.9L749.8 674.9M749.8 674.9L747.1 685.0M749.8 674.9L740.3 679.3M754.5 690.9L768.4 675.0M768.4 675.0L765.5 685.1M768.4 675.0L758.7 679.3M772.7 690.9L786.9 675.2M786.9 675.2L783.8 685.3M786.9 675.2L777.1 679.3M790.9 690.9L805.3 675.5M805.3 675.5L802.1 685.5M805.3 675.5L795.5 679.4M9.1 709.1L-0.3 725.4M-0.3 725.4L0.5 716.0M-0.3 725.4L7.4 720.0M27.3 709.1L17.6 725.2M17.6 725.2L18.6 715.9M17.6 725.2L25.4 720.0M45.5 709.1L35.6 724.9M35.6 724.9L36.7 715.7M35.6 724.9L43.4 719.8M63.6 709.1L53.6 724.6M53.6 724.6L54.9 715.4M53.6 724.6L61.4 719.7M81.8 709.1L71.6 724.2M71.6 724.2L73.1 715.2M71.6 724.2L79.4 719.5M100.0 709.1L89.7 723.7M89.7 723.7L91.3 714.9M89.7 723.7L97.5 719.3M118.2 709.1L108.0 723.1M108.0 723.1L109.7 714.6M108.0 723.1L115.6 718.9M136.4 709.1L126.4 722.3M126.4 722.3L128.1 714.2M126.4 722.3L133.7 718.4M154.5 709.1L144.8 721.6M144.8 721.6L146.6 713.9M144.8 721.6L151.9 718.0M172.7 709.1L163.7 721.2M163.7 721.2L165.2 713.8M163.7 721.2L170.4 717.6M190.9 709.1L182.7 720.9M182.7 720.9L183.9 713.8M182.7 720.9L188.9 717.3M209.1 709.1L201.2 720.4M201.2 720.4L202.4 713.6M201.2 720.4L207.2 716.9M227.3 709.1L219.7 719.8M219.7 719.8L220.9 713.4M219.7 719.8L225.4 716.6M245.5 709.1L237.6 718.5M237.6 718.5L239.2 712.6M237.6 718.5L243.1 715.9M263.6 709.1L255.5 717.2M255.5 717.2L257.5 711.8M255.5 717.2L260.9 715.3M281.8 709.1L272.7 715.5M272.7 715.5L275.5 710.7M272.7 715.5L278.2 714.5M300.0 709.1L290.9 713.3M290.9 713.3L294.2 709.5M290.9 713.3L295.9 713.3M318.2 709.1L309.8 709.8M309.8 709.8L313.4 707.7M309.8 709.8L313.7 711.3M336.4 709.1L329.1 707.8M329.1 707.8L332.7 706.9M329.1 707.8L332.1 709.9M354.5 709.1L349.5 704.8M349.5 704.8L352.7 705.7M349.5 704.8L350.9 707.8M372.7 709.1L371.6 702.7M371.6 702.7L373.5 705.3M371.6 702.7L370.7 705.8M390.9 709.1L390.9 701.7M390.9 701.7L392.5 705.0M390.9 701.7L389.3 705.0M409.1 709.1L410.5 700.9M410.5 700.9L411.6 704.9M410.5 700.9L408.2 704.3M427.3 709.1L431.2 700.7M431.2 700.7L431.2 705.3M431.2 700.7L427.6 703.7M445.5 709.1L451.4 700.7M451.4 700.7L450.5 705.7M451.4 700.7L446.9 703.2M463.6 709.1L470.5 700.9M470.5 700.9L469.2 706.0M470.5 700.9L465.7 703.1M481.8 709.1L490.1 700.8M490.1 700.8L488.1 706.3M490.1 700.8L484.6 702.8M500.0 709.1L509.3 700.3M509.3 700.3L507.0 706.2M509.3 700.3L503.2 702.3M518.2 709.1L528.7 699.6M528.7 699.6L525.9 706.1M528.7 699.6L521.9 701.7M536.4 709.1L547.9 698.9M547.9 698.9L544.8 706.0M547.9 698.9L540.5 701.1M554.5 709.1L566.9 698.4M566.9 698.4L563.6 705.9M566.9 698.4L559.1 700.7M572.7 709.1L586.0 697.9M586.0 697.9L582.4 705.8M586.0 697.9L577.6 700.2M590.9 709.1L602.5 694.8M602.5 694.8L600.2 703.7M602.5 694.8L594.2 698.8M609.1 709.1L621.3 694.3M621.3 694.3L618.9 703.6M621.3 694.3L612.6 698.4M627.3 709.1L639.9 694.0M639.9 694.0L637.4 703.5M639.9 694.0L631.0 698.2M645.5 709.1L658.5 693.8M658.5 693.8L655.8 703.5M658.5 693.8L649.4 697.9M663.6 709.1L677.1 693.6M677.1 693.6L674.3 703.5M677.1 693.6L667.7 697.8M681.8 709.1L695.6 693.4M695.6 693.4L692.6 703.4M695.6 693.4L686.0 697.6M700.0 709.1L713.9 693.3M713.9 693.3L710.9 703.4M713.9 693.3L704.3 697.5M718.2 709.1L732.3 693.3M732.3 693.3L729.2 703.4M732.3 693.3L722.6 697.5M736.4 709.1L750.7 693.2M750.7 693.2L747.6 703.4M750.7 693.2L740.8 697.4M754.5 709.1L769.2 693.2M769.2 693.2L765.9 703.5M769.2 693.2L759.2 697.3M772.7 709.1L787.6 693.4M787.6 693.4L784.2 703.6M787.6 693.4L777.5 697.4M790.9 709.1L805.9 693.5M805.9 693.5L802.4 703.8M805.9 693.5L795.8 697.4M9.1 727.3L1.1 744.3M1.1 744.3L1.1 734.9M1.1 744.3L8.3 738.3M27.3 727.3L19.1 744.1M19.1 744.1L19.2 734.7M19.1 744.1L26.3 738.2M45.5 727.3L37.0 743.8M37.0 743.8L37.4 734.5M37.0 743.8L44.3 738.1M63.6 727.3L55.0 743.5M55.0 743.5L55.5 734.3M55.0 743.5L62.4 737.9M81.8 727.3L73.1 743.1M73.1 743.1L73.7 734.1M73.1 743.1L80.4 737.8M100.0 727.3L91.1 742.6M91.1 742.6L91.9 733.8M91.1 742.6L98.4 737.5M118.2 727.3L109.6 742.1M109.6 742.1L110.4 733.6M109.6 742.1L116.6 737.2M136.4 727.3L128.2 741.4M128.2 741.4L128.9 733.3M128.2 741.4L134.9 736.7M154.5 727.3L146.8 740.8M146.8 740.8L147.4 733.0M146.8 740.8L153.1 736.3M172.7 727.3L165.9 740.3M165.9 740.3L166.2 733.0M165.9 740.3L171.8 735.9M190.9 727.3L185.0 740.0M185.0 740.0L185.0 733.0M185.0 740.0L190.4 735.5M209.1 727.3L202.9 739.2M202.9 739.2L203.2 732.5M202.9 739.2L208.2 735.1M227.3 727.3L220.9 738.3M220.9 738.3L221.5 731.9M220.9 738.3L226.1 734.6M245.5 727.3L238.7 737.0M238.7 737.0L239.7 731.1M238.7 737.0L243.8 734.0M263.6 727.3L256.5 735.7M256.5 735.7L258.0 730.4M256.5 735.7L261.5 733.4M281.8 727.3L274.3 734.8M274.3 734.8L276.1 729.8M274.3 734.8L279.3 733.0M300.0 727.3L292.4 732.6M292.4 732.6L294.7 728.6M292.4 732.6L297.0 731.8M318.2 727.3L310.9 728.6M310.9 728.6L313.9 726.4M310.9 728.6L314.5 729.5M336.4 727.3L331.5 727.3M331.5 727.3L333.7 726.2M331.5 727.3L333.7 728.3M354.5 727.3L351.1 725.3M351.1 725.3L353.1 725.4M351.1 725.3L352.2 726.9M372.7 727.3L375.3 722.8M375.3 722.8L375.1 725.4M375.3 722.8L373.2 724.3M390.9 727.3L395.4 722.8M395.4 722.8L394.3 725.8M395.4 722.8L392.4 723.9M409.1 727.3L414.8 722.5M414.8 722.5L413.2 725.9M414.8 722.5L411.2 723.4M427.3 727.3L434.0 721.6M434.0 721.6L432.1 725.6M434.0 721.6L429.8 722.8M445.5 727.3L453.1 720.9M453.1 720.9L451.0 725.4M453.1 720.9L448.3 722.2M463.6 727.3L471.9 720.6M471.9 720.6L469.6 725.4M471.9 720.6L466.7 721.9M481.8 727.3L491.1 720.0M491.1 720.0L488.4 725.3M491.1 720.0L485.4 721.3M500.0 727.3L510.4 719.2M510.4 719.2L507.4 725.0M510.4 719.2L504.0 720.7M518.2 727.3L529.7 718.3M529.7 718.3L526.4 724.8M529.7 718.3L522.6 719.9M536.4 727.3L548.9 717.5M548.9 717.5L545.3 724.6M548.9 717.5L541.1 719.3M554.5 727.3L568.0 716.8M568.0 716.8L564.1 724.4M568.0 716.8L559.7 718.7M572.7 727.3L587.0 716.1M587.0 716.1L582.9 724.2M587.0 716.1L578.2 718.1M590.9 727.3L603.8 713.4M603.8 713.4L600.9 722.4M603.8 713.4L595.0 717.0M609.1 727.3L622.4 712.9M622.4 712.9L619.4 722.3M622.4 712.9L613.4 716.6M627.3 727.3L641.0 712.6M641.0 712.6L637.9 722.1M641.0 712.6L631.7 716.4M645.5 727.3L659.5 712.2M659.5 712.2L656.3 722.0M659.5 712.2L649.9 716.1M663.6 727.3L677.9 712.0M677.9 712.0L674.7 721.9M677.9 712.0L668.2 715.9M681.8 727.3L696.3 711.8M696.3 711.8L693.0 721.9M696.3 711.8L686.4 715.7M700.0 727.3L714.6 711.6M714.6 711.6L711.3 721.8M714.6 711.6L704.7 715.6M718.2 727.3L732.9 711.5M732.9 711.5L729.5 721.8M732.9 711.5L722.9 715.6M736.4 727.3L751.2 711.4M751.2 711.4L747.8 721.7M751.2 711.4L741.1 715.5M754.5 727.3L769.6 711.5M769.6 711.5L766.1 721.8M769.6 711.5L759.5 715.4M772.7 727.3L788.1 711.5M788.1 711.5L784.5 721.9M788.1 711.5L777.8 715.4M790.9 727.3L806.5 711.7M806.5 711.7L802.7 722.0M806.5 711.7L796.1 715.5M9.1 745.5L1.2 762.4M1.2 762.4L1.2 753.0M1.2 762.4L8.4 756.4M27.3 745.5L19.4 762.3M19.4 762.3L19.4 753.0M19.4 762.3L26.5 756.3M45.5 745.5L37.7 762.1M37.7 762.1L37.7 752.9M37.7 762.1L44.7 756.2M63.6 745.5L56.0 761.9M56.0 761.9L56.0 752.8M56.0 761.9L62.9 756.1M81.8 745.5L74.2 761.7M74.2 761.7L74.2 752.7M74.2 761.7L81.1 755.9M100.0 745.5L92.6 761.4M92.6 761.4L92.6 752.6M92.6 761.4L99.3 755.7M118.2 745.5L111.0 760.8M111.0 760.8L111.0 752.3M111.0 760.8L117.5 755.4M136.4 745.5L129.5 760.1M129.5 760.1L129.5 752.0M129.5 760.1L135.7 754.9M154.5 745.5L148.0 759.4M148.0 759.4L148.0 751.7M148.0 759.4L153.9 754.5M172.7 745.5L167.2 758.9M167.2 758.9L166.9 751.6M167.2 758.9L172.5 754.0M190.9 745.5L186.2 758.5M186.2 758.5L185.6 751.6M186.2 758.5L191.1 753.6M209.1 745.5L204.0 757.7M204.0 757.7L203.7 751.1M204.0 757.7L208.9 753.2M227.3 745.5L222.0 756.8M222.0 756.8L222.0 750.5M222.0 756.8L226.8 752.8M245.5 745.5L239.7 755.5M239.7 755.5L240.2 749.7M239.7 755.5L244.4 752.2M263.6 745.5L257.5 754.3M257.5 754.3L258.4 749.0M257.5 754.3L262.1 751.6M281.8 745.5L275.2 753.3M275.2 753.3L276.5 748.4M275.2 753.3L279.9 751.2M300.0 745.5L293.1 751.2M293.1 751.2L295.0 747.2M293.1 751.2L297.5 750.0M318.2 745.5L311.8 747.8M311.8 747.8L314.2 745.4M311.8 747.8L315.2 748.1M336.4 745.5L332.7 746.1M332.7 746.1L334.2 745.0M332.7 746.1L334.5 746.6M354.5 745.5L354.5 742.4M354.5 742.4L355.2 743.8M354.5 742.4L353.9 743.8M372.7 745.5L376.4 742.4M376.4 742.4L375.4 744.5M376.4 742.4L374.1 743.0M390.9 745.5L396.3 742.9M396.3 742.9L394.4 745.2M396.3 742.9L393.3 742.9M409.1 745.5L415.3 741.8M415.3 741.8L413.3 744.8M415.3 741.8L411.7 742.2M427.3 745.5L434.7 741.2M434.7 741.2L432.3 744.7M434.7 741.2L430.4 741.5M445.5 745.5L454.1 740.5M454.1 740.5L451.2 744.6M454.1 740.5L449.1 740.9M463.6 745.5L472.9 739.9M472.9 739.9L469.9 744.4M472.9 739.9L467.5 740.5M481.8 745.5L492.0 739.1M492.0 739.1L488.7 744.1M492.0 739.1L486.0 739.8M500.0 745.5L511.2 738.0M511.2 738.0L507.7 743.8M511.2 738.0L504.6 739.0M518.2 745.5L530.4 736.9M530.4 736.9L526.7 743.3M530.4 736.9L523.1 738.2M536.4 745.5L549.7 736.1M549.7 736.1L545.6 743.2M549.7 736.1L541.7 737.5M554.5 745.5L569.0 735.4M569.0 735.4L564.6 743.0M569.0 735.4L560.3 736.9M572.7 745.5L588.0 734.7M588.0 734.7L583.4 742.8M588.0 734.7L578.8 736.4M590.9 745.5L605.0 732.3M605.0 732.3L601.4 741.2M605.0 732.3L595.9 735.3M609.1 745.5L623.5 731.8M623.5 731.8L619.9 741.0M623.5 731.8L614.1 734.9M627.3 745.5L641.9 731.3M641.9 731.3L638.2 740.8M641.9 731.3L632.3 734.6M645.5 745.5L660.3 730.9M660.3 730.9L656.6 740.6M660.3 730.9L650.5 734.4M663.6 745.5L678.5 730.5M678.5 730.5L674.9 740.5M678.5 730.5L668.6 734.2M681.8 745.5L696.8 730.3M696.8 730.3L693.2 740.3M696.8 730.3L686.8 734.0M700.0 745.5L715.1 730.1M715.1 730.1L711.5 740.2M715.1 730.1L705.0 733.8M718.2 745.5L733.3 729.9M733.3 729.9L729.8 740.2M733.3 729.9L723.2 733.7M736.4 745.5L751.5 729.7M751.5 729.7L748.0 740.1M751.5 729.7L741.3 733.7M754.5 745.5L770.0 729.6M770.0 729.6L766.3 740.1M770.0 729.6L759.7 733.5M772.7 745.5L788.6 729.4M788.6 729.4L784.8 740.0M788.6 729.4L778.0 733.4M790.9 745.5L807.0 729.4M807.0 729.4L803.1 740.1M807.0 729.4L796.3 733.3M9.1 763.6L1.2 780.5M1.2 780.5L1.2 771.2M1.2 780.5L8.4 774.5M27.3 763.6L19.4 780.4M19.4 780.4L19.4 771.2M19.4 780.4L26.5 774.5M45.5 763.6L37.7 780.3M37.7 780.3L37.7 771.1M37.7 780.3L44.7 774.4M63.6 763.6L56.0 780.0M56.0 780.0L56.0 771.0M56.0 780.0L62.9 774.2M81.8 763.6L74.3 779.8M74.3 779.8L74.3 770.9M74.3 779.8L81.1 774.1M100.0 763.6L92.6 779.5M92.6 779.5L92.6 770.7M92.6 779.5L99.3 773.9M118.2 763.6L111.3 779.1M111.3 779.1L111.2 770.6M111.3 779.1L117.7 773.5M136.4 763.6L130.1 778.4M130.1 778.4L129.8 770.4M130.1 778.4L136.1 773.1M154.5 763.6L148.8 777.9M148.8 777.9L148.4 770.2M148.8 777.9L154.4 772.6M172.7 763.6L167.6 777.1M167.6 777.1L167.1 769.9M167.6 777.1L172.7 772.1M190.9 763.6L186.2 776.6M186.2 776.6L185.6 769.7M186.2 776.6L191.1 771.7M209.1 763.6L204.1 775.8M204.1 775.8L203.8 769.2M204.1 775.8L208.9 771.3M227.3 763.6L222.0 774.9M222.0 774.9L222.0 768.7M222.0 774.9L226.8 770.9M245.5 763.6L240.1 773.8M240.1 773.8L240.4 768.1M240.1 773.8L244.7 770.3M263.6 763.6L258.3 772.9M258.3 772.9L258.8 767.6M258.3 772.9L262.7 769.8M281.8 763.6L275.9 772.1M275.9 772.1L276.8 767.0M275.9 772.1L280.4 769.5M300.0 763.6L293.6 770.1M293.6 770.1L295.1 765.8M293.6 770.1L297.8 768.5M318.2 763.6L318.2 770.9M318.2 770.9L316.6 767.6M318.2 770.9L319.7 767.6M336.4 763.6L339.4 768.9M339.4 768.9L336.9 767.1M339.4 768.9L339.1 765.9M354.5 763.6L359.3 766.4M359.3 766.4L356.6 766.1M359.3 766.4L357.7 764.1M372.7 763.6L378.3 764.6M378.3 764.6L375.6 765.4M378.3 764.6L376.0 763.0M390.9 763.6L397.5 763.6M397.5 763.6L394.5 765.0M397.5 763.6L394.5 762.2M409.1 763.6L416.7 762.3M416.7 762.3L413.5 764.5M416.7 762.3L413.0 761.3M427.3 763.6L436.0 761.3M436.0 761.3L432.6 764.2M436.0 761.3L431.6 760.5M445.5 763.6L455.0 759.2M455.0 759.2L451.6 763.2M455.0 759.2L449.7 759.2M463.6 763.6L473.5 758.7M473.5 758.7L470.1 763.0M473.5 758.7L468.0 758.8M481.8 763.6L492.6 757.9M492.6 757.9L488.9 762.8M492.6 757.9L486.5 758.2M500.0 763.6L512.0 757.0M512.0 757.0L508.0 762.5M512.0 757.0L505.1 757.5M518.2 763.6L531.4 756.0M531.4 756.0L527.0 762.3M531.4 756.0L523.8 756.7M536.4 763.6L550.6 755.2M550.6 755.2L545.9 762.0M550.6 755.2L542.3 756.0M554.5 763.6L569.8 754.3M569.8 754.3L564.9 761.8M569.8 754.3L560.9 755.3M572.7 763.6L588.8 753.6M588.8 753.6L583.6 761.5M588.8 753.6L579.4 754.7M590.9 763.6L605.8 751.1M605.8 751.1L601.7 759.9M605.8 751.1L596.4 753.6M609.1 763.6L624.2 750.6M624.2 750.6L620.1 759.7M624.2 750.6L614.6 753.3M627.3 763.6L642.6 750.1M642.6 750.1L638.5 759.5M642.6 750.1L632.8 753.0M645.5 763.6L660.9 749.6M660.9 749.6L656.9 759.2M660.9 749.6L650.9 752.7M663.6 763.6L679.1 749.2M679.1 749.2L675.1 759.0M679.1 749.2L669.0 752.5M681.8 763.6L697.3 749.0M697.3 749.0L693.4 758.9M697.3 749.0L687.2 752.3M700.0 763.6L715.5 748.6M715.5 748.6L711.7 758.7M715.5 748.6L705.3 752.1M718.2 763.6L733.7 748.4M733.7 748.4L729.9 758.6M733.7 748.4L723.5 752.0M736.4 763.6L751.9 748.1M751.9 748.1L748.1 758.4M751.9 748.1L741.6 751.9M754.5 763.6L770.4 747.8M770.4 747.8L766.6 758.3M770.4 747.8L759.9 751.6M772.7 763.6L789.1 747.3M789.1 747.3L785.1 758.2M789.1 747.3L778.2 751.3M790.9 763.6L807.5 747.1M807.5 747.1L803.5 758.1M807.5 747.1L796.5 751.1" stroke="#fff" stroke-width="1" fill="none" shape-rendering="crispEdges"/>
<g filter="url(#ga)">
<text x="4.70" y="73.2" textLength="114.56" lengthAdjust="spacingAndGlyphs" font-family="'DejaVu Sans','Liberation Sans',sans-serif" font-weight="bold" font-size="25" fill="#808080" style="font-kerning:none">forecast</text>
<text x="127.96" y="73.2" textLength="76.27" lengthAdjust="spacingAndGlyphs" font-family="'DejaVu Sans','Liberation Sans',sans-serif" font-weight="bold" font-size="25" fill="#808080" style="font-kerning:none">date:</text>
<text x="212.93" y="73.2" textLength="154.96" lengthAdjust="spacingAndGlyphs" font-family="'DejaVu Sans','Liberation Sans',sans-serif" font-weight="bold" font-size="25" fill="#808080" style="font-kerning:none">2024-02-15</text>
<text x="377.22" y="73.2" textLength="121.75" lengthAdjust="spacingAndGlyphs" font-family="'DejaVu Sans','Liberation Sans',sans-serif" font-weight="bold" font-size="25" fill="#808080" style="font-kerning:none">00:00:00</text>
<text x="41.00" y="95.5" textLength="71.26" lengthAdjust="spacingAndGlyphs" font-family="'DejaVu Sans','Liberation Sans',sans-serif" font-weight="bold" font-size="25" fill="#808080" style="font-kerning:none">valid</text>
<text x="116.55" y="95.5" textLength="77.20" lengthAdjust="spacingAndGlyphs" font-family="'DejaVu Sans','Liberation Sans',sans-serif" font-weight="bold" font-size="25" fill="#808080" style="font-kerning:none">date:</text>
<text x="201.53" y="95.5" textLength="155.77" lengthAdjust="spacingAndGlyphs" font-family="'DejaVu Sans','Liberation Sans',sans-serif" font-weight="bold" font-size="25" fill="#808080" style="font-kerning:none">2024-02-24</text>
<text x="366.67" y="95.5" textLength="120.30" lengthAdjust="spacingAndGlyphs" font-family="'DejaVu Sans','Liberation Sans',sans-serif" font-weight="bold" font-size="25" fill="#808080" style="font-kerning:none">18:00:00</text>
</g>
<polyline points="0.0,617.5 16.0,616.0 32.0,613.0 81.7,607.0 95.0,605.8 109.0,601.7 128.0,599.0 150.0,595.0 163.5,591.0 185.0,585.3 202.0,581.5 227.0,571.5 247.0,561.5 259.5,552.8 261.5,545.0 262.0,536.5 267.0,527.8 282.0,516.5 292.0,507.8 299.5,496.5 309.5,482.8 319.5,470.0 324.5,464.0 324.5,454.0 323.0,441.5 320.8,431.5 319.5,422.8 315.8,422.8 312.0,425.0 304.5,427.0 299.5,424.5 292.0,420.0 284.5,415.0 280.8,410.0 275.8,404.5 272.0,397.0 271.0,389.5 273.0,382.0 278.0,374.5 284.5,367.0 290.0,359.5 290.8,355.8 288.0,350.8 282.0,342.0 274.5,334.5 270.0,335.0 262.5,328.8 255.0,325.0 242.5,318.8 236.2,314.4 231.2,315.0 227.5,311.9 220.0,310.0 213.8,308.0 203.8,301.2 200.0,296.2 192.5,291.9 190.6,285.6 194.0,280.6 191.9,278.0 185.6,275.4 195.6,273.0 199.4,268.8 200.0,261.2 198.8,256.2 195.6,255.0 194.4,250.0 194.4,245.0 190.0,239.4 187.2,235.0 187.2,226.2 188.8,216.2 190.0,211.2 192.5,206.9 197.5,203.0 196.2,198.8 196.9,190.6 195.0,189.4 196.9,187.2 203.8,187.2 203.8,188.8 210.0,189.4 213.1,188.0 215.6,183.8 215.6,178.8 217.5,175.0 215.0,170.0 213.1,167.5 211.2,155.0 211.9,142.5 220.6,130.0 213.1,120.0 216.9,113.8 216.2,105.6 212.2,100.6 216.2,96.9 223.8,95.0 225.6,87.5 228.0,78.8 228.0,75.0 225.0,73.0 223.0,68.8 228.0,65.0 230.0,60.0 235.0,52.5 232.5,45.0 235.6,33.8 233.0,32.5 235.0,30.0 241.2,28.5" fill="none" stroke="#000" stroke-width="1" shape-rendering="crispEdges"/>
<polyline points="211.9,142.5 216.2,152.5 217.5,157.5 217.5,167.5 223.8,173.1 223.0,178.8 220.6,185.6 216.2,189.4 210.0,190.0 203.8,189.4 200.6,191.2 200.0,194.4 201.9,198.8 201.2,205.0 196.2,210.0 200.0,213.8 199.4,216.9 195.6,220.0 196.2,225.0 195.6,240.0 197.5,248.8 203.8,253.8 208.8,259.4 211.9,265.0 213.1,266.2 218.1,266.2 223.8,271.2 233.8,280.6 235.6,285.0 237.5,287.5 238.0,289.4 243.8,288.0 250.0,286.2 256.2,285.0 261.2,286.2 269.5,285.8 282.0,286.5 290.8,288.2 297.0,294.5 307.0,300.8 317.0,304.5 327.0,307.0 337.0,309.5 344.5,313.2 345.8,317.0 352.0,317.5 357.0,320.8 360.8,322.0 362.0,319.5 372.0,317.0 382.0,312.0 392.0,310.8 402.0,310.8 412.0,312.0 419.5,313.2 423.2,317.0 432.0,319.5 440.8,319.0 445.8,322.0 448.2,325.8 457.0,322.0 469.5,317.0 482.0,312.0 492.0,308.2 498.2,304.5 499.5,300.8 493.2,300.8 497.0,298.2 494.5,295.8 499.5,297.0 499.5,300.8 500.8,303.2 507.0,302.0 512.0,297.0 522.0,289.5 532.0,283.2 535.8,278.2 537.0,272.0 539.0,270.0 546.5,262.5 552.5,257.2 554.8,246.0 557.8,240.0 561.5,235.8 570.5,231.8 579.5,223.5 590.0,214.5 600.5,207.8 609.5,199.5 617.0,192.0 621.5,183.0 626.0,172.5 630.5,160.5 634.2,150.0 635.0,147.0 642.5,133.5 650.0,125.2 657.5,120.0 665.0,112.5 672.5,105.0 687.5,94.5 702.5,84.8 717.5,74.2 732.5,63.0 740.0,57.0 750.0,47.5 760.0,36.2 765.6,28.5" fill="none" stroke="#000" stroke-width="1" shape-rendering="crispEdges"/>
<polyline points="407.5,28.0 417.5,35.8 421.2,44.5 427.5,53.2 437.5,57.0 442.5,55.8 450.0,63.2 456.2,67.0 466.2,68.2 477.5,73.2 485.0,80.8 492.5,89.5 500.0,95.8 507.5,102.0 511.2,100.2 515.0,100.8 518.8,104.5 525.0,105.8 528.8,110.8 536.2,113.2 537.5,120.8 542.5,125.8 543.8,134.5 550.0,142.0 560.0,149.5 569.0,152.2 576.5,155.2 583.0,162.0 576.5,168.0 569.8,173.2 568.2,178.5 562.2,182.2 555.5,186.0 552.5,191.2 551.8,198.0 553.2,210.0 551.8,225.0 553.2,231.0 557.8,231.8 561.5,235.8" fill="none" stroke="#000" stroke-width="1" shape-rendering="crispEdges"/>
<polyline points="656.8,119.2 659.3,114.8 661.2,110.2 662.8,105.0 658.2,100.5 657.5,96.8 659.8,95.2 668.0,96.3 675.5,96.8 677.0,94.5 684.5,93.0 692.0,87.8 698.0,83.2 701.8,78.8 703.2,81.0 705.5,72.8 707.8,74.2 716.0,72.0 720.5,66.8 723.5,60.0 724.2,52.5 723.5,45.0 726.5,41.2 735.5,40.5 736.2,45.0 737.8,45.8 740.0,43.8 740.0,41.2 738.8,40.0 737.5,30.0 738.8,28.5" fill="none" stroke="#000" stroke-width="1" shape-rendering="crispEdges"/>
<polyline points="701.8,28.0 701.0,34.5 703.2,41.2 701.0,42.8 690.5,46.5 689.8,54.0 686.0,54.8 669.5,58.5 665.0,63.0 664.2,66.0 659.8,76.5 657.5,78.0 657.5,80.2 660.5,81.0 661.7,78.8 659.8,76.5" fill="none" stroke="#000" stroke-width="1" shape-rendering="crispEdges"/>
<polyline points="661.2,81.8 659.8,86.2 648.5,89.2 647.8,96.0 645.5,99.0 653.0,104.2 646.2,108.0 644.8,113.2 647.0,115.5 652.2,115.5 653.8,112.5 657.5,111.8 655.2,117.0 656.8,119.2" fill="none" stroke="#000" stroke-width="1" shape-rendering="crispEdges"/>
<polyline points="398.8,28.0 398.0,31.4 392.5,32.6 390.0,35.8 387.5,38.2 382.5,40.8 380.0,42.0 375.0,41.8 370.0,40.5 366.0,37.0 362.0,31.0 360.0,28.0" fill="none" stroke="#000" stroke-width="1" shape-rendering="crispEdges"/>
<path d="M9.5 27V773M81.5 27V773M154.5 27V773M227.5 27V773M300.5 27V773M372.5 27V773M445.5 27V773M518.5 27V773M590.5 27V773M663.5 27V773M736.5 27V773M0 36.5H800M0 109.5H800M0 181.5H800M0 254.5H800M0 327.5H800M0 400.5H800M0 472.5H800M0 545.5H800M0 618.5H800M0 690.5H800M0 763.5H800" stroke="#808080" stroke-width="1" fill="none" shape-rendering="crispEdges"/>
<path d="M0 27.5H800M0.5 27V773M1.5 27v4M1.5 769v4M9.5 27v18M9.5 756v17M16.5 27v4M16.5 769v4M23.5 27v4M23.5 769v4M30.5 27v4M30.5 769v4M38.5 27v4M38.5 769v4M45.5 27v9M45.5 764v9M52.5 27v4M52.5 769v4M60.5 27v4M60.5 769v4M67.5 27v4M67.5 769v4M74.5 27v4M74.5 769v4M81.5 27v18M81.5 756v17M89.5 27v4M89.5 769v4M96.5 27v4M96.5 769v4M103.5 27v4M103.5 769v4M110.5 27v4M110.5 769v4M118.5 27v9M118.5 764v9M125.5 27v4M125.5 769v4M132.5 27v4M132.5 769v4M140.5 27v4M140.5 769v4M147.5 27v4M147.5 769v4M154.5 27v18M154.5 756v17M161.5 27v4M161.5 769v4M169.5 27v4M169.5 769v4M176.5 27v4M176.5 769v4M183.5 27v4M183.5 769v4M190.5 27v9M190.5 764v9M198.5 27v4M198.5 769v4M205.5 27v4M205.5 769v4M212.5 27v4M212.5 769v4M220.5 27v4M220.5 769v4M227.5 27v18M227.5 756v17M234.5 27v4M234.5 769v4M241.5 27v4M241.5 769v4M249.5 27v4M249.5 769v4M256.5 27v4M256.5 769v4M263.5 27v9M263.5 764v9M270.5 27v4M270.5 769v4M278.5 27v4M278.5 769v4M285.5 27v4M285.5 769v4M292.5 27v4M292.5 769v4M300.5 27v18M300.5 756v17M307.5 27v4M307.5 769v4M314.5 27v4M314.5 769v4M321.5 27v4M321.5 769v4M329.5 27v4M329.5 769v4M336.5 27v9M336.5 764v9M343.5 27v4M343.5 769v4M350.5 27v4M350.5 769v4M358.5 27v4M358.5 769v4M365.5 27v4M365.5 769v4M372.5 27v18M372.5 756v17M380.5 27v4M380.5 769v4M387.5 27v4M387.5 769v4M394.5 27v4M394.5 769v4M401.5 27v4M401.5 769v4M409.5 27v9M409.5 764v9M416.5 27v4M416.5 769v4M423.5 27v4M423.5 769v4M430.5 27v4M430.5 769v4M438.5 27v4M438.5 769v4M445.5 27v18M445.5 756v17M452.5 27v4M452.5 769v4M460.5 27v4M460.5 769v4M467.5 27v4M467.5 769v4M474.5 27v4M474.5 769v4M481.5 27v9M481.5 764v9M489.5 27v4M489.5 769v4M496.5 27v4M496.5 769v4M503.5 27v4M503.5 769v4M510.5 27v4M510.5 769v4M518.5 27v18M518.5 756v17M525.5 27v4M525.5 769v4M532.5 27v4M532.5 769v4M540.5 27v4M540.5 769v4M547.5 27v4M547.5 769v4M554.5 27v9M554.5 764v9M561.5 27v4M561.5 769v4M569.5 27v4M569.5 769v4M576.5 27v4M576.5 769v4M583.5 27v4M583.5 769v4M590.5 27v18M590.5 756v17M598.5 27v4M598.5 769v4M605.5 27v4M605.5 769v4M612.5 27v4M612.5 769v4M620.5 27v4M620.5 769v4M627.5 27v9M627.5 764v9M634.5 27v4M634.5 769v4M641.5 27v4M641.5 769v4M649.5 27v4M649.5 769v4M656.5 27v4M656.5 769v4M663.5 27v18M663.5 756v17M670.5 27v4M670.5 769v4M678.5 27v4M678.5 769v4M685.5 27v4M685.5 769v4M692.5 27v4M692.5 769v4M700.5 27v9M700.5 764v9M707.5 27v4M707.5 769v4M714.5 27v4M714.5 769v4M721.5 27v4M721.5 769v4M729.5 27v4M729.5 769v4M736.5 27v18M736.5 756v17M743.5 27v4M743.5 769v4M750.5 27v4M750.5 769v4M758.5 27v4M758.5 769v4M765.5 27v4M765.5 769v4M772.5 27v9M772.5 764v9M780.5 27v4M780.5 769v4M787.5 27v4M787.5 769v4M794.5 27v4M794.5 769v4M0 29.5h4M800 29.5h-4M0 36.5h18M800 36.5h-18M0 43.5h4M800 43.5h-4M0 50.5h4M800 50.5h-4M0 58.5h4M800 58.5h-4M0 65.5h4M800 65.5h-4M0 72.5h9M800 72.5h-9M0 80.5h4M800 80.5h-4M0 87.5h4M800 87.5h-4M0 94.5h4M800 94.5h-4M0 101.5h4M800 101.5h-4M0 109.5h18M800 109.5h-18M0 116.5h4M800 116.5h-4M0 123.5h4M800 123.5h-4M0 130.5h4M800 130.5h-4M0 138.5h4M800 138.5h-4M0 145.5h9M800 145.5h-9M0 152.5h4M800 152.5h-4M0 160.5h4M800 160.5h-4M0 167.5h4M800 167.5h-4M0 174.5h4M800 174.5h-4M0 181.5h18M800 181.5h-18M0 189.5h4M800 189.5h-4M0 196.5h4M800 196.5h-4M0 203.5h4M800 203.5h-4M0 210.5h4M800 210.5h-4M0 218.5h9M800 218.5h-9M0 225.5h4M800 225.5h-4M0 232.5h4M800 232.5h-4M0 240.5h4M800 240.5h-4M0 247.5h4M800 247.5h-4M0 254.5h18M800 254.5h-18M0 261.5h4M800 261.5h-4M0 269.5h4M800 269.5h-4M0 276.5h4M800 276.5h-4M0 283.5h4M800 283.5h-4M0 290.5h9M800 290.5h-9M0 298.5h4M800 298.5h-4M0 305.5h4M800 305.5h-4M0 312.5h4M800 312.5h-4M0 320.5h4M800 320.5h-4M0 327.5h18M800 327.5h-18M0 334.5h4M800 334.5h-4M0 341.5h4M800 341.5h-4M0 349.5h4M800 349.5h-4M0 356.5h4M800 356.5h-4M0 363.5h9M800 363.5h-9M0 370.5h4M800 370.5h-4M0 378.5h4M800 378.5h-4M0 385.5h4M800 385.5h-4M0 392.5h4M800 392.5h-4M0 400.5h18M800 400.5h-18M0 407.5h4M800 407.5h-4M0 414.5h4M800 414.5h-4M0 421.5h4M800 421.5h-4M0 429.5h4M800 429.5h-4M0 436.5h9M800 436.5h-9M0 443.5h4M800 443.5h-4M0 450.5h4M800 450.5h-4M0 458.5h4M800 458.5h-4M0 465.5h4M800 465.5h-4M0 472.5h18M800 472.5h-18M0 480.5h4M800 480.5h-4M0 487.5h4M800 487.5h-4M0 494.5h4M800 494.5h-4M0 501.5h4M800 501.5h-4M0 509.5h9M800 509.5h-9M0 516.5h4M800 516.5h-4M0 523.5h4M800 523.5h-4M0 530.5h4M800 530.5h-4M0 538.5h4M800 538.5h-4M0 545.5h18M800 545.5h-18M0 552.5h4M800 552.5h-4M0 560.5h4M800 560.5h-4M0 567.5h4M800 567.5h-4M0 574.5h4M800 574.5h-4M0 581.5h9M800 581.5h-9M0 589.5h4M800 589.5h-4M0 596.5h4M800 596.5h-4M0 603.5h4M800 603.5h-4M0 610.5h4M800 610.5h-4M0 618.5h18M800 618.5h-18M0 625.5h4M800 625.5h-4M0 632.5h4M800 632.5h-4M0 640.5h4M800 640.5h-4M0 647.5h4M800 647.5h-4M0 654.5h9M800 654.5h-9M0 661.5h4M800 661.5h-4M0 669.5h4M800 669.5h-4M0 676.5h4M800 676.5h-4M0 683.5h4M800 683.5h-4M0 690.5h18M800 690.5h-18M0 698.5h4M800 698.5h-4M0 705.5h4M800 705.5h-4M0 712.5h4M800 712.5h-4M0 720.5h4M800 720.5h-4M0 727.5h9M800 727.5h-9M0 734.5h4M800 734.5h-4M0 741.5h4M800 741.5h-4M0 749.5h4M800 749.5h-4M0 756.5h4M800 756.5h-4M0 763.5h18M800 763.5h-18M0 770.5h4M800 770.5h-4" stroke="#000" stroke-width="1" fill="none" shape-rendering="crispEdges"/>
<g filter="url(#ga)">
<clipPath id="cp"><rect x="0" y="28" width="800" height="745"/></clipPath>
<text x="792" y="31.9" text-anchor="end" textLength="20.5" lengthAdjust="spacingAndGlyphs" clip-path="url(#cp)" font-family="'Liberation Sans',sans-serif" font-size="12.5" fill="#808080">31S</text>
<text x="792" y="104.6" text-anchor="end" textLength="20.5" lengthAdjust="spacingAndGlyphs" font-family="'Liberation Sans',sans-serif" font-size="12.5" fill="#808080">32S</text>
<text x="792" y="177.3" text-anchor="end" textLength="20.5" lengthAdjust="spacingAndGlyphs" font-family="'Liberation Sans',sans-serif" font-size="12.5" fill="#808080">33S</text>
<text x="792" y="250.0" text-anchor="end" textLength="20.5" lengthAdjust="spacingAndGlyphs" font-family="'Liberation Sans',sans-serif" font-size="12.5" fill="#808080">34S</text>
<text x="792" y="322.8" text-anchor="end" textLength="20.5" lengthAdjust="spacingAndGlyphs" font-family="'Liberation Sans',sans-serif" font-size="12.5" fill="#808080">35S</text>
<text x="792" y="395.5" text-anchor="end" textLength="20.5" lengthAdjust="spacingAndGlyphs" font-family="'Liberation Sans',sans-serif" font-size="12.5" fill="#808080">36S</text>
<text x="792" y="468.2" text-anchor="end" textLength="20.5" lengthAdjust="spacingAndGlyphs" font-family="'Liberation Sans',sans-serif" font-size="12.5" fill="#808080">37S</text>
<text x="792" y="541.0" text-anchor="end" textLength="20.5" lengthAdjust="spacingAndGlyphs" font-family="'Liberation Sans',sans-serif" font-size="12.5" fill="#808080">38S</text>
<text x="792" y="613.7" text-anchor="end" textLength="20.5" lengthAdjust="spacingAndGlyphs" font-family="'Liberation Sans',sans-serif" font-size="12.5" fill="#808080">39S</text>
<text x="792" y="686.4" text-anchor="end" textLength="20.5" lengthAdjust="spacingAndGlyphs" font-family="'Liberation Sans',sans-serif" font-size="12.5" fill="#808080">40S</text>
<text x="792" y="759.1" text-anchor="end" textLength="20.5" lengthAdjust="spacingAndGlyphs" font-family="'Liberation Sans',sans-serif" font-size="12.5" fill="#808080">41S</text>
<text transform="translate(13.6,744) rotate(90)" textLength="20.5" lengthAdjust="spacingAndGlyphs" font-family="'Liberation Sans',sans-serif" font-size="12.5" fill="#808080">61W</text>
<text transform="translate(86.3,744) rotate(90)" textLength="20.5" lengthAdjust="spacingAndGlyphs" font-family="'Liberation Sans',sans-serif" font-size="12.5" fill="#808080">60W</text>
<text transform="translate(159.0,744) rotate(90)" textLength="20.5" lengthAdjust="spacingAndGlyphs" font-family="'Liberation Sans',sans-serif" font-size="12.5" fill="#808080">59W</text>
<text transform="translate(231.8,744) rotate(90)" textLength="20.5" lengthAdjust="spacingAndGlyphs" font-family="'Liberation Sans',sans-serif" font-size="12.5" fill="#808080">58W</text>
<text transform="translate(304.5,744) rotate(90)" textLength="20.5" lengthAdjust="spacingAndGlyphs" font-family="'Liberation Sans',sans-serif" font-size="12.5" fill="#808080">57W</text>
<text transform="translate(377.2,744) rotate(90)" textLength="20.5" lengthAdjust="spacingAndGlyphs" font-family="'Liberation Sans',sans-serif" font-size="12.5" fill="#808080">56W</text>
<text transform="translate(450.0,744) rotate(90)" textLength="20.5" lengthAdjust="spacingAndGlyphs" font-family="'Liberation Sans',sans-serif" font-size="12.5" fill="#808080">55W</text>
<text transform="translate(522.7,744) rotate(90)" textLength="20.5" lengthAdjust="spacingAndGlyphs" font-family="'Liberation Sans',sans-serif" font-size="12.5" fill="#808080">54W</text>
<text transform="translate(595.4,744) rotate(90)" textLength="20.5" lengthAdjust="spacingAndGlyphs" font-family="'Liberation Sans',sans-serif" font-size="12.5" fill="#808080">53W</text>
<text transform="translate(668.1,744) rotate(90)" textLength="20.5" lengthAdjust="spacingAndGlyphs" font-family="'Liberation Sans',sans-serif" font-size="12.5" fill="#808080">52W</text>
<text transform="translate(740.9,744) rotate(90)" textLength="20.5" lengthAdjust="spacingAndGlyphs" font-family="'Liberation Sans',sans-serif" font-size="12.5" fill="#808080">51W</text>
</g>
<defs><linearGradient id="cb" x1="0" y1="1" x2="0" y2="0">
<stop offset="0.0000" stop-color="#0000ff"/>
<stop offset="0.2633" stop-color="#00ffff"/>
<stop offset="0.4000" stop-color="#00ff00"/>
<stop offset="0.5333" stop-color="#ffff00"/>
<stop offset="0.8367" stop-color="#ff0000"/>
<stop offset="1.0000" stop-color="#c00080"/>
</linearGradient></defs>
<g shape-rendering="crispEdges">
<rect x="32" y="160" width="49" height="609" fill="#fff"/>
<rect x="34" y="162" width="45" height="605" fill="url(#cb)"/>
<path d="M32.5 769V160.5H80.5V769" stroke="#000" stroke-width="1" fill="none"/>
</g>
<g filter="url(#ga)">
<text x="87" y="773.0" font-family="'Liberation Sans',sans-serif" font-size="14" fill="#000">0</text>
<text x="87" y="621.0" font-family="'Liberation Sans',sans-serif" font-size="14" fill="#000">8</text>
<text x="87" y="469.0" font-family="'Liberation Sans',sans-serif" font-size="14" fill="#000">15</text>
<text x="87" y="317.0" font-family="'Liberation Sans',sans-serif" font-size="14" fill="#000">22</text>
<text x="87" y="165.0" font-family="'Liberation Sans',sans-serif" font-size="14" fill="#000">30</text>
<text x="34.5" y="147.2" textLength="43" lengthAdjust="spacingAndGlyphs" font-family="'Liberation Sans',sans-serif" font-size="17" fill="#000">[m/s]</text>
</g>
<g filter="url(#ga)">
<text x="4.76" y="50.3" textLength="102.76" lengthAdjust="spacingAndGlyphs" font-family="'DejaVu Sans','Liberation Sans',sans-serif" font-weight="bold" font-size="25" fill="#808080" style="font-kerning:none">modelo</text>
<text x="114.86" y="50.3" textLength="173.10" lengthAdjust="spacingAndGlyphs" font-family="'DejaVu Sans','Liberation Sans',sans-serif" font-weight="bold" font-size="25" fill="#808080" style="font-kerning:none">GEFS-WAVE</text>
<text x="292.78" y="50.3" textLength="95.92" lengthAdjust="spacingAndGlyphs" font-family="'DejaVu Sans','Liberation Sans',sans-serif" font-weight="bold" font-size="25" fill="#808080" style="font-kerning:none">(NCEP)</text>
</g>
</svg>
</body></html>
